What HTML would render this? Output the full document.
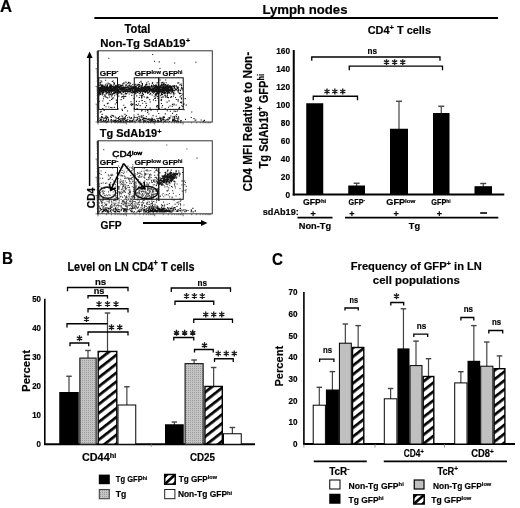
<!DOCTYPE html>
<html><head><meta charset="utf-8"><title>Figure</title>
<style>html,body{margin:0;padding:0;background:#fff;} svg{display:block;filter:blur(0.3px);} text{stroke:#000;stroke-width:0.18px;}</style>
</head><body>
<svg width="520" height="508" viewBox="0 0 520 508">
<defs>
<pattern id="hatch" patternUnits="userSpaceOnUse" width="7" height="7" patternTransform="rotate(-38)">
<rect width="7" height="7" fill="#fff"/><rect width="7" height="2.7" fill="#000"/></pattern>
<pattern id="dotg" patternUnits="userSpaceOnUse" width="2" height="2">
<rect width="2" height="2" fill="#c4c4c4"/><rect width="1" height="1" fill="#9a9a9a"/></pattern>
</defs>
<rect width="520" height="508" fill="#fff"/>
<g font-family="'Liberation Sans', Arial, sans-serif">
<text x="0" y="12.4" font-size="17.2" font-weight="bold" textLength="12.1" lengthAdjust="spacingAndGlyphs" >A</text>
<line x1="94.4" y1="18" x2="498" y2="18" stroke="#000" stroke-width="1.8"/>
<text x="262.5" y="13.8" font-size="12.9" font-weight="bold" textLength="85" lengthAdjust="spacingAndGlyphs" >Lymph nodes</text>
<text x="124.6" y="33.2" font-size="12.3" font-weight="bold" textLength="25.8" lengthAdjust="spacingAndGlyphs" >Total</text>
<text x="100.2" y="47.3" font-size="11.3" font-weight="bold" textLength="90" lengthAdjust="spacingAndGlyphs" >Non-Tg SdAb19<tspan font-size="7.68" dy="-3.84">+</tspan></text>
<path d="M110.5 89.4h1.1v1.1h-1.1zM115.9 91.2h1.1v1.1h-1.1zM113.5 90.5h1.1v1.1h-1.1zM102.5 89.6h1.1v1.1h-1.1zM104.0 89.4h1.1v1.1h-1.1zM115.5 92.2h1.1v1.1h-1.1zM114.4 88.5h1.1v1.1h-1.1zM113.9 87.0h1.1v1.1h-1.1zM107.4 88.5h1.1v1.1h-1.1zM104.1 86.6h1.1v1.1h-1.1zM103.6 88.9h1.1v1.1h-1.1zM103.1 89.2h1.1v1.1h-1.1zM106.9 84.6h1.1v1.1h-1.1zM108.1 88.7h1.1v1.1h-1.1zM109.1 90.0h1.1v1.1h-1.1zM117.9 89.0h1.1v1.1h-1.1zM113.9 86.8h1.1v1.1h-1.1zM110.4 94.1h1.1v1.1h-1.1zM117.8 87.3h1.1v1.1h-1.1zM102.3 86.2h1.1v1.1h-1.1zM101.2 86.5h1.1v1.1h-1.1zM110.3 88.7h1.1v1.1h-1.1zM98.9 90.7h1.1v1.1h-1.1zM98.7 87.3h1.1v1.1h-1.1zM108.3 89.1h1.1v1.1h-1.1zM107.3 86.3h1.1v1.1h-1.1zM116.3 87.4h1.1v1.1h-1.1zM110.6 86.9h1.1v1.1h-1.1zM108.3 93.3h1.1v1.1h-1.1zM107.9 90.9h1.1v1.1h-1.1zM103.0 88.9h1.1v1.1h-1.1zM101.8 88.4h1.1v1.1h-1.1zM111.8 89.6h1.1v1.1h-1.1zM102.0 86.8h1.1v1.1h-1.1zM105.4 87.8h1.1v1.1h-1.1zM114.6 91.0h1.1v1.1h-1.1zM101.1 90.8h1.1v1.1h-1.1zM103.4 87.8h1.1v1.1h-1.1zM115.6 91.1h1.1v1.1h-1.1zM108.2 88.1h1.1v1.1h-1.1zM114.9 91.7h1.1v1.1h-1.1zM110.8 89.7h1.1v1.1h-1.1zM112.8 87.6h1.1v1.1h-1.1zM99.8 90.3h1.1v1.1h-1.1zM108.8 87.2h1.1v1.1h-1.1zM108.2 86.8h1.1v1.1h-1.1zM115.4 77.0h1.1v1.1h-1.1zM105.2 89.2h1.1v1.1h-1.1zM110.0 88.6h1.1v1.1h-1.1zM99.2 88.5h1.1v1.1h-1.1zM105.8 87.9h1.1v1.1h-1.1zM104.5 91.6h1.1v1.1h-1.1zM101.0 91.0h1.1v1.1h-1.1zM114.3 87.3h1.1v1.1h-1.1zM105.6 91.2h1.1v1.1h-1.1zM117.6 91.5h1.1v1.1h-1.1zM109.8 86.4h1.1v1.1h-1.1zM110.1 85.2h1.1v1.1h-1.1zM110.8 87.5h1.1v1.1h-1.1zM111.5 90.0h1.1v1.1h-1.1zM101.0 88.7h1.1v1.1h-1.1zM106.8 91.8h1.1v1.1h-1.1zM102.8 86.0h1.1v1.1h-1.1zM106.0 90.1h1.1v1.1h-1.1zM99.9 87.4h1.1v1.1h-1.1zM117.4 90.5h1.1v1.1h-1.1zM102.3 88.5h1.1v1.1h-1.1zM111.4 90.8h1.1v1.1h-1.1zM104.0 87.4h1.1v1.1h-1.1zM115.5 85.9h1.1v1.1h-1.1zM111.2 86.5h1.1v1.1h-1.1zM100.6 87.5h1.1v1.1h-1.1zM114.9 86.7h1.1v1.1h-1.1zM116.9 91.1h1.1v1.1h-1.1zM116.1 91.4h1.1v1.1h-1.1zM109.4 85.1h1.1v1.1h-1.1zM100.9 86.6h1.1v1.1h-1.1zM101.8 88.5h1.1v1.1h-1.1zM116.6 87.3h1.1v1.1h-1.1zM109.0 91.6h1.1v1.1h-1.1zM101.6 89.3h1.1v1.1h-1.1zM115.7 89.7h1.1v1.1h-1.1zM110.8 87.9h1.1v1.1h-1.1zM109.4 84.7h1.1v1.1h-1.1zM105.5 85.6h1.1v1.1h-1.1zM106.2 92.2h1.1v1.1h-1.1zM102.8 89.4h1.1v1.1h-1.1zM98.8 88.9h1.1v1.1h-1.1zM115.5 87.1h1.1v1.1h-1.1zM107.4 87.9h1.1v1.1h-1.1zM109.0 92.5h1.1v1.1h-1.1zM104.4 86.8h1.1v1.1h-1.1zM113.0 86.9h1.1v1.1h-1.1zM98.5 88.2h1.1v1.1h-1.1zM105.4 87.3h1.1v1.1h-1.1zM98.6 87.8h1.1v1.1h-1.1zM100.5 80.3h1.1v1.1h-1.1zM117.3 92.2h1.1v1.1h-1.1zM111.2 85.1h1.1v1.1h-1.1zM106.6 88.7h1.1v1.1h-1.1zM108.5 92.0h1.1v1.1h-1.1zM115.5 88.5h1.1v1.1h-1.1zM104.9 88.3h1.1v1.1h-1.1zM109.8 86.5h1.1v1.1h-1.1zM111.7 80.9h1.1v1.1h-1.1zM105.1 79.7h1.1v1.1h-1.1zM108.4 94.5h1.1v1.1h-1.1zM113.3 88.7h1.1v1.1h-1.1zM116.2 88.9h1.1v1.1h-1.1zM101.0 88.4h1.1v1.1h-1.1zM116.7 90.7h1.1v1.1h-1.1zM113.1 89.0h1.1v1.1h-1.1zM114.2 88.6h1.1v1.1h-1.1zM100.7 86.7h1.1v1.1h-1.1zM106.4 87.0h1.1v1.1h-1.1zM114.3 86.6h1.1v1.1h-1.1zM110.6 87.8h1.1v1.1h-1.1zM113.9 86.6h1.1v1.1h-1.1zM108.3 89.2h1.1v1.1h-1.1zM112.5 93.1h1.1v1.1h-1.1zM102.5 88.7h1.1v1.1h-1.1zM102.0 92.1h1.1v1.1h-1.1zM105.3 90.6h1.1v1.1h-1.1zM101.6 86.4h1.1v1.1h-1.1zM104.9 90.8h1.1v1.1h-1.1zM117.0 88.8h1.1v1.1h-1.1zM109.5 88.9h1.1v1.1h-1.1zM104.8 91.0h1.1v1.1h-1.1zM103.4 86.6h1.1v1.1h-1.1zM117.0 88.5h1.1v1.1h-1.1zM106.9 92.1h1.1v1.1h-1.1zM117.6 86.6h1.1v1.1h-1.1zM108.3 88.5h1.1v1.1h-1.1zM108.4 89.5h1.1v1.1h-1.1zM115.9 93.5h1.1v1.1h-1.1zM112.9 90.3h1.1v1.1h-1.1zM109.6 88.6h1.1v1.1h-1.1zM106.5 90.0h1.1v1.1h-1.1zM115.6 88.9h1.1v1.1h-1.1zM106.2 86.3h1.1v1.1h-1.1zM116.5 86.0h1.1v1.1h-1.1zM99.4 88.9h1.1v1.1h-1.1zM106.6 89.6h1.1v1.1h-1.1zM108.4 90.1h1.1v1.1h-1.1zM117.0 90.7h1.1v1.1h-1.1zM103.0 89.5h1.1v1.1h-1.1zM114.1 92.7h1.1v1.1h-1.1zM111.5 86.5h1.1v1.1h-1.1zM112.3 92.9h1.1v1.1h-1.1zM110.6 91.1h1.1v1.1h-1.1zM117.4 87.9h1.1v1.1h-1.1zM104.7 88.9h1.1v1.1h-1.1zM106.0 87.0h1.1v1.1h-1.1zM102.1 91.8h1.1v1.1h-1.1zM99.0 93.0h1.1v1.1h-1.1zM102.3 87.9h1.1v1.1h-1.1zM116.3 89.5h1.1v1.1h-1.1zM114.8 88.2h1.1v1.1h-1.1zM100.2 91.2h1.1v1.1h-1.1zM110.1 90.2h1.1v1.1h-1.1zM107.6 82.6h1.1v1.1h-1.1zM109.9 88.3h1.1v1.1h-1.1zM111.2 89.0h1.1v1.1h-1.1zM104.1 86.7h1.1v1.1h-1.1zM117.2 90.1h1.1v1.1h-1.1zM107.3 87.3h1.1v1.1h-1.1zM110.6 85.4h1.1v1.1h-1.1zM110.7 89.0h1.1v1.1h-1.1zM101.7 90.9h1.1v1.1h-1.1zM99.2 82.5h1.1v1.1h-1.1zM106.2 90.7h1.1v1.1h-1.1zM113.3 84.5h1.1v1.1h-1.1zM114.3 89.9h1.1v1.1h-1.1zM112.6 88.3h1.1v1.1h-1.1zM100.3 87.3h1.1v1.1h-1.1zM116.3 89.1h1.1v1.1h-1.1zM114.0 88.0h1.1v1.1h-1.1zM115.6 84.7h1.1v1.1h-1.1zM108.5 94.6h1.1v1.1h-1.1zM116.3 85.7h1.1v1.1h-1.1zM98.9 91.1h1.1v1.1h-1.1zM98.6 84.8h1.1v1.1h-1.1zM103.1 85.4h1.1v1.1h-1.1zM103.0 92.0h1.1v1.1h-1.1zM101.8 92.4h1.1v1.1h-1.1zM109.3 88.9h1.1v1.1h-1.1zM98.8 91.9h1.1v1.1h-1.1zM109.8 85.1h1.1v1.1h-1.1zM101.3 88.0h1.1v1.1h-1.1zM111.6 97.4h1.1v1.1h-1.1zM104.2 90.6h1.1v1.1h-1.1zM116.8 88.0h1.1v1.1h-1.1zM108.8 88.7h1.1v1.1h-1.1zM114.2 93.1h1.1v1.1h-1.1zM111.2 89.4h1.1v1.1h-1.1zM110.2 93.4h1.1v1.1h-1.1zM101.8 94.4h1.1v1.1h-1.1zM109.5 89.1h1.1v1.1h-1.1zM98.8 86.9h1.1v1.1h-1.1zM114.0 87.2h1.1v1.1h-1.1zM117.2 91.6h1.1v1.1h-1.1zM115.1 86.5h1.1v1.1h-1.1zM99.0 86.9h1.1v1.1h-1.1zM104.8 88.5h1.1v1.1h-1.1zM104.4 87.8h1.1v1.1h-1.1zM100.3 92.6h1.1v1.1h-1.1zM110.5 84.0h1.1v1.1h-1.1zM113.9 88.4h1.1v1.1h-1.1zM104.3 89.9h1.1v1.1h-1.1zM115.3 86.5h1.1v1.1h-1.1zM113.9 91.7h1.1v1.1h-1.1zM100.6 89.6h1.1v1.1h-1.1zM113.3 92.0h1.1v1.1h-1.1zM115.7 85.1h1.1v1.1h-1.1zM101.9 85.5h1.1v1.1h-1.1zM109.5 90.6h1.1v1.1h-1.1zM110.8 89.7h1.1v1.1h-1.1zM110.2 88.0h1.1v1.1h-1.1zM99.9 84.3h1.1v1.1h-1.1zM111.2 95.6h1.1v1.1h-1.1zM110.6 88.3h1.1v1.1h-1.1zM114.5 86.0h1.1v1.1h-1.1zM114.1 88.6h1.1v1.1h-1.1zM104.5 95.3h1.1v1.1h-1.1zM112.4 87.6h1.1v1.1h-1.1zM115.3 91.6h1.1v1.1h-1.1zM115.9 91.6h1.1v1.1h-1.1zM101.2 84.4h1.1v1.1h-1.1zM98.5 86.8h1.1v1.1h-1.1zM111.0 92.3h1.1v1.1h-1.1zM102.3 88.0h1.1v1.1h-1.1zM109.3 86.0h1.1v1.1h-1.1zM116.9 87.3h1.1v1.1h-1.1zM105.6 88.5h1.1v1.1h-1.1zM103.1 88.5h1.1v1.1h-1.1zM107.1 87.7h1.1v1.1h-1.1zM111.1 88.1h1.1v1.1h-1.1zM100.0 83.6h1.1v1.1h-1.1zM105.6 89.4h1.1v1.1h-1.1zM100.7 87.1h1.1v1.1h-1.1zM111.2 88.1h1.1v1.1h-1.1zM114.6 88.4h1.1v1.1h-1.1zM105.5 83.5h1.1v1.1h-1.1zM105.4 89.4h1.1v1.1h-1.1zM108.8 88.5h1.1v1.1h-1.1zM102.3 89.8h1.1v1.1h-1.1zM102.9 89.5h1.1v1.1h-1.1zM104.6 84.6h1.1v1.1h-1.1zM107.1 89.7h1.1v1.1h-1.1zM99.6 92.3h1.1v1.1h-1.1zM113.1 89.6h1.1v1.1h-1.1zM109.6 94.0h1.1v1.1h-1.1zM104.0 87.9h1.1v1.1h-1.1zM99.6 93.9h1.1v1.1h-1.1zM113.3 89.7h1.1v1.1h-1.1zM100.6 88.5h1.1v1.1h-1.1zM100.7 85.7h1.1v1.1h-1.1zM100.6 90.6h1.1v1.1h-1.1zM99.6 89.4h1.1v1.1h-1.1zM116.1 90.2h1.1v1.1h-1.1zM103.4 90.3h1.1v1.1h-1.1zM104.1 86.1h1.1v1.1h-1.1zM114.7 90.8h1.1v1.1h-1.1zM110.4 89.0h1.1v1.1h-1.1zM101.7 89.9h1.1v1.1h-1.1zM106.7 89.5h1.1v1.1h-1.1zM115.7 89.1h1.1v1.1h-1.1zM105.5 87.5h1.1v1.1h-1.1zM112.2 93.9h1.1v1.1h-1.1zM99.9 86.9h1.1v1.1h-1.1zM112.5 80.5h1.1v1.1h-1.1zM113.5 89.6h1.1v1.1h-1.1zM114.5 88.8h1.1v1.1h-1.1zM111.5 90.8h1.1v1.1h-1.1zM105.4 89.4h1.1v1.1h-1.1zM99.3 87.4h1.1v1.1h-1.1zM108.4 89.4h1.1v1.1h-1.1zM113.1 97.2h1.1v1.1h-1.1zM101.8 89.9h1.1v1.1h-1.1zM103.3 96.2h1.1v1.1h-1.1zM108.7 86.7h1.1v1.1h-1.1zM113.0 88.7h1.1v1.1h-1.1zM115.9 88.8h1.1v1.1h-1.1zM100.5 88.1h1.1v1.1h-1.1zM101.7 91.3h1.1v1.1h-1.1zM114.0 82.7h1.1v1.1h-1.1zM110.9 88.0h1.1v1.1h-1.1zM112.4 88.0h1.1v1.1h-1.1zM117.9 84.2h1.1v1.1h-1.1zM116.8 88.4h1.1v1.1h-1.1zM114.9 85.1h1.1v1.1h-1.1zM113.5 83.3h1.1v1.1h-1.1zM105.9 89.3h1.1v1.1h-1.1zM110.8 90.8h1.1v1.1h-1.1zM101.7 87.2h1.1v1.1h-1.1zM113.2 88.0h1.1v1.1h-1.1zM113.2 88.8h1.1v1.1h-1.1zM112.4 90.2h1.1v1.1h-1.1zM106.9 85.7h1.1v1.1h-1.1zM105.6 88.1h1.1v1.1h-1.1zM106.4 92.6h1.1v1.1h-1.1zM98.7 91.3h1.1v1.1h-1.1zM114.9 89.6h1.1v1.1h-1.1zM108.8 88.4h1.1v1.1h-1.1zM105.8 86.4h1.1v1.1h-1.1zM109.0 87.2h1.1v1.1h-1.1zM112.4 88.3h1.1v1.1h-1.1zM105.6 93.3h1.1v1.1h-1.1zM114.6 89.4h1.1v1.1h-1.1zM116.4 91.2h1.1v1.1h-1.1zM105.7 90.8h1.1v1.1h-1.1zM100.8 85.5h1.1v1.1h-1.1zM113.2 86.7h1.1v1.1h-1.1zM117.9 85.5h1.1v1.1h-1.1zM101.0 90.8h1.1v1.1h-1.1zM112.3 89.9h1.1v1.1h-1.1zM114.5 90.1h1.1v1.1h-1.1zM116.4 86.9h1.1v1.1h-1.1zM100.5 86.4h1.1v1.1h-1.1zM99.8 88.9h1.1v1.1h-1.1zM117.8 92.5h1.1v1.1h-1.1zM100.3 93.6h1.1v1.1h-1.1zM101.5 89.0h1.1v1.1h-1.1zM109.5 92.2h1.1v1.1h-1.1zM106.9 89.2h1.1v1.1h-1.1zM113.0 90.4h1.1v1.1h-1.1zM101.8 84.5h1.1v1.1h-1.1zM116.3 88.2h1.1v1.1h-1.1zM102.3 84.4h1.1v1.1h-1.1zM113.4 88.2h1.1v1.1h-1.1zM99.4 87.8h1.1v1.1h-1.1zM107.5 83.5h1.1v1.1h-1.1zM98.7 90.1h1.1v1.1h-1.1zM104.3 94.3h1.1v1.1h-1.1zM104.2 88.9h1.1v1.1h-1.1zM112.4 86.8h1.1v1.1h-1.1zM107.1 87.5h1.1v1.1h-1.1zM99.1 89.0h1.1v1.1h-1.1zM117.9 87.3h1.1v1.1h-1.1zM115.8 86.2h1.1v1.1h-1.1zM116.3 88.0h1.1v1.1h-1.1zM102.9 91.1h1.1v1.1h-1.1zM105.9 89.1h1.1v1.1h-1.1zM102.5 93.1h1.1v1.1h-1.1zM100.5 88.4h1.1v1.1h-1.1zM98.7 88.1h1.1v1.1h-1.1zM108.1 90.6h1.1v1.1h-1.1zM100.5 87.5h1.1v1.1h-1.1zM101.5 91.6h1.1v1.1h-1.1zM115.2 89.4h1.1v1.1h-1.1zM107.7 90.2h1.1v1.1h-1.1zM101.7 88.4h1.1v1.1h-1.1zM111.4 88.7h1.1v1.1h-1.1zM103.3 88.3h1.1v1.1h-1.1zM108.5 88.9h1.1v1.1h-1.1zM103.7 90.0h1.1v1.1h-1.1zM108.3 89.6h1.1v1.1h-1.1zM110.6 89.7h1.1v1.1h-1.1zM108.7 89.0h1.1v1.1h-1.1zM105.9 87.2h1.1v1.1h-1.1zM113.8 88.5h1.1v1.1h-1.1zM115.5 86.8h1.1v1.1h-1.1zM101.6 92.1h1.1v1.1h-1.1zM100.7 84.5h1.1v1.1h-1.1zM100.3 88.5h1.1v1.1h-1.1zM117.6 93.5h1.1v1.1h-1.1zM116.8 95.1h1.1v1.1h-1.1zM102.6 86.4h1.1v1.1h-1.1zM117.4 88.7h1.1v1.1h-1.1zM102.2 93.4h1.1v1.1h-1.1zM108.1 88.4h1.1v1.1h-1.1zM107.9 89.9h1.1v1.1h-1.1zM116.3 88.9h1.1v1.1h-1.1zM98.8 88.0h1.1v1.1h-1.1zM104.3 95.0h1.1v1.1h-1.1zM110.0 88.8h1.1v1.1h-1.1zM99.3 87.6h1.1v1.1h-1.1zM102.7 87.7h1.1v1.1h-1.1zM107.3 89.5h1.1v1.1h-1.1zM115.6 91.8h1.1v1.1h-1.1zM113.2 90.2h1.1v1.1h-1.1zM114.6 89.0h1.1v1.1h-1.1zM113.2 81.9h1.1v1.1h-1.1zM112.2 89.8h1.1v1.1h-1.1zM115.0 88.1h1.1v1.1h-1.1zM111.6 88.1h1.1v1.1h-1.1zM112.7 85.7h1.1v1.1h-1.1zM104.0 87.6h1.1v1.1h-1.1zM101.4 89.4h1.1v1.1h-1.1zM113.1 88.6h1.1v1.1h-1.1zM101.3 81.5h1.1v1.1h-1.1zM116.4 91.2h1.1v1.1h-1.1zM109.9 88.9h1.1v1.1h-1.1zM104.6 86.5h1.1v1.1h-1.1zM116.7 87.5h1.1v1.1h-1.1zM101.1 87.0h1.1v1.1h-1.1zM108.3 90.5h1.1v1.1h-1.1zM99.8 81.9h1.1v1.1h-1.1zM117.3 88.0h1.1v1.1h-1.1zM109.5 87.3h1.1v1.1h-1.1zM114.1 87.8h1.1v1.1h-1.1zM103.6 90.4h1.1v1.1h-1.1zM114.0 87.4h1.1v1.1h-1.1zM112.1 89.0h1.1v1.1h-1.1zM110.9 87.0h1.1v1.1h-1.1zM117.0 92.6h1.1v1.1h-1.1zM106.7 85.6h1.1v1.1h-1.1zM106.3 91.0h1.1v1.1h-1.1zM111.8 86.0h1.1v1.1h-1.1zM114.7 86.5h1.1v1.1h-1.1zM104.7 90.9h1.1v1.1h-1.1zM111.4 88.3h1.1v1.1h-1.1zM102.2 88.2h1.1v1.1h-1.1zM109.0 96.4h1.1v1.1h-1.1zM113.4 86.2h1.1v1.1h-1.1zM99.3 90.2h1.1v1.1h-1.1zM112.6 88.7h1.1v1.1h-1.1zM117.2 87.4h1.1v1.1h-1.1zM107.4 89.7h1.1v1.1h-1.1zM106.2 87.3h1.1v1.1h-1.1zM112.4 90.6h1.1v1.1h-1.1zM108.5 91.0h1.1v1.1h-1.1zM112.6 90.5h1.1v1.1h-1.1zM99.7 89.7h1.1v1.1h-1.1zM109.3 90.0h1.1v1.1h-1.1zM109.2 83.3h1.1v1.1h-1.1zM116.6 90.4h1.1v1.1h-1.1zM98.8 88.2h1.1v1.1h-1.1zM107.1 88.9h1.1v1.1h-1.1zM110.6 88.1h1.1v1.1h-1.1zM109.0 85.9h1.1v1.1h-1.1zM99.5 89.4h1.1v1.1h-1.1zM109.9 90.0h1.1v1.1h-1.1zM102.4 93.6h1.1v1.1h-1.1zM101.9 87.9h1.1v1.1h-1.1zM115.6 86.9h1.1v1.1h-1.1zM102.0 91.6h1.1v1.1h-1.1zM107.1 87.2h1.1v1.1h-1.1zM113.0 92.8h1.1v1.1h-1.1zM112.1 88.8h1.1v1.1h-1.1zM109.1 86.9h1.1v1.1h-1.1zM114.1 95.2h1.1v1.1h-1.1zM107.3 92.1h1.1v1.1h-1.1zM110.4 85.8h1.1v1.1h-1.1zM114.4 91.8h1.1v1.1h-1.1zM111.6 94.5h1.1v1.1h-1.1zM110.8 86.0h1.1v1.1h-1.1zM106.1 87.9h1.1v1.1h-1.1zM109.2 85.5h1.1v1.1h-1.1zM105.9 89.7h1.1v1.1h-1.1zM112.9 90.6h1.1v1.1h-1.1zM105.6 92.9h1.1v1.1h-1.1zM107.3 92.1h1.1v1.1h-1.1zM113.1 90.1h1.1v1.1h-1.1zM108.1 88.2h1.1v1.1h-1.1zM104.8 86.9h1.1v1.1h-1.1zM114.5 88.1h1.1v1.1h-1.1zM105.6 87.0h1.1v1.1h-1.1zM114.9 88.2h1.1v1.1h-1.1zM113.7 83.6h1.1v1.1h-1.1zM106.9 87.5h1.1v1.1h-1.1zM112.3 88.6h1.1v1.1h-1.1zM118.6 84.5h1.1v1.1h-1.1zM124.2 90.2h1.1v1.1h-1.1zM131.8 87.7h1.1v1.1h-1.1zM127.3 89.8h1.1v1.1h-1.1zM126.9 86.2h1.1v1.1h-1.1zM128.6 87.5h1.1v1.1h-1.1zM128.8 85.0h1.1v1.1h-1.1zM127.3 91.6h1.1v1.1h-1.1zM124.7 89.9h1.1v1.1h-1.1zM120.9 86.3h1.1v1.1h-1.1zM122.7 88.6h1.1v1.1h-1.1zM122.7 90.6h1.1v1.1h-1.1zM124.9 89.7h1.1v1.1h-1.1zM134.0 84.2h1.1v1.1h-1.1zM123.6 87.0h1.1v1.1h-1.1zM125.2 87.4h1.1v1.1h-1.1zM123.9 88.9h1.1v1.1h-1.1zM127.3 90.5h1.1v1.1h-1.1zM133.2 87.0h1.1v1.1h-1.1zM132.2 84.0h1.1v1.1h-1.1zM124.0 91.0h1.1v1.1h-1.1zM122.3 86.8h1.1v1.1h-1.1zM132.2 90.9h1.1v1.1h-1.1zM125.9 89.2h1.1v1.1h-1.1zM129.0 90.5h1.1v1.1h-1.1zM119.2 92.2h1.1v1.1h-1.1zM131.9 90.1h1.1v1.1h-1.1zM123.0 90.3h1.1v1.1h-1.1zM125.9 86.9h1.1v1.1h-1.1zM121.2 87.3h1.1v1.1h-1.1zM124.7 90.0h1.1v1.1h-1.1zM131.2 91.8h1.1v1.1h-1.1zM131.2 87.3h1.1v1.1h-1.1zM125.6 93.3h1.1v1.1h-1.1zM130.3 89.3h1.1v1.1h-1.1zM125.3 87.6h1.1v1.1h-1.1zM124.0 90.7h1.1v1.1h-1.1zM126.7 88.7h1.1v1.1h-1.1zM121.2 88.6h1.1v1.1h-1.1zM123.1 92.0h1.1v1.1h-1.1zM129.3 90.7h1.1v1.1h-1.1zM130.3 90.8h1.1v1.1h-1.1zM118.9 86.5h1.1v1.1h-1.1zM129.7 85.9h1.1v1.1h-1.1zM131.1 85.5h1.1v1.1h-1.1zM125.1 86.6h1.1v1.1h-1.1zM119.0 90.4h1.1v1.1h-1.1zM128.9 85.5h1.1v1.1h-1.1zM121.9 84.4h1.1v1.1h-1.1zM128.3 88.8h1.1v1.1h-1.1zM124.0 87.1h1.1v1.1h-1.1zM128.2 88.8h1.1v1.1h-1.1zM122.1 87.7h1.1v1.1h-1.1zM125.6 81.7h1.1v1.1h-1.1zM126.4 89.3h1.1v1.1h-1.1zM128.1 88.7h1.1v1.1h-1.1zM121.3 86.5h1.1v1.1h-1.1zM133.4 91.6h1.1v1.1h-1.1zM122.6 96.6h1.1v1.1h-1.1zM122.9 86.7h1.1v1.1h-1.1zM122.1 88.7h1.1v1.1h-1.1zM119.1 87.3h1.1v1.1h-1.1zM124.8 93.3h1.1v1.1h-1.1zM130.3 85.6h1.1v1.1h-1.1zM129.4 87.7h1.1v1.1h-1.1zM121.1 93.2h1.1v1.1h-1.1zM120.2 84.7h1.1v1.1h-1.1zM123.1 94.5h1.1v1.1h-1.1zM130.3 89.8h1.1v1.1h-1.1zM125.8 84.7h1.1v1.1h-1.1zM132.8 86.3h1.1v1.1h-1.1zM128.5 91.0h1.1v1.1h-1.1zM127.9 82.1h1.1v1.1h-1.1zM130.3 86.6h1.1v1.1h-1.1zM130.0 83.2h1.1v1.1h-1.1zM123.5 96.1h1.1v1.1h-1.1zM122.1 86.8h1.1v1.1h-1.1zM125.0 89.3h1.1v1.1h-1.1zM125.8 89.2h1.1v1.1h-1.1zM120.3 92.5h1.1v1.1h-1.1zM125.1 90.2h1.1v1.1h-1.1zM128.2 90.9h1.1v1.1h-1.1zM120.2 91.3h1.1v1.1h-1.1zM120.2 86.3h1.1v1.1h-1.1zM120.8 87.9h1.1v1.1h-1.1zM122.5 87.6h1.1v1.1h-1.1zM133.4 87.9h1.1v1.1h-1.1zM118.4 86.5h1.1v1.1h-1.1zM120.9 89.6h1.1v1.1h-1.1zM120.6 89.2h1.1v1.1h-1.1zM125.6 89.4h1.1v1.1h-1.1zM118.2 95.6h1.1v1.1h-1.1zM125.3 91.3h1.1v1.1h-1.1zM120.6 89.1h1.1v1.1h-1.1zM122.3 83.2h1.1v1.1h-1.1zM130.7 87.4h1.1v1.1h-1.1zM120.9 88.6h1.1v1.1h-1.1zM127.9 81.8h1.1v1.1h-1.1zM124.5 95.7h1.1v1.1h-1.1zM124.7 92.7h1.1v1.1h-1.1zM131.1 87.4h1.1v1.1h-1.1zM120.6 89.5h1.1v1.1h-1.1zM132.8 87.8h1.1v1.1h-1.1zM132.3 87.5h1.1v1.1h-1.1zM128.7 87.2h1.1v1.1h-1.1zM118.8 86.0h1.1v1.1h-1.1zM128.6 93.4h1.1v1.1h-1.1zM127.6 85.3h1.1v1.1h-1.1zM130.4 89.9h1.1v1.1h-1.1zM121.4 93.6h1.1v1.1h-1.1zM133.3 88.2h1.1v1.1h-1.1zM132.2 89.4h1.1v1.1h-1.1zM119.8 91.1h1.1v1.1h-1.1zM123.0 90.8h1.1v1.1h-1.1zM118.5 87.5h1.1v1.1h-1.1zM131.3 88.4h1.1v1.1h-1.1zM132.6 86.1h1.1v1.1h-1.1zM133.8 92.1h1.1v1.1h-1.1zM127.8 89.6h1.1v1.1h-1.1zM128.7 91.5h1.1v1.1h-1.1zM128.9 88.1h1.1v1.1h-1.1zM127.1 89.1h1.1v1.1h-1.1zM133.2 91.8h1.1v1.1h-1.1zM127.7 88.9h1.1v1.1h-1.1zM123.4 83.1h1.1v1.1h-1.1zM126.2 88.8h1.1v1.1h-1.1zM118.3 90.0h1.1v1.1h-1.1zM129.6 89.8h1.1v1.1h-1.1zM129.1 85.5h1.1v1.1h-1.1zM124.7 90.9h1.1v1.1h-1.1zM131.6 87.6h1.1v1.1h-1.1zM130.1 87.8h1.1v1.1h-1.1zM123.4 82.2h1.1v1.1h-1.1zM119.2 84.3h1.1v1.1h-1.1zM120.1 88.0h1.1v1.1h-1.1zM120.9 85.0h1.1v1.1h-1.1zM122.9 89.0h1.1v1.1h-1.1zM125.2 81.4h1.1v1.1h-1.1zM132.8 88.5h1.1v1.1h-1.1zM122.5 91.5h1.1v1.1h-1.1zM132.4 87.1h1.1v1.1h-1.1zM128.9 83.4h1.1v1.1h-1.1zM131.7 89.1h1.1v1.1h-1.1zM124.5 90.3h1.1v1.1h-1.1zM118.1 90.8h1.1v1.1h-1.1zM130.6 87.2h1.1v1.1h-1.1zM121.9 91.5h1.1v1.1h-1.1zM120.3 89.8h1.1v1.1h-1.1zM130.8 87.7h1.1v1.1h-1.1zM129.0 88.4h1.1v1.1h-1.1zM121.4 84.8h1.1v1.1h-1.1zM122.3 89.1h1.1v1.1h-1.1zM133.0 90.5h1.1v1.1h-1.1zM122.3 91.5h1.1v1.1h-1.1zM129.2 88.8h1.1v1.1h-1.1zM120.1 85.3h1.1v1.1h-1.1zM131.0 85.2h1.1v1.1h-1.1zM119.9 91.1h1.1v1.1h-1.1zM126.3 92.9h1.1v1.1h-1.1zM118.6 91.1h1.1v1.1h-1.1zM126.8 90.1h1.1v1.1h-1.1zM131.5 88.8h1.1v1.1h-1.1zM119.4 87.5h1.1v1.1h-1.1zM122.4 88.4h1.1v1.1h-1.1zM130.2 92.2h1.1v1.1h-1.1zM127.7 87.1h1.1v1.1h-1.1zM123.0 90.6h1.1v1.1h-1.1zM128.1 86.7h1.1v1.1h-1.1zM125.3 85.1h1.1v1.1h-1.1zM131.8 86.7h1.1v1.1h-1.1zM122.7 85.4h1.1v1.1h-1.1zM130.1 86.0h1.1v1.1h-1.1zM128.2 89.6h1.1v1.1h-1.1zM129.8 88.3h1.1v1.1h-1.1zM124.1 89.1h1.1v1.1h-1.1zM129.6 91.0h1.1v1.1h-1.1zM129.2 81.9h1.1v1.1h-1.1zM124.2 87.7h1.1v1.1h-1.1zM118.4 91.4h1.1v1.1h-1.1zM133.4 90.9h1.1v1.1h-1.1zM129.4 88.7h1.1v1.1h-1.1zM121.3 89.6h1.1v1.1h-1.1zM129.7 88.9h1.1v1.1h-1.1zM122.5 87.1h1.1v1.1h-1.1zM125.5 83.7h1.1v1.1h-1.1zM131.8 89.9h1.1v1.1h-1.1zM125.2 95.9h1.1v1.1h-1.1zM122.6 88.4h1.1v1.1h-1.1zM122.9 90.6h1.1v1.1h-1.1zM119.2 91.5h1.1v1.1h-1.1zM121.5 90.2h1.1v1.1h-1.1zM122.3 91.2h1.1v1.1h-1.1zM120.8 87.9h1.1v1.1h-1.1zM119.0 88.1h1.1v1.1h-1.1zM125.5 89.3h1.1v1.1h-1.1zM121.4 88.1h1.1v1.1h-1.1zM129.8 87.7h1.1v1.1h-1.1zM132.8 92.0h1.1v1.1h-1.1zM122.4 88.3h1.1v1.1h-1.1zM127.2 86.8h1.1v1.1h-1.1zM126.1 88.4h1.1v1.1h-1.1zM119.2 92.4h1.1v1.1h-1.1zM120.0 88.9h1.1v1.1h-1.1zM132.2 91.2h1.1v1.1h-1.1zM125.6 88.2h1.1v1.1h-1.1zM130.9 87.7h1.1v1.1h-1.1zM119.1 87.3h1.1v1.1h-1.1zM127.5 88.4h1.1v1.1h-1.1zM131.8 92.4h1.1v1.1h-1.1zM131.9 86.4h1.1v1.1h-1.1zM118.1 89.9h1.1v1.1h-1.1zM126.3 86.7h1.1v1.1h-1.1zM123.9 88.2h1.1v1.1h-1.1zM130.2 90.4h1.1v1.1h-1.1zM119.2 92.1h1.1v1.1h-1.1zM122.2 89.3h1.1v1.1h-1.1zM131.0 85.4h1.1v1.1h-1.1zM125.5 90.8h1.1v1.1h-1.1zM125.3 89.6h1.1v1.1h-1.1zM133.5 90.7h1.1v1.1h-1.1zM123.1 88.6h1.1v1.1h-1.1zM118.7 89.1h1.1v1.1h-1.1zM124.3 86.4h1.1v1.1h-1.1zM120.5 87.7h1.1v1.1h-1.1zM119.3 86.1h1.1v1.1h-1.1zM127.1 90.7h1.1v1.1h-1.1zM133.3 88.2h1.1v1.1h-1.1zM127.3 89.8h1.1v1.1h-1.1zM128.4 87.3h1.1v1.1h-1.1zM123.2 87.7h1.1v1.1h-1.1zM127.1 91.3h1.1v1.1h-1.1zM130.0 89.7h1.1v1.1h-1.1zM127.4 88.3h1.1v1.1h-1.1zM130.8 89.5h1.1v1.1h-1.1zM126.8 90.1h1.1v1.1h-1.1zM121.2 87.8h1.1v1.1h-1.1zM127.3 83.1h1.1v1.1h-1.1zM125.9 90.8h1.1v1.1h-1.1zM120.7 90.5h1.1v1.1h-1.1zM127.9 87.3h1.1v1.1h-1.1zM153.6 91.7h1.1v1.1h-1.1zM137.2 91.4h1.1v1.1h-1.1zM147.1 87.8h1.1v1.1h-1.1zM151.6 94.4h1.1v1.1h-1.1zM143.7 87.0h1.1v1.1h-1.1zM140.5 89.1h1.1v1.1h-1.1zM142.9 93.8h1.1v1.1h-1.1zM147.0 85.8h1.1v1.1h-1.1zM150.5 90.5h1.1v1.1h-1.1zM147.4 97.1h1.1v1.1h-1.1zM136.6 84.9h1.1v1.1h-1.1zM153.6 85.1h1.1v1.1h-1.1zM156.2 92.9h1.1v1.1h-1.1zM136.4 88.8h1.1v1.1h-1.1zM140.0 92.5h1.1v1.1h-1.1zM138.2 88.5h1.1v1.1h-1.1zM154.4 90.8h1.1v1.1h-1.1zM155.8 84.5h1.1v1.1h-1.1zM135.1 88.8h1.1v1.1h-1.1zM142.0 93.1h1.1v1.1h-1.1zM138.6 87.9h1.1v1.1h-1.1zM145.3 88.7h1.1v1.1h-1.1zM156.1 90.0h1.1v1.1h-1.1zM135.7 87.1h1.1v1.1h-1.1zM138.1 83.7h1.1v1.1h-1.1zM145.7 85.8h1.1v1.1h-1.1zM146.6 89.1h1.1v1.1h-1.1zM151.9 89.4h1.1v1.1h-1.1zM144.5 88.0h1.1v1.1h-1.1zM137.4 89.3h1.1v1.1h-1.1zM142.5 87.5h1.1v1.1h-1.1zM157.6 87.2h1.1v1.1h-1.1zM152.0 90.1h1.1v1.1h-1.1zM136.8 91.8h1.1v1.1h-1.1zM153.4 91.4h1.1v1.1h-1.1zM141.5 86.7h1.1v1.1h-1.1zM152.8 90.2h1.1v1.1h-1.1zM134.3 86.9h1.1v1.1h-1.1zM154.9 84.7h1.1v1.1h-1.1zM137.9 86.4h1.1v1.1h-1.1zM144.9 90.6h1.1v1.1h-1.1zM149.9 86.6h1.1v1.1h-1.1zM146.2 87.8h1.1v1.1h-1.1zM138.0 87.4h1.1v1.1h-1.1zM137.3 91.1h1.1v1.1h-1.1zM140.8 86.3h1.1v1.1h-1.1zM135.3 88.5h1.1v1.1h-1.1zM139.2 87.6h1.1v1.1h-1.1zM137.1 92.0h1.1v1.1h-1.1zM145.2 86.8h1.1v1.1h-1.1zM142.6 88.5h1.1v1.1h-1.1zM148.1 85.9h1.1v1.1h-1.1zM140.7 87.1h1.1v1.1h-1.1zM134.8 88.2h1.1v1.1h-1.1zM141.9 84.0h1.1v1.1h-1.1zM152.1 82.1h1.1v1.1h-1.1zM140.1 89.4h1.1v1.1h-1.1zM143.7 89.3h1.1v1.1h-1.1zM152.1 90.6h1.1v1.1h-1.1zM143.8 87.1h1.1v1.1h-1.1zM155.3 91.1h1.1v1.1h-1.1zM156.0 88.0h1.1v1.1h-1.1zM141.5 93.4h1.1v1.1h-1.1zM151.7 86.3h1.1v1.1h-1.1zM140.1 87.5h1.1v1.1h-1.1zM137.3 91.2h1.1v1.1h-1.1zM144.5 88.4h1.1v1.1h-1.1zM148.5 87.2h1.1v1.1h-1.1zM156.5 86.1h1.1v1.1h-1.1zM137.5 89.8h1.1v1.1h-1.1zM151.1 90.7h1.1v1.1h-1.1zM145.4 91.5h1.1v1.1h-1.1zM137.2 88.8h1.1v1.1h-1.1zM157.3 90.8h1.1v1.1h-1.1zM150.7 86.6h1.1v1.1h-1.1zM137.1 89.0h1.1v1.1h-1.1zM155.7 87.3h1.1v1.1h-1.1zM136.5 89.2h1.1v1.1h-1.1zM136.2 90.2h1.1v1.1h-1.1zM142.0 90.8h1.1v1.1h-1.1zM156.5 86.7h1.1v1.1h-1.1zM134.8 91.2h1.1v1.1h-1.1zM156.0 87.8h1.1v1.1h-1.1zM148.7 86.6h1.1v1.1h-1.1zM135.6 88.4h1.1v1.1h-1.1zM147.6 81.2h1.1v1.1h-1.1zM145.0 89.8h1.1v1.1h-1.1zM147.5 89.3h1.1v1.1h-1.1zM151.7 89.7h1.1v1.1h-1.1zM150.3 89.8h1.1v1.1h-1.1zM157.9 88.1h1.1v1.1h-1.1zM137.8 88.7h1.1v1.1h-1.1zM153.5 85.8h1.1v1.1h-1.1zM143.9 88.8h1.1v1.1h-1.1zM152.8 84.2h1.1v1.1h-1.1zM155.4 85.7h1.1v1.1h-1.1zM157.8 88.5h1.1v1.1h-1.1zM140.4 80.8h1.1v1.1h-1.1zM144.9 85.4h1.1v1.1h-1.1zM156.6 85.6h1.1v1.1h-1.1zM156.7 91.1h1.1v1.1h-1.1zM142.9 89.6h1.1v1.1h-1.1zM156.6 89.1h1.1v1.1h-1.1zM143.7 85.9h1.1v1.1h-1.1zM143.0 86.9h1.1v1.1h-1.1zM152.2 89.7h1.1v1.1h-1.1zM145.3 88.7h1.1v1.1h-1.1zM144.8 86.6h1.1v1.1h-1.1zM143.3 89.3h1.1v1.1h-1.1zM144.4 90.1h1.1v1.1h-1.1zM137.4 89.2h1.1v1.1h-1.1zM135.5 89.1h1.1v1.1h-1.1zM152.1 88.7h1.1v1.1h-1.1zM147.5 88.4h1.1v1.1h-1.1zM150.1 89.1h1.1v1.1h-1.1zM153.3 89.1h1.1v1.1h-1.1zM139.5 89.3h1.1v1.1h-1.1zM139.6 89.3h1.1v1.1h-1.1zM140.7 89.4h1.1v1.1h-1.1zM141.3 86.6h1.1v1.1h-1.1zM152.3 89.7h1.1v1.1h-1.1zM143.0 89.5h1.1v1.1h-1.1zM141.8 88.3h1.1v1.1h-1.1zM149.3 87.9h1.1v1.1h-1.1zM138.5 88.9h1.1v1.1h-1.1zM136.6 87.2h1.1v1.1h-1.1zM150.7 88.3h1.1v1.1h-1.1zM152.2 89.2h1.1v1.1h-1.1zM141.1 86.4h1.1v1.1h-1.1zM149.3 88.8h1.1v1.1h-1.1zM134.8 93.2h1.1v1.1h-1.1zM143.7 90.6h1.1v1.1h-1.1zM147.9 89.2h1.1v1.1h-1.1zM140.1 89.9h1.1v1.1h-1.1zM142.4 88.9h1.1v1.1h-1.1zM148.6 90.6h1.1v1.1h-1.1zM148.2 88.4h1.1v1.1h-1.1zM137.7 87.9h1.1v1.1h-1.1zM151.0 88.9h1.1v1.1h-1.1zM135.9 90.5h1.1v1.1h-1.1zM157.3 89.4h1.1v1.1h-1.1zM138.9 90.0h1.1v1.1h-1.1zM140.1 84.7h1.1v1.1h-1.1zM138.8 91.1h1.1v1.1h-1.1zM157.8 93.4h1.1v1.1h-1.1zM140.9 95.1h1.1v1.1h-1.1zM148.5 88.1h1.1v1.1h-1.1zM157.8 87.0h1.1v1.1h-1.1zM156.8 89.3h1.1v1.1h-1.1zM135.0 86.7h1.1v1.1h-1.1zM146.5 90.2h1.1v1.1h-1.1zM148.4 89.6h1.1v1.1h-1.1zM150.9 84.8h1.1v1.1h-1.1zM142.1 91.4h1.1v1.1h-1.1zM141.9 84.6h1.1v1.1h-1.1zM134.1 84.9h1.1v1.1h-1.1zM134.8 85.8h1.1v1.1h-1.1zM147.2 85.9h1.1v1.1h-1.1zM135.8 87.3h1.1v1.1h-1.1zM138.9 88.3h1.1v1.1h-1.1zM142.0 91.2h1.1v1.1h-1.1zM135.7 85.7h1.1v1.1h-1.1zM134.7 90.8h1.1v1.1h-1.1zM156.2 92.7h1.1v1.1h-1.1zM144.4 89.9h1.1v1.1h-1.1zM138.9 89.8h1.1v1.1h-1.1zM151.0 88.7h1.1v1.1h-1.1zM134.2 86.3h1.1v1.1h-1.1zM139.9 91.7h1.1v1.1h-1.1zM157.1 89.5h1.1v1.1h-1.1zM155.5 87.6h1.1v1.1h-1.1zM149.3 93.8h1.1v1.1h-1.1zM136.2 95.3h1.1v1.1h-1.1zM141.6 89.6h1.1v1.1h-1.1zM134.7 91.8h1.1v1.1h-1.1zM139.3 86.0h1.1v1.1h-1.1zM134.6 85.4h1.1v1.1h-1.1zM137.0 87.9h1.1v1.1h-1.1zM149.2 89.9h1.1v1.1h-1.1zM136.4 90.1h1.1v1.1h-1.1zM137.7 89.3h1.1v1.1h-1.1zM155.7 93.9h1.1v1.1h-1.1zM142.1 91.7h1.1v1.1h-1.1zM142.0 90.2h1.1v1.1h-1.1zM136.1 87.9h1.1v1.1h-1.1zM153.1 89.9h1.1v1.1h-1.1zM150.2 90.3h1.1v1.1h-1.1zM147.1 86.6h1.1v1.1h-1.1zM148.8 89.4h1.1v1.1h-1.1zM136.4 90.1h1.1v1.1h-1.1zM140.2 89.1h1.1v1.1h-1.1zM148.0 91.8h1.1v1.1h-1.1zM156.9 95.9h1.1v1.1h-1.1zM153.6 87.0h1.1v1.1h-1.1zM149.4 88.9h1.1v1.1h-1.1zM146.5 87.0h1.1v1.1h-1.1zM134.4 89.9h1.1v1.1h-1.1zM155.4 87.0h1.1v1.1h-1.1zM135.6 91.3h1.1v1.1h-1.1zM137.1 89.9h1.1v1.1h-1.1zM150.6 88.2h1.1v1.1h-1.1zM153.5 87.0h1.1v1.1h-1.1zM152.9 85.8h1.1v1.1h-1.1zM144.9 92.2h1.1v1.1h-1.1zM138.2 84.0h1.1v1.1h-1.1zM134.8 91.5h1.1v1.1h-1.1zM154.4 89.6h1.1v1.1h-1.1zM157.5 90.0h1.1v1.1h-1.1zM139.9 90.0h1.1v1.1h-1.1zM154.8 89.4h1.1v1.1h-1.1zM143.7 91.5h1.1v1.1h-1.1zM141.5 85.7h1.1v1.1h-1.1zM146.1 82.6h1.1v1.1h-1.1zM134.2 88.2h1.1v1.1h-1.1zM144.6 88.4h1.1v1.1h-1.1zM138.8 88.7h1.1v1.1h-1.1zM151.1 89.4h1.1v1.1h-1.1zM146.1 90.5h1.1v1.1h-1.1zM154.9 94.3h1.1v1.1h-1.1zM155.5 88.8h1.1v1.1h-1.1zM141.6 94.9h1.1v1.1h-1.1zM140.7 91.0h1.1v1.1h-1.1zM156.5 87.9h1.1v1.1h-1.1zM146.1 89.6h1.1v1.1h-1.1zM136.3 87.9h1.1v1.1h-1.1zM135.1 90.0h1.1v1.1h-1.1zM157.8 90.7h1.1v1.1h-1.1zM147.9 87.9h1.1v1.1h-1.1zM135.3 83.8h1.1v1.1h-1.1zM146.3 83.9h1.1v1.1h-1.1zM146.1 89.3h1.1v1.1h-1.1zM144.4 86.7h1.1v1.1h-1.1zM156.8 88.6h1.1v1.1h-1.1zM156.8 86.2h1.1v1.1h-1.1zM137.0 84.6h1.1v1.1h-1.1zM137.6 87.8h1.1v1.1h-1.1zM143.8 85.9h1.1v1.1h-1.1zM154.0 87.7h1.1v1.1h-1.1zM149.0 88.7h1.1v1.1h-1.1zM151.5 88.5h1.1v1.1h-1.1zM147.8 88.6h1.1v1.1h-1.1zM139.0 90.1h1.1v1.1h-1.1zM153.6 87.8h1.1v1.1h-1.1zM134.3 86.2h1.1v1.1h-1.1zM150.8 86.2h1.1v1.1h-1.1zM138.7 92.9h1.1v1.1h-1.1zM145.3 84.0h1.1v1.1h-1.1zM157.4 88.3h1.1v1.1h-1.1zM146.9 91.6h1.1v1.1h-1.1zM135.4 87.6h1.1v1.1h-1.1zM144.3 87.0h1.1v1.1h-1.1zM149.8 90.0h1.1v1.1h-1.1zM135.4 93.1h1.1v1.1h-1.1zM140.1 87.3h1.1v1.1h-1.1zM134.4 86.9h1.1v1.1h-1.1zM147.0 90.2h1.1v1.1h-1.1zM143.2 87.3h1.1v1.1h-1.1zM146.1 90.9h1.1v1.1h-1.1zM141.1 96.3h1.1v1.1h-1.1zM149.8 88.0h1.1v1.1h-1.1zM138.2 85.8h1.1v1.1h-1.1zM155.8 88.2h1.1v1.1h-1.1zM157.0 92.3h1.1v1.1h-1.1zM145.8 90.1h1.1v1.1h-1.1zM145.2 89.1h1.1v1.1h-1.1zM154.6 93.5h1.1v1.1h-1.1zM141.0 90.3h1.1v1.1h-1.1zM153.3 90.5h1.1v1.1h-1.1zM140.9 87.6h1.1v1.1h-1.1zM151.3 88.8h1.1v1.1h-1.1zM142.0 88.9h1.1v1.1h-1.1zM148.5 91.7h1.1v1.1h-1.1zM156.2 87.8h1.1v1.1h-1.1zM135.3 87.6h1.1v1.1h-1.1zM153.4 85.5h1.1v1.1h-1.1zM147.0 89.7h1.1v1.1h-1.1zM143.1 87.8h1.1v1.1h-1.1zM142.4 95.4h1.1v1.1h-1.1zM135.7 86.6h1.1v1.1h-1.1zM140.2 88.0h1.1v1.1h-1.1zM149.0 90.8h1.1v1.1h-1.1zM136.3 88.4h1.1v1.1h-1.1zM150.1 90.0h1.1v1.1h-1.1zM157.1 88.9h1.1v1.1h-1.1zM157.5 88.0h1.1v1.1h-1.1zM155.3 90.7h1.1v1.1h-1.1zM153.4 90.7h1.1v1.1h-1.1zM138.3 89.0h1.1v1.1h-1.1zM157.3 90.7h1.1v1.1h-1.1zM138.9 84.7h1.1v1.1h-1.1zM154.9 85.4h1.1v1.1h-1.1zM155.1 84.4h1.1v1.1h-1.1zM148.9 86.9h1.1v1.1h-1.1zM146.5 90.8h1.1v1.1h-1.1zM138.8 89.8h1.1v1.1h-1.1zM146.5 88.6h1.1v1.1h-1.1zM141.0 89.0h1.1v1.1h-1.1zM137.0 88.0h1.1v1.1h-1.1zM137.1 88.1h1.1v1.1h-1.1zM153.2 89.5h1.1v1.1h-1.1zM156.1 89.0h1.1v1.1h-1.1zM137.4 84.3h1.1v1.1h-1.1zM134.3 87.9h1.1v1.1h-1.1zM140.3 91.4h1.1v1.1h-1.1zM137.2 87.9h1.1v1.1h-1.1zM138.5 89.0h1.1v1.1h-1.1zM148.0 87.5h1.1v1.1h-1.1zM144.1 87.7h1.1v1.1h-1.1zM144.3 90.9h1.1v1.1h-1.1zM138.9 84.2h1.1v1.1h-1.1zM150.0 86.7h1.1v1.1h-1.1zM140.9 82.5h1.1v1.1h-1.1zM143.6 87.6h1.1v1.1h-1.1zM145.1 86.5h1.1v1.1h-1.1zM155.7 85.1h1.1v1.1h-1.1zM139.9 90.3h1.1v1.1h-1.1zM151.2 90.1h1.1v1.1h-1.1zM141.4 84.9h1.1v1.1h-1.1zM155.5 90.4h1.1v1.1h-1.1zM143.5 88.0h1.1v1.1h-1.1zM146.1 87.1h1.1v1.1h-1.1zM155.1 90.2h1.1v1.1h-1.1zM150.1 93.1h1.1v1.1h-1.1zM136.3 77.0h1.1v1.1h-1.1zM137.3 90.1h1.1v1.1h-1.1zM157.8 86.5h1.1v1.1h-1.1zM134.7 90.5h1.1v1.1h-1.1zM141.2 86.0h1.1v1.1h-1.1zM157.0 86.4h1.1v1.1h-1.1zM134.4 91.1h1.1v1.1h-1.1zM137.9 86.6h1.1v1.1h-1.1zM139.1 82.0h1.1v1.1h-1.1zM136.1 90.4h1.1v1.1h-1.1zM145.3 87.3h1.1v1.1h-1.1zM148.2 86.1h1.1v1.1h-1.1zM141.6 87.7h1.1v1.1h-1.1zM136.6 88.8h1.1v1.1h-1.1zM153.5 86.8h1.1v1.1h-1.1zM153.3 89.2h1.1v1.1h-1.1zM147.5 92.3h1.1v1.1h-1.1zM137.3 87.5h1.1v1.1h-1.1zM147.0 88.8h1.1v1.1h-1.1zM149.1 91.4h1.1v1.1h-1.1zM144.3 87.4h1.1v1.1h-1.1zM154.7 87.0h1.1v1.1h-1.1zM143.4 86.5h1.1v1.1h-1.1zM146.3 89.5h1.1v1.1h-1.1zM136.7 89.7h1.1v1.1h-1.1zM147.5 88.4h1.1v1.1h-1.1zM152.4 88.8h1.1v1.1h-1.1zM151.6 91.2h1.1v1.1h-1.1zM140.2 90.4h1.1v1.1h-1.1zM157.8 85.9h1.1v1.1h-1.1zM151.3 88.6h1.1v1.1h-1.1zM144.2 88.9h1.1v1.1h-1.1zM144.0 90.1h1.1v1.1h-1.1zM152.7 88.2h1.1v1.1h-1.1zM138.2 87.4h1.1v1.1h-1.1zM149.4 86.6h1.1v1.1h-1.1zM151.3 85.1h1.1v1.1h-1.1zM146.4 88.6h1.1v1.1h-1.1zM155.0 87.5h1.1v1.1h-1.1zM145.2 91.7h1.1v1.1h-1.1zM145.2 86.6h1.1v1.1h-1.1zM140.8 87.8h1.1v1.1h-1.1zM156.1 91.4h1.1v1.1h-1.1zM141.6 86.5h1.1v1.1h-1.1zM150.7 88.8h1.1v1.1h-1.1zM143.8 87.7h1.1v1.1h-1.1zM156.5 82.3h1.1v1.1h-1.1zM156.8 86.4h1.1v1.1h-1.1zM134.7 88.8h1.1v1.1h-1.1zM157.9 92.1h1.1v1.1h-1.1zM148.5 87.7h1.1v1.1h-1.1zM135.8 87.6h1.1v1.1h-1.1zM145.9 89.8h1.1v1.1h-1.1zM135.2 89.0h1.1v1.1h-1.1zM147.2 93.0h1.1v1.1h-1.1zM138.5 90.3h1.1v1.1h-1.1zM142.8 89.3h1.1v1.1h-1.1zM141.3 89.7h1.1v1.1h-1.1zM148.5 90.1h1.1v1.1h-1.1zM153.7 92.0h1.1v1.1h-1.1zM156.5 88.0h1.1v1.1h-1.1zM141.9 83.0h1.1v1.1h-1.1zM147.7 87.8h1.1v1.1h-1.1zM134.1 89.4h1.1v1.1h-1.1zM142.9 90.8h1.1v1.1h-1.1zM157.1 90.3h1.1v1.1h-1.1zM136.9 87.8h1.1v1.1h-1.1zM154.9 86.0h1.1v1.1h-1.1zM149.7 88.5h1.1v1.1h-1.1zM141.1 88.8h1.1v1.1h-1.1zM152.7 90.8h1.1v1.1h-1.1zM140.9 87.8h1.1v1.1h-1.1zM155.5 88.2h1.1v1.1h-1.1zM136.0 90.5h1.1v1.1h-1.1zM136.9 87.7h1.1v1.1h-1.1zM152.0 88.3h1.1v1.1h-1.1zM144.8 92.0h1.1v1.1h-1.1zM137.5 91.6h1.1v1.1h-1.1zM146.3 89.9h1.1v1.1h-1.1zM141.1 89.1h1.1v1.1h-1.1zM147.2 86.7h1.1v1.1h-1.1zM151.8 82.8h1.1v1.1h-1.1zM154.6 88.7h1.1v1.1h-1.1zM135.4 89.0h1.1v1.1h-1.1zM148.2 87.6h1.1v1.1h-1.1zM157.6 88.6h1.1v1.1h-1.1zM145.0 88.2h1.1v1.1h-1.1zM152.5 89.2h1.1v1.1h-1.1zM136.3 91.5h1.1v1.1h-1.1zM155.0 89.3h1.1v1.1h-1.1zM148.0 87.2h1.1v1.1h-1.1zM155.3 86.7h1.1v1.1h-1.1zM152.9 92.6h1.1v1.1h-1.1zM154.9 87.0h1.1v1.1h-1.1zM135.4 89.7h1.1v1.1h-1.1zM151.2 89.4h1.1v1.1h-1.1zM138.7 87.4h1.1v1.1h-1.1zM140.4 89.1h1.1v1.1h-1.1zM141.8 87.1h1.1v1.1h-1.1zM148.2 85.8h1.1v1.1h-1.1zM149.1 85.8h1.1v1.1h-1.1zM156.4 90.1h1.1v1.1h-1.1zM134.3 91.4h1.1v1.1h-1.1zM138.6 89.5h1.1v1.1h-1.1zM142.7 87.6h1.1v1.1h-1.1zM153.6 91.3h1.1v1.1h-1.1zM147.2 88.2h1.1v1.1h-1.1zM146.3 87.2h1.1v1.1h-1.1zM152.2 87.4h1.1v1.1h-1.1zM149.7 88.6h1.1v1.1h-1.1zM141.0 88.5h1.1v1.1h-1.1zM136.1 88.6h1.1v1.1h-1.1zM145.1 90.6h1.1v1.1h-1.1zM155.1 91.0h1.1v1.1h-1.1zM148.4 89.3h1.1v1.1h-1.1zM135.3 89.3h1.1v1.1h-1.1zM144.6 85.4h1.1v1.1h-1.1zM143.2 89.3h1.1v1.1h-1.1zM148.0 86.4h1.1v1.1h-1.1zM148.1 89.4h1.1v1.1h-1.1zM156.8 89.0h1.1v1.1h-1.1zM142.1 86.9h1.1v1.1h-1.1zM143.8 96.5h1.1v1.1h-1.1zM148.7 83.3h1.1v1.1h-1.1zM155.3 91.1h1.1v1.1h-1.1zM150.9 89.0h1.1v1.1h-1.1zM145.3 84.7h1.1v1.1h-1.1zM153.5 87.0h1.1v1.1h-1.1zM145.6 85.6h1.1v1.1h-1.1zM157.1 92.9h1.1v1.1h-1.1zM140.8 88.3h1.1v1.1h-1.1zM137.1 89.2h1.1v1.1h-1.1zM153.9 90.8h1.1v1.1h-1.1zM141.1 90.2h1.1v1.1h-1.1zM154.3 91.0h1.1v1.1h-1.1zM148.6 89.8h1.1v1.1h-1.1zM146.2 87.7h1.1v1.1h-1.1zM136.1 90.8h1.1v1.1h-1.1zM152.9 87.6h1.1v1.1h-1.1zM135.6 87.4h1.1v1.1h-1.1zM157.2 91.6h1.1v1.1h-1.1zM155.0 90.2h1.1v1.1h-1.1zM141.3 97.1h1.1v1.1h-1.1zM137.1 90.1h1.1v1.1h-1.1zM155.3 93.5h1.1v1.1h-1.1zM145.5 85.9h1.1v1.1h-1.1zM137.0 88.4h1.1v1.1h-1.1zM156.6 86.8h1.1v1.1h-1.1zM159.7 88.8h1.1v1.1h-1.1zM163.4 87.2h1.1v1.1h-1.1zM163.2 91.3h1.1v1.1h-1.1zM166.2 89.6h1.1v1.1h-1.1zM169.2 87.0h1.1v1.1h-1.1zM161.5 88.6h1.1v1.1h-1.1zM159.9 86.2h1.1v1.1h-1.1zM155.8 88.7h1.1v1.1h-1.1zM159.4 89.3h1.1v1.1h-1.1zM166.7 90.6h1.1v1.1h-1.1zM164.2 84.7h1.1v1.1h-1.1zM158.9 87.9h1.1v1.1h-1.1zM162.1 89.6h1.1v1.1h-1.1zM164.2 89.2h1.1v1.1h-1.1zM166.5 90.9h1.1v1.1h-1.1zM161.0 93.8h1.1v1.1h-1.1zM162.7 89.6h1.1v1.1h-1.1zM154.9 87.3h1.1v1.1h-1.1zM158.2 89.0h1.1v1.1h-1.1zM172.1 89.4h1.1v1.1h-1.1zM153.1 90.0h1.1v1.1h-1.1zM162.3 87.5h1.1v1.1h-1.1zM165.1 92.1h1.1v1.1h-1.1zM162.1 93.9h1.1v1.1h-1.1zM160.0 89.3h1.1v1.1h-1.1zM163.7 89.7h1.1v1.1h-1.1zM164.0 88.5h1.1v1.1h-1.1zM163.6 82.4h1.1v1.1h-1.1zM154.6 86.9h1.1v1.1h-1.1zM163.3 88.6h1.1v1.1h-1.1zM159.7 91.7h1.1v1.1h-1.1zM161.3 90.7h1.1v1.1h-1.1zM165.1 90.2h1.1v1.1h-1.1zM167.2 85.0h1.1v1.1h-1.1zM168.5 88.4h1.1v1.1h-1.1zM161.5 89.5h1.1v1.1h-1.1zM168.6 92.7h1.1v1.1h-1.1zM169.9 89.4h1.1v1.1h-1.1zM169.7 88.1h1.1v1.1h-1.1zM170.9 89.9h1.1v1.1h-1.1zM163.3 91.5h1.1v1.1h-1.1zM163.1 88.4h1.1v1.1h-1.1zM168.1 86.6h1.1v1.1h-1.1zM157.2 92.7h1.1v1.1h-1.1zM165.0 87.5h1.1v1.1h-1.1zM161.3 91.0h1.1v1.1h-1.1zM162.2 92.4h1.1v1.1h-1.1zM155.3 86.7h1.1v1.1h-1.1zM159.5 89.2h1.1v1.1h-1.1zM163.9 87.9h1.1v1.1h-1.1zM168.4 89.6h1.1v1.1h-1.1zM169.0 89.2h1.1v1.1h-1.1zM163.6 92.5h1.1v1.1h-1.1zM163.1 89.8h1.1v1.1h-1.1zM159.8 91.5h1.1v1.1h-1.1zM166.0 90.8h1.1v1.1h-1.1zM162.8 88.0h1.1v1.1h-1.1zM167.0 87.9h1.1v1.1h-1.1zM172.8 93.1h1.1v1.1h-1.1zM163.8 87.1h1.1v1.1h-1.1zM156.5 87.6h1.1v1.1h-1.1zM159.7 90.5h1.1v1.1h-1.1zM156.7 86.5h1.1v1.1h-1.1zM158.0 84.4h1.1v1.1h-1.1zM170.5 92.5h1.1v1.1h-1.1zM165.1 87.0h1.1v1.1h-1.1zM156.4 90.2h1.1v1.1h-1.1zM167.3 87.8h1.1v1.1h-1.1zM170.3 86.6h1.1v1.1h-1.1zM162.2 86.4h1.1v1.1h-1.1zM160.6 93.5h1.1v1.1h-1.1zM162.3 81.8h1.1v1.1h-1.1zM165.4 90.1h1.1v1.1h-1.1zM167.2 90.1h1.1v1.1h-1.1zM169.9 85.6h1.1v1.1h-1.1zM170.1 88.5h1.1v1.1h-1.1zM169.9 88.4h1.1v1.1h-1.1zM170.8 90.1h1.1v1.1h-1.1zM167.3 88.1h1.1v1.1h-1.1zM156.3 88.7h1.1v1.1h-1.1zM163.3 87.8h1.1v1.1h-1.1zM165.6 87.4h1.1v1.1h-1.1zM162.1 86.0h1.1v1.1h-1.1zM168.6 89.7h1.1v1.1h-1.1zM162.2 85.8h1.1v1.1h-1.1zM159.4 86.2h1.1v1.1h-1.1zM171.2 88.0h1.1v1.1h-1.1zM167.3 87.2h1.1v1.1h-1.1zM165.1 89.1h1.1v1.1h-1.1zM168.6 90.6h1.1v1.1h-1.1zM169.3 89.1h1.1v1.1h-1.1zM165.7 89.0h1.1v1.1h-1.1zM151.7 92.0h1.1v1.1h-1.1zM160.6 90.3h1.1v1.1h-1.1zM161.7 84.9h1.1v1.1h-1.1zM159.1 87.5h1.1v1.1h-1.1zM165.0 96.3h1.1v1.1h-1.1zM170.0 88.6h1.1v1.1h-1.1zM161.6 88.6h1.1v1.1h-1.1zM158.3 87.8h1.1v1.1h-1.1zM174.1 89.7h1.1v1.1h-1.1zM161.7 90.8h1.1v1.1h-1.1zM157.8 83.9h1.1v1.1h-1.1zM165.2 88.4h1.1v1.1h-1.1zM166.1 92.5h1.1v1.1h-1.1zM160.5 90.3h1.1v1.1h-1.1zM168.0 91.5h1.1v1.1h-1.1zM161.6 88.5h1.1v1.1h-1.1zM159.4 85.7h1.1v1.1h-1.1zM164.9 86.3h1.1v1.1h-1.1zM167.9 91.9h1.1v1.1h-1.1zM160.8 90.5h1.1v1.1h-1.1zM165.7 82.2h1.1v1.1h-1.1zM163.5 88.0h1.1v1.1h-1.1zM178.1 89.1h1.1v1.1h-1.1zM160.5 85.1h1.1v1.1h-1.1zM170.9 87.1h1.1v1.1h-1.1zM163.7 91.8h1.1v1.1h-1.1zM163.4 93.0h1.1v1.1h-1.1zM167.6 88.4h1.1v1.1h-1.1zM168.5 92.2h1.1v1.1h-1.1zM170.3 87.5h1.1v1.1h-1.1zM165.6 87.0h1.1v1.1h-1.1zM161.0 84.1h1.1v1.1h-1.1zM161.3 93.9h1.1v1.1h-1.1zM166.5 87.8h1.1v1.1h-1.1zM166.9 93.3h1.1v1.1h-1.1zM171.0 89.2h1.1v1.1h-1.1zM166.1 89.0h1.1v1.1h-1.1zM169.3 85.0h1.1v1.1h-1.1zM171.6 91.6h1.1v1.1h-1.1zM164.8 83.9h1.1v1.1h-1.1zM156.6 88.3h1.1v1.1h-1.1zM158.1 93.0h1.1v1.1h-1.1zM156.8 90.4h1.1v1.1h-1.1zM172.0 90.6h1.1v1.1h-1.1zM159.8 87.4h1.1v1.1h-1.1zM170.2 88.8h1.1v1.1h-1.1zM166.9 92.6h1.1v1.1h-1.1zM172.6 90.5h1.1v1.1h-1.1zM169.0 88.8h1.1v1.1h-1.1zM163.5 92.0h1.1v1.1h-1.1zM163.0 88.1h1.1v1.1h-1.1zM164.4 88.7h1.1v1.1h-1.1zM164.9 87.7h1.1v1.1h-1.1zM161.3 86.7h1.1v1.1h-1.1zM163.8 90.6h1.1v1.1h-1.1zM172.0 90.6h1.1v1.1h-1.1zM155.5 89.1h1.1v1.1h-1.1zM165.3 87.0h1.1v1.1h-1.1zM159.5 89.3h1.1v1.1h-1.1zM164.9 84.6h1.1v1.1h-1.1zM168.2 89.6h1.1v1.1h-1.1zM163.7 89.6h1.1v1.1h-1.1zM167.9 90.0h1.1v1.1h-1.1zM156.1 87.0h1.1v1.1h-1.1zM169.5 90.4h1.1v1.1h-1.1zM161.0 92.3h1.1v1.1h-1.1zM167.1 88.6h1.1v1.1h-1.1zM164.9 90.1h1.1v1.1h-1.1zM151.1 85.5h1.1v1.1h-1.1zM160.2 84.7h1.1v1.1h-1.1zM165.1 89.8h1.1v1.1h-1.1zM171.8 88.7h1.1v1.1h-1.1zM165.4 89.0h1.1v1.1h-1.1zM165.3 87.4h1.1v1.1h-1.1zM156.9 88.0h1.1v1.1h-1.1zM171.2 90.2h1.1v1.1h-1.1zM173.0 92.0h1.1v1.1h-1.1zM164.1 88.2h1.1v1.1h-1.1zM162.9 85.3h1.1v1.1h-1.1zM155.9 91.1h1.1v1.1h-1.1zM168.4 89.8h1.1v1.1h-1.1zM177.5 90.0h1.1v1.1h-1.1zM167.6 88.3h1.1v1.1h-1.1zM170.3 93.2h1.1v1.1h-1.1zM166.7 87.5h1.1v1.1h-1.1zM159.1 89.6h1.1v1.1h-1.1zM170.7 96.4h1.1v1.1h-1.1zM157.8 81.7h1.1v1.1h-1.1zM162.9 87.2h1.1v1.1h-1.1zM165.4 90.4h1.1v1.1h-1.1zM168.4 89.3h1.1v1.1h-1.1zM166.1 87.1h1.1v1.1h-1.1zM165.9 88.0h1.1v1.1h-1.1zM160.2 86.5h1.1v1.1h-1.1zM157.6 87.7h1.1v1.1h-1.1zM164.3 89.1h1.1v1.1h-1.1zM160.4 86.1h1.1v1.1h-1.1zM157.5 89.7h1.1v1.1h-1.1zM157.7 89.9h1.1v1.1h-1.1zM161.5 88.0h1.1v1.1h-1.1zM154.7 90.4h1.1v1.1h-1.1zM157.3 88.8h1.1v1.1h-1.1zM155.8 89.2h1.1v1.1h-1.1zM164.9 86.7h1.1v1.1h-1.1zM166.0 85.2h1.1v1.1h-1.1zM174.0 85.0h1.1v1.1h-1.1zM156.5 88.0h1.1v1.1h-1.1zM160.6 85.4h1.1v1.1h-1.1zM168.6 90.1h1.1v1.1h-1.1zM162.9 83.8h1.1v1.1h-1.1zM162.4 86.3h1.1v1.1h-1.1zM172.5 84.9h1.1v1.1h-1.1zM162.3 91.3h1.1v1.1h-1.1zM158.2 87.5h1.1v1.1h-1.1zM157.4 87.6h1.1v1.1h-1.1zM165.7 86.4h1.1v1.1h-1.1zM165.5 90.4h1.1v1.1h-1.1zM157.1 87.8h1.1v1.1h-1.1zM159.1 89.0h1.1v1.1h-1.1zM166.7 84.5h1.1v1.1h-1.1zM166.9 90.9h1.1v1.1h-1.1zM160.8 82.3h1.1v1.1h-1.1zM167.1 89.7h1.1v1.1h-1.1zM166.9 91.1h1.1v1.1h-1.1zM155.1 87.4h1.1v1.1h-1.1zM162.4 88.3h1.1v1.1h-1.1zM166.1 85.8h1.1v1.1h-1.1zM161.1 89.5h1.1v1.1h-1.1zM153.3 88.1h1.1v1.1h-1.1zM162.6 88.7h1.1v1.1h-1.1zM167.8 88.1h1.1v1.1h-1.1zM171.9 90.0h1.1v1.1h-1.1zM153.0 90.5h1.1v1.1h-1.1zM177.1 82.5h1.1v1.1h-1.1zM158.4 92.4h1.1v1.1h-1.1zM168.8 85.5h1.1v1.1h-1.1zM170.2 90.7h1.1v1.1h-1.1zM168.9 92.0h1.1v1.1h-1.1zM164.7 87.8h1.1v1.1h-1.1zM158.2 85.4h1.1v1.1h-1.1zM167.1 91.4h1.1v1.1h-1.1zM160.4 89.3h1.1v1.1h-1.1zM151.4 86.2h1.1v1.1h-1.1zM178.1 90.2h1.1v1.1h-1.1zM167.5 87.5h1.1v1.1h-1.1zM173.1 85.9h1.1v1.1h-1.1zM159.4 88.3h1.1v1.1h-1.1zM171.3 87.6h1.1v1.1h-1.1zM171.9 86.4h1.1v1.1h-1.1zM171.8 87.9h1.1v1.1h-1.1zM163.9 86.6h1.1v1.1h-1.1zM158.0 88.7h1.1v1.1h-1.1zM163.1 96.4h1.1v1.1h-1.1zM153.0 90.1h1.1v1.1h-1.1zM155.5 92.7h1.1v1.1h-1.1zM164.5 87.7h1.1v1.1h-1.1zM159.0 86.0h1.1v1.1h-1.1zM163.2 88.1h1.1v1.1h-1.1zM163.5 91.7h1.1v1.1h-1.1zM173.7 90.3h1.1v1.1h-1.1zM170.5 87.3h1.1v1.1h-1.1zM163.8 92.6h1.1v1.1h-1.1zM170.0 86.3h1.1v1.1h-1.1zM160.1 90.6h1.1v1.1h-1.1zM162.3 87.8h1.1v1.1h-1.1zM168.6 86.0h1.1v1.1h-1.1zM157.8 89.9h1.1v1.1h-1.1zM162.6 88.0h1.1v1.1h-1.1zM157.4 86.8h1.1v1.1h-1.1zM164.6 86.5h1.1v1.1h-1.1zM172.2 88.5h1.1v1.1h-1.1zM160.2 90.8h1.1v1.1h-1.1zM165.1 79.4h1.1v1.1h-1.1zM159.5 90.7h1.1v1.1h-1.1zM158.3 90.4h1.1v1.1h-1.1zM157.8 86.6h1.1v1.1h-1.1zM171.3 90.7h1.1v1.1h-1.1zM175.8 85.3h1.1v1.1h-1.1zM166.4 84.5h1.1v1.1h-1.1zM160.4 89.3h1.1v1.1h-1.1zM167.5 86.2h1.1v1.1h-1.1zM162.3 91.7h1.1v1.1h-1.1zM168.0 90.3h1.1v1.1h-1.1zM165.5 87.5h1.1v1.1h-1.1zM165.4 87.5h1.1v1.1h-1.1zM167.0 86.0h1.1v1.1h-1.1zM161.1 89.7h1.1v1.1h-1.1zM162.0 89.5h1.1v1.1h-1.1zM155.4 89.9h1.1v1.1h-1.1zM161.8 89.3h1.1v1.1h-1.1zM156.9 89.1h1.1v1.1h-1.1zM163.3 87.5h1.1v1.1h-1.1zM159.2 89.3h1.1v1.1h-1.1zM164.5 85.7h1.1v1.1h-1.1zM166.3 88.6h1.1v1.1h-1.1zM156.9 91.6h1.1v1.1h-1.1zM159.9 91.3h1.1v1.1h-1.1zM159.3 87.7h1.1v1.1h-1.1zM167.7 87.9h1.1v1.1h-1.1zM172.5 89.8h1.1v1.1h-1.1zM168.3 92.2h1.1v1.1h-1.1zM162.3 85.6h1.1v1.1h-1.1zM171.3 87.8h1.1v1.1h-1.1zM156.4 89.1h1.1v1.1h-1.1zM171.5 91.1h1.1v1.1h-1.1zM160.7 86.9h1.1v1.1h-1.1zM150.1 89.9h1.1v1.1h-1.1zM177.3 88.0h1.1v1.1h-1.1zM171.9 91.3h1.1v1.1h-1.1zM158.8 91.5h1.1v1.1h-1.1zM164.8 88.3h1.1v1.1h-1.1zM162.9 83.4h1.1v1.1h-1.1zM164.5 90.7h1.1v1.1h-1.1zM156.6 90.0h1.1v1.1h-1.1zM160.6 89.1h1.1v1.1h-1.1zM166.3 89.0h1.1v1.1h-1.1zM165.1 85.9h1.1v1.1h-1.1zM170.0 87.1h1.1v1.1h-1.1zM164.4 86.0h1.1v1.1h-1.1zM175.7 85.9h1.1v1.1h-1.1zM160.4 87.2h1.1v1.1h-1.1zM165.3 86.6h1.1v1.1h-1.1zM154.4 89.7h1.1v1.1h-1.1zM157.7 90.2h1.1v1.1h-1.1zM170.6 88.1h1.1v1.1h-1.1zM159.3 86.4h1.1v1.1h-1.1zM166.7 90.2h1.1v1.1h-1.1zM163.7 84.5h1.1v1.1h-1.1zM158.8 88.4h1.1v1.1h-1.1zM162.3 90.1h1.1v1.1h-1.1zM161.4 88.0h1.1v1.1h-1.1zM161.6 90.6h1.1v1.1h-1.1zM167.8 88.2h1.1v1.1h-1.1zM167.3 86.1h1.1v1.1h-1.1zM161.1 87.6h1.1v1.1h-1.1zM159.5 89.7h1.1v1.1h-1.1zM165.4 87.1h1.1v1.1h-1.1zM163.5 82.9h1.1v1.1h-1.1zM169.1 85.8h1.1v1.1h-1.1zM177.3 86.3h1.1v1.1h-1.1zM168.2 90.3h1.1v1.1h-1.1zM163.8 89.5h1.1v1.1h-1.1zM163.1 86.3h1.1v1.1h-1.1zM159.7 91.4h1.1v1.1h-1.1zM159.5 87.5h1.1v1.1h-1.1zM159.0 89.7h1.1v1.1h-1.1zM162.0 94.2h1.1v1.1h-1.1zM161.9 88.3h1.1v1.1h-1.1zM167.7 84.3h1.1v1.1h-1.1zM162.0 82.2h1.1v1.1h-1.1zM163.0 89.5h1.1v1.1h-1.1zM157.9 88.3h1.1v1.1h-1.1zM172.2 86.2h1.1v1.1h-1.1zM166.5 90.0h1.1v1.1h-1.1zM172.9 90.2h1.1v1.1h-1.1zM168.0 87.8h1.1v1.1h-1.1zM171.4 91.5h1.1v1.1h-1.1zM162.8 86.0h1.1v1.1h-1.1zM167.6 89.0h1.1v1.1h-1.1zM177.5 90.8h1.1v1.1h-1.1zM157.9 90.2h1.1v1.1h-1.1zM169.9 87.5h1.1v1.1h-1.1zM172.5 88.4h1.1v1.1h-1.1zM166.1 88.5h1.1v1.1h-1.1zM167.8 85.9h1.1v1.1h-1.1zM170.4 86.7h1.1v1.1h-1.1zM160.6 90.6h1.1v1.1h-1.1zM166.1 85.4h1.1v1.1h-1.1zM159.6 90.6h1.1v1.1h-1.1zM160.5 89.2h1.1v1.1h-1.1zM160.8 100.0h1.1v1.1h-1.1zM163.3 89.7h1.1v1.1h-1.1zM164.7 89.6h1.1v1.1h-1.1zM166.3 91.0h1.1v1.1h-1.1zM156.7 90.3h1.1v1.1h-1.1zM174.1 85.9h1.1v1.1h-1.1zM169.9 88.1h1.1v1.1h-1.1zM167.7 92.4h1.1v1.1h-1.1zM162.2 90.5h1.1v1.1h-1.1zM163.5 86.8h1.1v1.1h-1.1zM166.8 94.7h1.1v1.1h-1.1zM166.1 87.9h1.1v1.1h-1.1zM155.4 88.6h1.1v1.1h-1.1zM167.8 90.2h1.1v1.1h-1.1zM178.9 93.2h1.1v1.1h-1.1zM154.5 85.0h1.1v1.1h-1.1zM169.1 90.7h1.1v1.1h-1.1zM165.9 89.5h1.1v1.1h-1.1zM163.4 87.2h1.1v1.1h-1.1zM171.0 85.8h1.1v1.1h-1.1zM157.9 83.4h1.1v1.1h-1.1zM164.8 90.4h1.1v1.1h-1.1zM171.5 89.9h1.1v1.1h-1.1zM163.0 92.1h1.1v1.1h-1.1zM161.9 91.3h1.1v1.1h-1.1zM164.6 86.1h1.1v1.1h-1.1zM161.7 91.6h1.1v1.1h-1.1zM171.9 89.4h1.1v1.1h-1.1zM159.3 91.1h1.1v1.1h-1.1zM168.5 86.4h1.1v1.1h-1.1zM157.6 86.7h1.1v1.1h-1.1zM167.4 88.7h1.1v1.1h-1.1zM163.5 83.9h1.1v1.1h-1.1zM150.7 88.3h1.1v1.1h-1.1zM164.0 90.1h1.1v1.1h-1.1zM158.5 92.8h1.1v1.1h-1.1zM161.7 84.6h1.1v1.1h-1.1zM171.9 88.2h1.1v1.1h-1.1zM158.3 91.6h1.1v1.1h-1.1zM158.6 86.1h1.1v1.1h-1.1zM171.4 88.2h1.1v1.1h-1.1zM164.6 92.9h1.1v1.1h-1.1zM171.9 91.5h1.1v1.1h-1.1zM165.7 86.9h1.1v1.1h-1.1zM159.5 91.5h1.1v1.1h-1.1zM163.7 91.0h1.1v1.1h-1.1zM170.3 90.2h1.1v1.1h-1.1zM168.8 89.4h1.1v1.1h-1.1zM164.0 89.1h1.1v1.1h-1.1zM164.3 88.8h1.1v1.1h-1.1zM163.4 87.6h1.1v1.1h-1.1zM161.0 90.1h1.1v1.1h-1.1zM173.9 85.9h1.1v1.1h-1.1zM164.0 92.3h1.1v1.1h-1.1zM158.2 88.0h1.1v1.1h-1.1zM161.5 83.8h1.1v1.1h-1.1zM167.7 87.4h1.1v1.1h-1.1zM175.4 89.2h1.1v1.1h-1.1zM176.6 89.4h1.1v1.1h-1.1zM176.0 88.8h1.1v1.1h-1.1zM176.5 87.0h1.1v1.1h-1.1zM179.4 84.3h1.1v1.1h-1.1zM178.0 87.3h1.1v1.1h-1.1zM174.4 89.5h1.1v1.1h-1.1zM181.5 88.1h1.1v1.1h-1.1zM178.2 82.3h1.1v1.1h-1.1zM177.5 91.5h1.1v1.1h-1.1zM180.6 83.6h1.1v1.1h-1.1zM181.0 86.9h1.1v1.1h-1.1zM182.2 89.5h1.1v1.1h-1.1zM181.7 87.9h1.1v1.1h-1.1zM180.0 90.2h1.1v1.1h-1.1zM180.7 88.4h1.1v1.1h-1.1zM173.9 87.7h1.1v1.1h-1.1zM180.4 93.0h1.1v1.1h-1.1zM175.1 88.2h1.1v1.1h-1.1zM175.1 89.5h1.1v1.1h-1.1zM173.4 86.5h1.1v1.1h-1.1zM176.8 87.7h1.1v1.1h-1.1zM172.2 89.3h1.1v1.1h-1.1zM179.9 89.8h1.1v1.1h-1.1zM181.0 85.1h1.1v1.1h-1.1zM181.3 87.3h1.1v1.1h-1.1zM173.5 90.0h1.1v1.1h-1.1zM179.7 92.8h1.1v1.1h-1.1zM182.1 93.7h1.1v1.1h-1.1zM172.4 88.2h1.1v1.1h-1.1zM174.3 92.7h1.1v1.1h-1.1zM175.2 89.0h1.1v1.1h-1.1zM177.5 87.3h1.1v1.1h-1.1zM174.1 87.1h1.1v1.1h-1.1zM178.5 92.3h1.1v1.1h-1.1zM181.2 105.2h1.1v1.1h-1.1zM180.7 97.3h1.1v1.1h-1.1zM146.8 96.7h1.1v1.1h-1.1zM178.4 107.8h1.1v1.1h-1.1zM133.4 97.8h1.1v1.1h-1.1zM180.8 101.4h1.1v1.1h-1.1zM157.7 109.0h1.1v1.1h-1.1zM105.1 96.5h1.1v1.1h-1.1zM169.5 105.5h1.1v1.1h-1.1zM112.1 98.2h1.1v1.1h-1.1zM185.7 104.6h1.1v1.1h-1.1zM102.3 107.9h1.1v1.1h-1.1zM164.6 107.9h1.1v1.1h-1.1zM111.4 107.2h1.1v1.1h-1.1zM145.5 102.8h1.1v1.1h-1.1zM130.8 103.2h1.1v1.1h-1.1zM175.0 96.9h1.1v1.1h-1.1zM122.1 96.0h1.1v1.1h-1.1zM161.4 106.7h1.1v1.1h-1.1zM180.7 94.9h1.1v1.1h-1.1zM103.6 109.9h1.1v1.1h-1.1zM160.8 97.2h1.1v1.1h-1.1zM105.4 106.2h1.1v1.1h-1.1zM166.5 101.6h1.1v1.1h-1.1zM173.4 104.4h1.1v1.1h-1.1zM110.3 106.9h1.1v1.1h-1.1zM175.8 99.0h1.1v1.1h-1.1zM136.6 108.0h1.1v1.1h-1.1zM125.1 106.8h1.1v1.1h-1.1zM183.0 103.9h1.1v1.1h-1.1zM131.8 103.8h1.1v1.1h-1.1zM116.5 100.5h1.1v1.1h-1.1zM127.0 110.5h1.1v1.1h-1.1zM177.6 100.6h1.1v1.1h-1.1zM184.6 98.1h1.1v1.1h-1.1zM138.0 103.5h1.1v1.1h-1.1zM141.5 109.7h1.1v1.1h-1.1zM150.6 109.7h1.1v1.1h-1.1zM171.9 103.8h1.1v1.1h-1.1zM98.8 100.7h1.1v1.1h-1.1zM168.0 106.7h1.1v1.1h-1.1zM183.6 103.5h1.1v1.1h-1.1zM133.7 108.0h1.1v1.1h-1.1zM136.5 108.2h1.1v1.1h-1.1zM182.3 105.9h1.1v1.1h-1.1zM133.8 110.5h1.1v1.1h-1.1zM131.2 105.0h1.1v1.1h-1.1zM173.6 110.6h1.1v1.1h-1.1zM139.6 105.1h1.1v1.1h-1.1zM154.9 97.7h1.1v1.1h-1.1zM123.2 104.7h1.1v1.1h-1.1zM157.8 107.1h1.1v1.1h-1.1zM130.4 101.2h1.1v1.1h-1.1zM167.0 96.9h1.1v1.1h-1.1zM141.3 100.0h1.1v1.1h-1.1zM178.9 107.3h1.1v1.1h-1.1zM146.2 97.5h1.1v1.1h-1.1zM173.5 94.2h1.1v1.1h-1.1zM136.8 108.9h1.1v1.1h-1.1zM156.9 110.5h1.1v1.1h-1.1zM121.5 108.8h1.1v1.1h-1.1zM149.6 107.6h1.1v1.1h-1.1zM156.3 106.4h1.1v1.1h-1.1zM114.8 103.4h1.1v1.1h-1.1zM145.9 105.1h1.1v1.1h-1.1zM179.1 106.7h1.1v1.1h-1.1zM115.8 99.6h1.1v1.1h-1.1zM141.0 97.5h1.1v1.1h-1.1zM171.7 105.8h1.1v1.1h-1.1zM135.5 104.3h1.1v1.1h-1.1zM100.6 110.8h1.1v1.1h-1.1zM144.2 101.0h1.1v1.1h-1.1zM138.7 101.0h1.1v1.1h-1.1zM179.6 96.1h1.1v1.1h-1.1zM156.4 94.3h1.1v1.1h-1.1zM166.3 96.4h1.1v1.1h-1.1zM130.4 104.1h1.1v1.1h-1.1zM176.9 110.4h1.1v1.1h-1.1zM170.9 95.9h1.1v1.1h-1.1zM106.0 96.7h1.1v1.1h-1.1zM156.1 105.6h1.1v1.1h-1.1zM177.6 99.1h1.1v1.1h-1.1zM155.2 94.8h1.1v1.1h-1.1zM183.5 109.1h1.1v1.1h-1.1zM121.0 96.5h1.1v1.1h-1.1zM149.7 101.4h1.1v1.1h-1.1zM144.9 106.8h1.1v1.1h-1.1zM124.0 107.3h1.1v1.1h-1.1zM166.8 110.2h1.1v1.1h-1.1zM135.9 104.1h1.1v1.1h-1.1zM155.2 96.5h1.1v1.1h-1.1zM166.8 95.4h1.1v1.1h-1.1zM162.0 104.9h1.1v1.1h-1.1zM106.8 103.1h1.1v1.1h-1.1zM102.9 98.2h1.1v1.1h-1.1zM170.2 96.8h1.1v1.1h-1.1zM155.2 100.0h1.1v1.1h-1.1zM111.0 98.9h1.1v1.1h-1.1zM109.4 100.0h1.1v1.1h-1.1zM141.8 100.0h1.1v1.1h-1.1zM113.7 106.8h1.1v1.1h-1.1zM179.9 101.8h1.1v1.1h-1.1zM117.7 108.4h1.1v1.1h-1.1zM181.0 102.5h1.1v1.1h-1.1zM161.0 98.9h1.1v1.1h-1.1zM146.9 109.7h1.1v1.1h-1.1zM157.1 105.1h1.1v1.1h-1.1zM158.9 108.3h1.1v1.1h-1.1zM123.1 98.0h1.1v1.1h-1.1zM141.0 110.5h1.1v1.1h-1.1zM103.8 104.8h1.1v1.1h-1.1zM102.2 100.4h1.1v1.1h-1.1zM181.0 98.3h1.1v1.1h-1.1zM172.8 95.7h1.1v1.1h-1.1zM164.3 94.6h1.1v1.1h-1.1zM107.2 97.3h1.1v1.1h-1.1zM152.9 99.3h1.1v1.1h-1.1zM160.9 103.0h1.1v1.1h-1.1zM135.9 100.8h1.1v1.1h-1.1zM131.3 94.8h1.1v1.1h-1.1zM161.9 96.5h1.1v1.1h-1.1zM98.9 94.3h1.1v1.1h-1.1zM139.4 94.7h1.1v1.1h-1.1zM120.6 99.1h1.1v1.1h-1.1zM137.1 104.9h1.1v1.1h-1.1zM146.6 96.6h1.1v1.1h-1.1zM135.0 109.0h1.1v1.1h-1.1zM175.2 110.8h1.1v1.1h-1.1zM175.6 104.5h1.1v1.1h-1.1zM164.8 94.8h1.1v1.1h-1.1zM167.9 97.1h1.1v1.1h-1.1zM142.1 102.7h1.1v1.1h-1.1zM121.9 109.9h1.1v1.1h-1.1zM169.8 110.7h1.1v1.1h-1.1zM108.3 106.5h1.1v1.1h-1.1zM150.3 109.1h1.1v1.1h-1.1zM153.7 95.7h1.1v1.1h-1.1zM107.6 102.6h1.1v1.1h-1.1zM116.0 102.1h1.1v1.1h-1.1zM157.2 97.7h1.1v1.1h-1.1zM173.5 103.6h1.1v1.1h-1.1zM132.4 103.6h1.1v1.1h-1.1zM144.8 110.5h1.1v1.1h-1.1zM160.3 95.1h1.1v1.1h-1.1zM149.2 99.1h1.1v1.1h-1.1zM138.7 96.9h1.1v1.1h-1.1zM154.2 97.8h1.1v1.1h-1.1zM160.5 99.4h1.1v1.1h-1.1zM168.5 100.3h1.1v1.1h-1.1zM147.4 110.3h1.1v1.1h-1.1zM124.3 118.5h1.1v1.1h-1.1zM136.7 116.7h1.1v1.1h-1.1zM111.3 114.7h1.1v1.1h-1.1zM115.6 121.3h1.1v1.1h-1.1zM115.3 119.2h1.1v1.1h-1.1zM143.5 117.4h1.1v1.1h-1.1zM122.1 115.7h1.1v1.1h-1.1zM120.2 118.2h1.1v1.1h-1.1zM139.9 120.2h1.1v1.1h-1.1zM99.3 117.7h1.1v1.1h-1.1zM167.1 118.8h1.1v1.1h-1.1zM102.1 116.8h1.1v1.1h-1.1zM130.9 117.5h1.1v1.1h-1.1zM177.1 118.4h1.1v1.1h-1.1zM111.4 120.0h1.1v1.1h-1.1zM101.6 113.8h1.1v1.1h-1.1zM136.9 119.1h1.1v1.1h-1.1zM148.4 119.0h1.1v1.1h-1.1zM128.6 116.5h1.1v1.1h-1.1zM115.6 120.6h1.1v1.1h-1.1zM153.3 121.1h1.1v1.1h-1.1zM145.2 118.5h1.1v1.1h-1.1zM125.8 120.7h1.1v1.1h-1.1zM147.3 120.7h1.1v1.1h-1.1zM165.2 119.9h1.1v1.1h-1.1zM129.0 121.0h1.1v1.1h-1.1zM147.3 119.1h1.1v1.1h-1.1zM138.4 120.9h1.1v1.1h-1.1zM105.9 118.0h1.1v1.1h-1.1zM170.3 115.4h1.1v1.1h-1.1zM107.9 117.4h1.1v1.1h-1.1zM157.4 120.9h1.1v1.1h-1.1zM132.7 117.7h1.1v1.1h-1.1zM160.7 121.4h1.1v1.1h-1.1zM139.8 118.7h1.1v1.1h-1.1zM163.7 116.4h1.1v1.1h-1.1zM135.6 119.5h1.1v1.1h-1.1zM117.8 121.4h1.1v1.1h-1.1zM159.6 120.9h1.1v1.1h-1.1zM164.2 121.0h1.1v1.1h-1.1zM138.2 115.7h1.1v1.1h-1.1zM172.3 120.9h1.1v1.1h-1.1zM154.6 120.6h1.1v1.1h-1.1zM172.6 118.7h1.1v1.1h-1.1zM113.6 120.8h1.1v1.1h-1.1zM173.5 116.0h1.1v1.1h-1.1zM159.4 116.7h1.1v1.1h-1.1zM173.4 120.1h1.1v1.1h-1.1zM126.0 115.0h1.1v1.1h-1.1zM142.5 118.4h1.1v1.1h-1.1zM169.5 117.3h1.1v1.1h-1.1zM151.8 120.7h1.1v1.1h-1.1zM121.1 115.5h1.1v1.1h-1.1zM121.1 120.9h1.1v1.1h-1.1zM173.7 119.0h1.1v1.1h-1.1zM151.7 120.3h1.1v1.1h-1.1zM102.2 120.8h1.1v1.1h-1.1zM142.6 115.1h1.1v1.1h-1.1zM113.2 119.5h1.1v1.1h-1.1zM135.3 116.9h1.1v1.1h-1.1zM151.4 118.2h1.1v1.1h-1.1zM104.7 116.7h1.1v1.1h-1.1zM118.3 121.4h1.1v1.1h-1.1zM168.5 117.0h1.1v1.1h-1.1zM101.3 118.5h1.1v1.1h-1.1zM106.9 117.1h1.1v1.1h-1.1zM163.6 119.5h1.1v1.1h-1.1zM152.1 119.2h1.1v1.1h-1.1zM135.7 119.5h1.1v1.1h-1.1zM166.7 120.4h1.1v1.1h-1.1zM114.7 116.6h1.1v1.1h-1.1zM163.0 117.1h1.1v1.1h-1.1zM149.0 119.7h1.1v1.1h-1.1zM124.9 115.8h1.1v1.1h-1.1zM144.3 120.2h1.1v1.1h-1.1zM104.5 117.7h1.1v1.1h-1.1zM123.0 121.5h1.1v1.1h-1.1zM143.5 119.8h1.1v1.1h-1.1zM165.6 118.9h1.1v1.1h-1.1zM123.3 118.2h1.1v1.1h-1.1zM102.9 119.4h1.1v1.1h-1.1zM105.1 121.3h1.1v1.1h-1.1zM122.5 117.3h1.1v1.1h-1.1zM148.1 118.3h1.1v1.1h-1.1zM154.4 119.4h1.1v1.1h-1.1zM153.6 118.8h1.1v1.1h-1.1zM168.0 119.3h1.1v1.1h-1.1zM152.5 115.0h1.1v1.1h-1.1zM151.7 119.9h1.1v1.1h-1.1zM145.5 120.3h1.1v1.1h-1.1zM151.3 117.5h1.1v1.1h-1.1zM156.4 117.9h1.1v1.1h-1.1zM176.1 120.5h1.1v1.1h-1.1zM112.4 115.5h1.1v1.1h-1.1zM149.4 118.2h1.1v1.1h-1.1zM107.9 119.1h1.1v1.1h-1.1zM114.5 121.5h1.1v1.1h-1.1zM172.1 116.5h1.1v1.1h-1.1zM130.4 117.9h1.1v1.1h-1.1zM143.4 120.3h1.1v1.1h-1.1zM114.9 120.5h1.1v1.1h-1.1zM138.8 120.1h1.1v1.1h-1.1zM100.0 119.0h1.1v1.1h-1.1zM144.5 117.9h1.1v1.1h-1.1zM174.3 117.7h1.1v1.1h-1.1zM153.0 121.1h1.1v1.1h-1.1zM151.2 121.0h1.1v1.1h-1.1zM142.4 118.3h1.1v1.1h-1.1zM123.6 118.9h1.1v1.1h-1.1zM159.9 119.6h1.1v1.1h-1.1zM129.1 121.5h1.1v1.1h-1.1zM124.9 118.2h1.1v1.1h-1.1zM141.8 119.1h1.1v1.1h-1.1zM176.0 116.1h1.1v1.1h-1.1zM156.7 119.5h1.1v1.1h-1.1zM152.0 118.2h1.1v1.1h-1.1zM108.2 120.4h1.1v1.1h-1.1zM162.7 116.9h1.1v1.1h-1.1zM131.8 119.8h1.1v1.1h-1.1zM148.3 119.2h1.1v1.1h-1.1zM142.9 121.2h1.1v1.1h-1.1zM160.8 120.0h1.1v1.1h-1.1zM100.6 117.2h1.1v1.1h-1.1zM105.8 117.4h1.1v1.1h-1.1zM120.5 121.5h1.1v1.1h-1.1zM114.2 120.0h1.1v1.1h-1.1zM152.5 115.1h1.1v1.1h-1.1zM107.3 121.1h1.1v1.1h-1.1zM105.4 120.1h1.1v1.1h-1.1zM140.4 121.5h1.1v1.1h-1.1zM103.3 117.8h1.1v1.1h-1.1zM161.5 118.2h1.1v1.1h-1.1zM124.4 117.0h1.1v1.1h-1.1zM122.2 119.6h1.1v1.1h-1.1zM145.8 116.2h1.1v1.1h-1.1zM176.1 114.1h1.1v1.1h-1.1zM120.6 121.0h1.1v1.1h-1.1zM116.1 120.8h1.1v1.1h-1.1zM127.5 121.1h1.1v1.1h-1.1zM160.3 118.6h1.1v1.1h-1.1zM172.7 120.2h1.1v1.1h-1.1zM110.3 116.3h1.1v1.1h-1.1zM100.4 121.4h1.1v1.1h-1.1zM122.5 120.0h1.1v1.1h-1.1zM123.7 118.9h1.1v1.1h-1.1zM157.8 118.0h1.1v1.1h-1.1zM152.4 119.6h1.1v1.1h-1.1zM157.8 121.2h1.1v1.1h-1.1zM129.4 121.5h1.1v1.1h-1.1zM132.3 120.9h1.1v1.1h-1.1zM101.9 116.6h1.1v1.1h-1.1zM99.7 111.6h1.1v1.1h-1.1zM99.3 119.8h1.1v1.1h-1.1zM163.4 116.9h1.1v1.1h-1.1zM139.4 116.3h1.1v1.1h-1.1zM153.6 118.9h1.1v1.1h-1.1zM150.3 120.9h1.1v1.1h-1.1zM163.0 118.6h1.1v1.1h-1.1zM140.4 119.7h1.1v1.1h-1.1zM124.3 117.4h1.1v1.1h-1.1zM107.0 121.1h1.1v1.1h-1.1zM130.9 120.5h1.1v1.1h-1.1zM113.6 120.5h1.1v1.1h-1.1zM172.1 119.7h1.1v1.1h-1.1zM159.1 117.7h1.1v1.1h-1.1zM120.8 119.7h1.1v1.1h-1.1zM138.9 118.5h1.1v1.1h-1.1zM135.6 119.9h1.1v1.1h-1.1zM146.4 118.3h1.1v1.1h-1.1zM173.8 117.5h1.1v1.1h-1.1zM120.1 120.6h1.1v1.1h-1.1zM147.1 112.0h1.1v1.1h-1.1zM138.4 117.7h1.1v1.1h-1.1zM174.4 119.4h1.1v1.1h-1.1zM115.4 119.7h1.1v1.1h-1.1zM149.8 121.3h1.1v1.1h-1.1zM105.3 115.5h1.1v1.1h-1.1zM141.5 116.5h1.1v1.1h-1.1zM174.8 119.9h1.1v1.1h-1.1zM155.6 121.2h1.1v1.1h-1.1zM100.5 120.5h1.1v1.1h-1.1zM176.7 120.8h1.1v1.1h-1.1zM141.2 117.0h1.1v1.1h-1.1zM144.4 121.2h1.1v1.1h-1.1zM173.6 116.1h1.1v1.1h-1.1zM144.8 120.3h1.1v1.1h-1.1zM115.7 117.4h1.1v1.1h-1.1zM132.3 120.0h1.1v1.1h-1.1zM157.9 119.8h1.1v1.1h-1.1zM129.7 119.8h1.1v1.1h-1.1zM129.1 119.8h1.1v1.1h-1.1zM106.2 115.7h1.1v1.1h-1.1zM106.0 118.1h1.1v1.1h-1.1zM107.7 119.6h1.1v1.1h-1.1zM138.8 120.5h1.1v1.1h-1.1zM123.7 120.7h1.1v1.1h-1.1zM112.4 115.1h1.1v1.1h-1.1zM157.1 120.1h1.1v1.1h-1.1zM146.9 121.1h1.1v1.1h-1.1zM163.6 119.3h1.1v1.1h-1.1zM110.9 119.0h1.1v1.1h-1.1zM147.6 121.0h1.1v1.1h-1.1zM119.1 116.1h1.1v1.1h-1.1zM137.6 113.8h1.1v1.1h-1.1zM133.7 117.2h1.1v1.1h-1.1zM144.7 120.9h1.1v1.1h-1.1zM143.6 118.0h1.1v1.1h-1.1zM148.0 121.4h1.1v1.1h-1.1zM126.1 119.6h1.1v1.1h-1.1zM161.6 119.4h1.1v1.1h-1.1zM110.9 117.0h1.1v1.1h-1.1zM160.0 117.7h1.1v1.1h-1.1zM144.2 117.8h1.1v1.1h-1.1zM118.8 121.2h1.1v1.1h-1.1zM158.2 113.0h1.1v1.1h-1.1zM100.9 116.1h1.1v1.1h-1.1zM119.7 120.0h1.1v1.1h-1.1zM138.4 119.8h1.1v1.1h-1.1zM148.5 121.4h1.1v1.1h-1.1zM123.1 120.5h1.1v1.1h-1.1zM144.3 118.2h1.1v1.1h-1.1zM176.4 118.0h1.1v1.1h-1.1zM177.9 120.8h1.1v1.1h-1.1zM155.7 115.7h1.1v1.1h-1.1zM122.2 118.3h1.1v1.1h-1.1zM136.1 119.7h1.1v1.1h-1.1zM162.6 119.1h1.1v1.1h-1.1zM169.0 118.1h1.1v1.1h-1.1zM174.1 117.3h1.1v1.1h-1.1zM129.0 121.4h1.1v1.1h-1.1zM125.0 120.0h1.1v1.1h-1.1zM124.9 121.4h1.1v1.1h-1.1zM160.8 120.6h1.1v1.1h-1.1zM174.6 115.4h1.1v1.1h-1.1zM143.1 119.7h1.1v1.1h-1.1zM133.5 114.4h1.1v1.1h-1.1zM131.7 121.3h1.1v1.1h-1.1zM143.6 121.4h1.1v1.1h-1.1zM113.0 115.6h1.1v1.1h-1.1zM105.9 118.0h1.1v1.1h-1.1zM130.4 121.1h1.1v1.1h-1.1zM119.5 121.1h1.1v1.1h-1.1zM110.2 115.7h1.1v1.1h-1.1zM175.2 120.3h1.1v1.1h-1.1zM153.7 121.0h1.1v1.1h-1.1zM129.1 117.2h1.1v1.1h-1.1zM177.3 119.8h1.1v1.1h-1.1zM106.6 116.9h1.1v1.1h-1.1zM168.7 118.0h1.1v1.1h-1.1zM175.4 120.5h1.1v1.1h-1.1zM161.4 117.4h1.1v1.1h-1.1zM112.9 120.8h1.1v1.1h-1.1zM143.3 120.5h1.1v1.1h-1.1zM103.7 121.1h1.1v1.1h-1.1zM103.1 119.4h1.1v1.1h-1.1zM167.1 118.4h1.1v1.1h-1.1zM105.8 119.2h1.1v1.1h-1.1zM106.5 121.4h1.1v1.1h-1.1zM154.9 120.3h1.1v1.1h-1.1zM148.3 113.4h1.1v1.1h-1.1zM115.3 121.0h1.1v1.1h-1.1zM130.8 117.1h1.1v1.1h-1.1zM174.1 120.9h1.1v1.1h-1.1zM114.8 119.9h1.1v1.1h-1.1zM103.4 120.4h1.1v1.1h-1.1zM149.7 119.6h1.1v1.1h-1.1zM106.6 116.6h1.1v1.1h-1.1zM142.5 119.1h1.1v1.1h-1.1zM118.4 118.3h1.1v1.1h-1.1zM100.6 120.0h1.1v1.1h-1.1zM150.7 120.5h1.1v1.1h-1.1zM158.1 120.6h1.1v1.1h-1.1zM123.1 121.2h1.1v1.1h-1.1zM110.7 121.0h1.1v1.1h-1.1zM176.1 121.3h1.1v1.1h-1.1zM117.6 120.8h1.1v1.1h-1.1zM117.7 118.0h1.1v1.1h-1.1zM127.3 119.1h1.1v1.1h-1.1zM117.2 120.0h1.1v1.1h-1.1zM117.7 120.1h1.1v1.1h-1.1zM172.0 112.8h1.1v1.1h-1.1zM164.8 113.3h1.1v1.1h-1.1zM140.8 115.3h1.1v1.1h-1.1zM100.8 119.4h1.1v1.1h-1.1zM110.1 119.6h1.1v1.1h-1.1zM150.5 118.9h1.1v1.1h-1.1zM142.8 117.3h1.1v1.1h-1.1zM117.4 120.5h1.1v1.1h-1.1zM121.3 121.3h1.1v1.1h-1.1zM172.2 118.6h1.1v1.1h-1.1zM157.0 121.4h1.1v1.1h-1.1zM151.0 119.6h1.1v1.1h-1.1zM171.9 119.9h1.1v1.1h-1.1zM116.5 117.7h1.1v1.1h-1.1zM124.4 113.8h1.1v1.1h-1.1zM165.1 121.3h1.1v1.1h-1.1zM133.2 119.0h1.1v1.1h-1.1zM133.7 120.4h1.1v1.1h-1.1zM162.7 116.3h1.1v1.1h-1.1zM178.0 116.3h1.1v1.1h-1.1zM169.0 120.9h1.1v1.1h-1.1zM159.7 118.1h1.1v1.1h-1.1zM133.7 116.2h1.1v1.1h-1.1zM154.5 121.4h1.1v1.1h-1.1zM116.0 121.0h1.1v1.1h-1.1zM118.3 119.0h1.1v1.1h-1.1zM114.3 121.2h1.1v1.1h-1.1zM152.5 119.6h1.1v1.1h-1.1zM173.8 118.7h1.1v1.1h-1.1zM158.4 121.3h1.1v1.1h-1.1zM119.3 119.1h1.1v1.1h-1.1zM150.8 119.2h1.1v1.1h-1.1zM126.0 120.1h1.1v1.1h-1.1zM163.9 116.9h1.1v1.1h-1.1zM136.8 117.7h1.1v1.1h-1.1zM118.0 117.0h1.1v1.1h-1.1zM121.3 118.2h1.1v1.1h-1.1zM104.8 119.9h1.1v1.1h-1.1zM126.9 117.2h1.1v1.1h-1.1zM125.1 120.1h1.1v1.1h-1.1zM134.6 121.2h1.1v1.1h-1.1zM150.6 119.6h1.1v1.1h-1.1zM172.3 119.4h1.1v1.1h-1.1zM163.4 120.8h1.1v1.1h-1.1zM143.9 120.6h1.1v1.1h-1.1zM126.9 120.8h1.1v1.1h-1.1zM111.6 120.5h1.1v1.1h-1.1zM145.3 117.9h1.1v1.1h-1.1zM103.1 120.0h1.1v1.1h-1.1zM177.6 117.2h1.1v1.1h-1.1zM194.6 119.7h1.1v1.1h-1.1zM180.8 120.2h1.1v1.1h-1.1zM200.6 119.4h1.1v1.1h-1.1zM195.4 119.4h1.1v1.1h-1.1zM191.2 111.4h1.1v1.1h-1.1zM203.2 120.6h1.1v1.1h-1.1zM179.8 121.3h1.1v1.1h-1.1zM185.0 118.8h1.1v1.1h-1.1zM190.7 116.9h1.1v1.1h-1.1zM204.0 119.8h1.1v1.1h-1.1zM178.3 118.4h1.1v1.1h-1.1zM193.5 118.1h1.1v1.1h-1.1zM202.7 120.8h1.1v1.1h-1.1zM180.2 120.1h1.1v1.1h-1.1zM195.3 61.7h1.1v1.1h-1.1zM154.0 60.7h1.1v1.1h-1.1zM174.1 62.5h1.1v1.1h-1.1zM152.1 53.9h1.1v1.1h-1.1zM108.3 57.7h1.1v1.1h-1.1zM158.7 61.3h1.1v1.1h-1.1zM159.4 67.9h1.1v1.1h-1.1zM159.6 79.4h1.1v1.1h-1.1z" fill="#000" fill-opacity="0.92"/>
<rect x="98.00" y="50.80" width="114.30" height="71.20" fill="none" stroke="#333" stroke-width="1.0"/>
<line x1="97.9" y1="50.8" x2="97.9" y2="122.5" stroke="#111" stroke-width="1.4"/>
<path d="M95.5 122.00h2.5M96.6 116.64h1.4M96.6 113.51h1.4M96.6 111.28h1.4M96.6 109.56h1.4M96.6 108.15h1.4M96.6 106.96h1.4M96.6 105.92h1.4M96.6 105.01h1.4M95.5 104.20h2.5M96.6 98.84h1.4M96.6 95.71h1.4M96.6 93.48h1.4M96.6 91.76h1.4M96.6 90.35h1.4M96.6 89.16h1.4M96.6 88.12h1.4M96.6 87.21h1.4M95.5 86.40h2.5M96.6 81.04h1.4M96.6 77.91h1.4M96.6 75.68h1.4M96.6 73.96h1.4M96.6 72.55h1.4M96.6 71.36h1.4M96.6 70.32h1.4M96.6 69.41h1.4M95.5 68.60h2.5M96.6 63.24h1.4M96.6 60.11h1.4M96.6 57.88h1.4M96.6 56.16h1.4M96.6 54.75h1.4M96.6 53.56h1.4M96.6 52.52h1.4M96.6 51.61h1.4M98.00 122v2.5M106.54 122v1.4M111.54 122v1.4M115.08 122v1.4M117.83 122v1.4M120.08 122v1.4M121.98 122v1.4M123.63 122v1.4M125.08 122v1.4M126.38 122v2.5M134.92 122v1.4M139.91 122v1.4M143.46 122v1.4M146.21 122v1.4M148.46 122v1.4M150.35 122v1.4M152.00 122v1.4M153.45 122v1.4M154.75 122v2.5M163.29 122v1.4M168.29 122v1.4M171.83 122v1.4M174.58 122v1.4M176.83 122v1.4M178.73 122v1.4M180.38 122v1.4M181.83 122v1.4M183.12 122v2.5M191.67 122v1.4M196.66 122v1.4M200.21 122v1.4M202.96 122v1.4M205.21 122v1.4M207.10 122v1.4M208.75 122v1.4M210.20 122v1.4" stroke="#333" stroke-width="0.7" fill="none"/>
<rect x="98.75" y="77.80" width="18.75" height="31.60" fill="none" stroke="#111" stroke-width="1.0"/>
<rect x="134.25" y="77.80" width="24.50" height="31.60" fill="none" stroke="#111" stroke-width="1.0"/>
<rect x="158.75" y="77.80" width="24.50" height="31.60" fill="none" stroke="#111" stroke-width="1.0"/>
<text x="99.8" y="75.7" font-size="7.2" font-weight="bold" textLength="18.7" lengthAdjust="spacingAndGlyphs" >GFP<tspan font-size="4.90" dy="-2.45">-</tspan></text>
<text x="134.4" y="75.7" font-size="7.2" font-weight="bold" textLength="26.5" lengthAdjust="spacingAndGlyphs" >GFP<tspan font-size="4.90" dy="-2.16">low</tspan></text>
<text x="162.6" y="75.7" font-size="7.2" font-weight="bold" textLength="19.9" lengthAdjust="spacingAndGlyphs" >GFP<tspan font-size="4.90" dy="-2.16">hi</tspan></text>
<text x="99.8" y="137.3" font-size="10.9" font-weight="bold" textLength="61.8" lengthAdjust="spacingAndGlyphs" >Tg SdAb19<tspan font-size="7.41" dy="-3.71">+</tspan></text>
<path d="M167.1 176.3h1.1v1.1h-1.1zM175.0 174.3h1.1v1.1h-1.1zM173.2 172.6h1.1v1.1h-1.1zM165.1 179.5h1.1v1.1h-1.1zM164.1 174.9h1.1v1.1h-1.1zM166.3 181.9h1.1v1.1h-1.1zM169.9 174.8h1.1v1.1h-1.1zM165.3 174.2h1.1v1.1h-1.1zM171.2 174.9h1.1v1.1h-1.1zM157.3 181.9h1.1v1.1h-1.1zM176.0 173.4h1.1v1.1h-1.1zM165.6 175.2h1.1v1.1h-1.1zM171.6 176.5h1.1v1.1h-1.1zM171.0 185.9h1.1v1.1h-1.1zM164.0 175.7h1.1v1.1h-1.1zM170.3 176.9h1.1v1.1h-1.1zM171.5 174.5h1.1v1.1h-1.1zM166.7 178.5h1.1v1.1h-1.1zM164.6 173.9h1.1v1.1h-1.1zM169.8 173.0h1.1v1.1h-1.1zM163.4 181.0h1.1v1.1h-1.1zM159.4 181.7h1.1v1.1h-1.1zM171.5 180.0h1.1v1.1h-1.1zM163.1 177.8h1.1v1.1h-1.1zM157.5 183.3h1.1v1.1h-1.1zM166.6 186.2h1.1v1.1h-1.1zM164.1 177.1h1.1v1.1h-1.1zM160.1 178.9h1.1v1.1h-1.1zM159.6 181.6h1.1v1.1h-1.1zM167.6 177.3h1.1v1.1h-1.1zM173.2 176.8h1.1v1.1h-1.1zM166.4 178.4h1.1v1.1h-1.1zM162.7 177.9h1.1v1.1h-1.1zM169.8 176.9h1.1v1.1h-1.1zM174.4 181.3h1.1v1.1h-1.1zM167.4 181.2h1.1v1.1h-1.1zM167.1 169.8h1.1v1.1h-1.1zM172.9 174.2h1.1v1.1h-1.1zM165.4 176.2h1.1v1.1h-1.1zM163.9 181.2h1.1v1.1h-1.1zM169.1 176.1h1.1v1.1h-1.1zM171.1 181.1h1.1v1.1h-1.1zM174.4 176.5h1.1v1.1h-1.1zM161.7 183.1h1.1v1.1h-1.1zM164.2 179.8h1.1v1.1h-1.1zM163.0 179.8h1.1v1.1h-1.1zM158.7 183.1h1.1v1.1h-1.1zM169.7 180.0h1.1v1.1h-1.1zM170.9 177.2h1.1v1.1h-1.1zM163.2 178.8h1.1v1.1h-1.1zM176.3 176.4h1.1v1.1h-1.1zM172.1 175.6h1.1v1.1h-1.1zM170.7 175.6h1.1v1.1h-1.1zM168.7 174.6h1.1v1.1h-1.1zM171.9 173.6h1.1v1.1h-1.1zM159.7 179.8h1.1v1.1h-1.1zM167.5 169.6h1.1v1.1h-1.1zM171.9 178.0h1.1v1.1h-1.1zM158.8 183.7h1.1v1.1h-1.1zM169.1 176.0h1.1v1.1h-1.1zM167.4 180.5h1.1v1.1h-1.1zM172.2 176.3h1.1v1.1h-1.1zM165.6 179.6h1.1v1.1h-1.1zM164.5 172.1h1.1v1.1h-1.1zM169.0 176.0h1.1v1.1h-1.1zM163.5 181.1h1.1v1.1h-1.1zM172.6 179.4h1.1v1.1h-1.1zM169.1 181.9h1.1v1.1h-1.1zM171.8 179.3h1.1v1.1h-1.1zM163.4 176.4h1.1v1.1h-1.1zM170.7 169.6h1.1v1.1h-1.1zM171.4 177.1h1.1v1.1h-1.1zM166.6 178.1h1.1v1.1h-1.1zM172.0 177.8h1.1v1.1h-1.1zM174.0 173.7h1.1v1.1h-1.1zM177.2 172.9h1.1v1.1h-1.1zM157.4 178.6h1.1v1.1h-1.1zM172.7 176.0h1.1v1.1h-1.1zM169.4 175.2h1.1v1.1h-1.1zM167.4 178.5h1.1v1.1h-1.1zM162.7 181.3h1.1v1.1h-1.1zM174.0 173.7h1.1v1.1h-1.1zM161.2 181.8h1.1v1.1h-1.1zM170.5 175.9h1.1v1.1h-1.1zM175.3 175.5h1.1v1.1h-1.1zM159.6 183.1h1.1v1.1h-1.1zM165.3 177.1h1.1v1.1h-1.1zM159.9 179.9h1.1v1.1h-1.1zM170.8 180.7h1.1v1.1h-1.1zM175.4 173.0h1.1v1.1h-1.1zM179.4 174.0h1.1v1.1h-1.1zM158.5 183.4h1.1v1.1h-1.1zM163.8 177.9h1.1v1.1h-1.1zM170.3 173.9h1.1v1.1h-1.1zM176.0 173.3h1.1v1.1h-1.1zM170.0 176.9h1.1v1.1h-1.1zM164.3 181.0h1.1v1.1h-1.1zM167.6 173.9h1.1v1.1h-1.1zM166.7 176.2h1.1v1.1h-1.1zM166.3 177.9h1.1v1.1h-1.1zM165.5 183.1h1.1v1.1h-1.1zM166.8 171.2h1.1v1.1h-1.1zM169.6 177.6h1.1v1.1h-1.1zM166.4 176.6h1.1v1.1h-1.1zM166.8 179.1h1.1v1.1h-1.1zM160.1 180.0h1.1v1.1h-1.1zM165.4 179.7h1.1v1.1h-1.1zM175.7 177.6h1.1v1.1h-1.1zM166.9 178.8h1.1v1.1h-1.1zM160.4 182.5h1.1v1.1h-1.1zM175.0 174.6h1.1v1.1h-1.1zM169.4 174.4h1.1v1.1h-1.1zM179.3 172.8h1.1v1.1h-1.1zM167.6 176.9h1.1v1.1h-1.1zM164.1 177.0h1.1v1.1h-1.1zM159.8 181.5h1.1v1.1h-1.1zM174.2 173.3h1.1v1.1h-1.1zM182.0 171.9h1.1v1.1h-1.1zM163.1 179.7h1.1v1.1h-1.1zM163.5 178.2h1.1v1.1h-1.1zM172.4 179.0h1.1v1.1h-1.1zM164.3 182.0h1.1v1.1h-1.1zM167.6 181.1h1.1v1.1h-1.1zM166.4 179.8h1.1v1.1h-1.1zM168.4 176.7h1.1v1.1h-1.1zM172.8 173.5h1.1v1.1h-1.1zM167.3 176.8h1.1v1.1h-1.1zM173.5 177.0h1.1v1.1h-1.1zM165.4 178.9h1.1v1.1h-1.1zM167.5 173.3h1.1v1.1h-1.1zM156.1 183.4h1.1v1.1h-1.1zM158.2 178.5h1.1v1.1h-1.1zM171.9 175.6h1.1v1.1h-1.1zM163.0 176.5h1.1v1.1h-1.1zM169.1 173.1h1.1v1.1h-1.1zM170.5 176.2h1.1v1.1h-1.1zM174.4 173.6h1.1v1.1h-1.1zM169.9 171.5h1.1v1.1h-1.1zM173.8 176.3h1.1v1.1h-1.1zM169.4 182.6h1.1v1.1h-1.1zM162.1 176.2h1.1v1.1h-1.1zM165.8 183.6h1.1v1.1h-1.1zM164.1 177.4h1.1v1.1h-1.1zM160.9 179.6h1.1v1.1h-1.1zM164.4 178.6h1.1v1.1h-1.1zM165.3 174.6h1.1v1.1h-1.1zM170.4 179.7h1.1v1.1h-1.1zM166.3 179.5h1.1v1.1h-1.1zM156.4 181.3h1.1v1.1h-1.1zM166.8 177.1h1.1v1.1h-1.1zM166.9 173.5h1.1v1.1h-1.1zM172.8 173.7h1.1v1.1h-1.1zM171.7 177.9h1.1v1.1h-1.1zM162.1 175.5h1.1v1.1h-1.1zM163.2 178.6h1.1v1.1h-1.1zM178.3 172.2h1.1v1.1h-1.1zM172.7 177.7h1.1v1.1h-1.1zM178.8 175.3h1.1v1.1h-1.1zM178.2 170.5h1.1v1.1h-1.1zM162.3 178.2h1.1v1.1h-1.1zM170.1 177.4h1.1v1.1h-1.1zM169.5 175.4h1.1v1.1h-1.1zM170.1 175.2h1.1v1.1h-1.1zM171.6 178.4h1.1v1.1h-1.1zM170.6 180.7h1.1v1.1h-1.1zM168.7 177.6h1.1v1.1h-1.1zM159.3 181.3h1.1v1.1h-1.1zM167.3 179.2h1.1v1.1h-1.1zM161.3 175.4h1.1v1.1h-1.1zM168.1 177.1h1.1v1.1h-1.1zM163.8 176.5h1.1v1.1h-1.1zM173.6 181.0h1.1v1.1h-1.1zM172.7 176.8h1.1v1.1h-1.1zM169.3 176.9h1.1v1.1h-1.1zM168.9 176.2h1.1v1.1h-1.1zM165.0 171.7h1.1v1.1h-1.1zM166.0 180.3h1.1v1.1h-1.1zM168.5 181.6h1.1v1.1h-1.1zM164.0 177.3h1.1v1.1h-1.1zM170.4 177.9h1.1v1.1h-1.1zM168.4 179.1h1.1v1.1h-1.1zM168.8 172.4h1.1v1.1h-1.1zM161.6 183.3h1.1v1.1h-1.1zM173.8 178.0h1.1v1.1h-1.1zM163.7 180.2h1.1v1.1h-1.1zM163.5 179.4h1.1v1.1h-1.1zM167.4 179.8h1.1v1.1h-1.1zM162.7 175.7h1.1v1.1h-1.1zM169.2 176.9h1.1v1.1h-1.1zM165.7 181.4h1.1v1.1h-1.1zM160.4 177.8h1.1v1.1h-1.1zM164.2 182.1h1.1v1.1h-1.1zM174.0 172.9h1.1v1.1h-1.1zM165.3 172.8h1.1v1.1h-1.1zM161.2 180.6h1.1v1.1h-1.1zM166.4 175.3h1.1v1.1h-1.1zM159.6 182.6h1.1v1.1h-1.1zM175.6 169.9h1.1v1.1h-1.1zM160.7 184.1h1.1v1.1h-1.1zM169.2 174.5h1.1v1.1h-1.1zM170.8 176.8h1.1v1.1h-1.1zM159.1 180.3h1.1v1.1h-1.1zM168.7 175.9h1.1v1.1h-1.1zM174.2 177.3h1.1v1.1h-1.1zM170.2 176.7h1.1v1.1h-1.1zM168.4 175.9h1.1v1.1h-1.1zM171.1 172.1h1.1v1.1h-1.1zM169.7 179.6h1.1v1.1h-1.1zM170.1 178.2h1.1v1.1h-1.1zM166.4 177.1h1.1v1.1h-1.1zM171.1 176.3h1.1v1.1h-1.1zM161.3 177.9h1.1v1.1h-1.1zM170.5 173.0h1.1v1.1h-1.1zM163.9 177.1h1.1v1.1h-1.1zM162.1 181.4h1.1v1.1h-1.1zM169.8 177.1h1.1v1.1h-1.1zM175.6 171.1h1.1v1.1h-1.1zM173.5 176.4h1.1v1.1h-1.1zM165.7 180.7h1.1v1.1h-1.1zM171.4 175.9h1.1v1.1h-1.1zM166.3 181.1h1.1v1.1h-1.1zM166.5 177.2h1.1v1.1h-1.1zM167.8 177.0h1.1v1.1h-1.1zM155.8 185.1h1.1v1.1h-1.1zM168.5 176.9h1.1v1.1h-1.1zM163.0 182.2h1.1v1.1h-1.1zM162.3 176.7h1.1v1.1h-1.1zM161.4 184.8h1.1v1.1h-1.1zM158.5 180.0h1.1v1.1h-1.1zM162.3 179.8h1.1v1.1h-1.1zM170.3 172.1h1.1v1.1h-1.1zM177.0 174.1h1.1v1.1h-1.1zM168.9 180.4h1.1v1.1h-1.1zM174.5 176.8h1.1v1.1h-1.1zM167.1 180.1h1.1v1.1h-1.1zM155.5 179.4h1.1v1.1h-1.1zM167.4 175.4h1.1v1.1h-1.1zM169.3 175.2h1.1v1.1h-1.1zM164.1 176.6h1.1v1.1h-1.1zM170.4 179.1h1.1v1.1h-1.1zM170.7 176.3h1.1v1.1h-1.1zM162.9 179.9h1.1v1.1h-1.1zM160.2 182.7h1.1v1.1h-1.1zM165.2 176.0h1.1v1.1h-1.1zM165.3 176.1h1.1v1.1h-1.1zM164.6 176.5h1.1v1.1h-1.1zM173.3 175.8h1.1v1.1h-1.1zM177.0 173.4h1.1v1.1h-1.1zM166.0 179.9h1.1v1.1h-1.1zM172.5 177.9h1.1v1.1h-1.1zM170.9 171.9h1.1v1.1h-1.1zM170.6 174.3h1.1v1.1h-1.1zM173.2 174.9h1.1v1.1h-1.1zM163.9 175.6h1.1v1.1h-1.1zM170.8 174.2h1.1v1.1h-1.1zM179.4 174.0h1.1v1.1h-1.1zM173.1 177.7h1.1v1.1h-1.1zM165.5 181.6h1.1v1.1h-1.1zM170.8 175.9h1.1v1.1h-1.1zM173.9 173.5h1.1v1.1h-1.1zM170.7 178.8h1.1v1.1h-1.1zM164.1 178.3h1.1v1.1h-1.1zM176.1 173.9h1.1v1.1h-1.1zM162.4 183.9h1.1v1.1h-1.1zM169.7 175.3h1.1v1.1h-1.1zM166.7 176.2h1.1v1.1h-1.1zM161.2 180.8h1.1v1.1h-1.1zM174.7 175.4h1.1v1.1h-1.1zM169.9 177.6h1.1v1.1h-1.1zM161.5 181.1h1.1v1.1h-1.1zM171.3 177.0h1.1v1.1h-1.1zM163.3 175.2h1.1v1.1h-1.1zM156.4 181.0h1.1v1.1h-1.1zM164.0 179.8h1.1v1.1h-1.1zM167.8 174.7h1.1v1.1h-1.1zM169.3 172.7h1.1v1.1h-1.1zM167.0 174.4h1.1v1.1h-1.1zM166.7 175.3h1.1v1.1h-1.1zM169.8 175.8h1.1v1.1h-1.1zM165.2 175.8h1.1v1.1h-1.1zM174.0 174.7h1.1v1.1h-1.1zM170.3 180.8h1.1v1.1h-1.1zM168.9 176.3h1.1v1.1h-1.1zM171.9 178.8h1.1v1.1h-1.1zM162.2 181.1h1.1v1.1h-1.1zM162.4 177.0h1.1v1.1h-1.1zM175.3 172.6h1.1v1.1h-1.1zM168.1 174.4h1.1v1.1h-1.1zM166.9 180.0h1.1v1.1h-1.1zM168.0 174.0h1.1v1.1h-1.1zM105.9 209.4h1.1v1.1h-1.1zM118.8 209.2h1.1v1.1h-1.1zM126.5 208.9h1.1v1.1h-1.1zM142.5 209.5h1.1v1.1h-1.1zM103.4 209.1h1.1v1.1h-1.1zM101.7 211.3h1.1v1.1h-1.1zM107.0 211.0h1.1v1.1h-1.1zM108.4 207.8h1.1v1.1h-1.1zM105.7 209.2h1.1v1.1h-1.1zM101.6 211.2h1.1v1.1h-1.1zM107.8 210.3h1.1v1.1h-1.1zM108.5 207.8h1.1v1.1h-1.1zM120.5 209.5h1.1v1.1h-1.1zM128.4 209.2h1.1v1.1h-1.1zM115.1 208.3h1.1v1.1h-1.1zM105.9 209.6h1.1v1.1h-1.1zM102.4 208.2h1.1v1.1h-1.1zM110.4 210.5h1.1v1.1h-1.1zM106.0 208.9h1.1v1.1h-1.1zM120.6 209.5h1.1v1.1h-1.1zM138.9 211.4h1.1v1.1h-1.1zM131.7 210.4h1.1v1.1h-1.1zM107.6 207.7h1.1v1.1h-1.1zM99.7 208.1h1.1v1.1h-1.1zM101.2 209.1h1.1v1.1h-1.1zM118.5 211.1h1.1v1.1h-1.1zM115.1 209.1h1.1v1.1h-1.1zM130.1 210.1h1.1v1.1h-1.1zM101.9 211.1h1.1v1.1h-1.1zM110.0 207.9h1.1v1.1h-1.1zM130.2 210.2h1.1v1.1h-1.1zM124.7 209.6h1.1v1.1h-1.1zM122.3 208.2h1.1v1.1h-1.1zM140.4 210.9h1.1v1.1h-1.1zM103.3 209.9h1.1v1.1h-1.1zM107.2 207.6h1.1v1.1h-1.1zM124.6 211.5h1.1v1.1h-1.1zM124.6 209.1h1.1v1.1h-1.1zM144.1 209.0h1.1v1.1h-1.1zM143.9 206.6h1.1v1.1h-1.1zM125.6 205.9h1.1v1.1h-1.1zM133.7 211.1h1.1v1.1h-1.1zM130.8 210.9h1.1v1.1h-1.1zM104.2 208.6h1.1v1.1h-1.1zM126.3 211.2h1.1v1.1h-1.1zM112.4 210.1h1.1v1.1h-1.1zM114.9 208.0h1.1v1.1h-1.1zM105.3 211.0h1.1v1.1h-1.1zM138.1 210.2h1.1v1.1h-1.1zM131.7 211.0h1.1v1.1h-1.1zM133.4 207.9h1.1v1.1h-1.1zM111.5 206.7h1.1v1.1h-1.1zM117.6 208.9h1.1v1.1h-1.1zM106.3 209.6h1.1v1.1h-1.1zM126.3 210.4h1.1v1.1h-1.1zM137.4 210.4h1.1v1.1h-1.1zM134.6 206.3h1.1v1.1h-1.1zM141.9 204.5h1.1v1.1h-1.1zM110.2 209.9h1.1v1.1h-1.1zM131.0 210.7h1.1v1.1h-1.1zM104.0 209.9h1.1v1.1h-1.1zM123.2 210.6h1.1v1.1h-1.1zM103.2 211.1h1.1v1.1h-1.1zM123.4 208.4h1.1v1.1h-1.1zM123.5 209.2h1.1v1.1h-1.1zM114.3 211.1h1.1v1.1h-1.1zM114.4 211.3h1.1v1.1h-1.1zM131.4 211.3h1.1v1.1h-1.1zM120.6 205.6h1.1v1.1h-1.1zM117.2 210.8h1.1v1.1h-1.1zM103.3 211.2h1.1v1.1h-1.1zM111.3 208.9h1.1v1.1h-1.1zM137.8 210.6h1.1v1.1h-1.1zM143.7 210.1h1.1v1.1h-1.1zM115.5 210.0h1.1v1.1h-1.1zM138.9 211.1h1.1v1.1h-1.1zM139.1 210.5h1.1v1.1h-1.1zM108.3 211.4h1.1v1.1h-1.1zM110.9 206.6h1.1v1.1h-1.1zM130.7 203.0h1.1v1.1h-1.1zM112.4 205.5h1.1v1.1h-1.1zM142.9 209.3h1.1v1.1h-1.1zM115.2 211.4h1.1v1.1h-1.1zM132.3 207.0h1.1v1.1h-1.1zM131.2 208.2h1.1v1.1h-1.1zM108.0 208.0h1.1v1.1h-1.1zM138.7 204.3h1.1v1.1h-1.1zM113.4 210.7h1.1v1.1h-1.1zM103.2 209.2h1.1v1.1h-1.1zM150.4 211.1h1.1v1.1h-1.1zM166.5 209.5h1.1v1.1h-1.1zM160.8 211.2h1.1v1.1h-1.1zM156.5 205.3h1.1v1.1h-1.1zM152.8 208.8h1.1v1.1h-1.1zM161.9 208.0h1.1v1.1h-1.1zM144.9 210.8h1.1v1.1h-1.1zM157.8 207.8h1.1v1.1h-1.1zM156.8 211.4h1.1v1.1h-1.1zM165.4 208.8h1.1v1.1h-1.1zM150.0 210.1h1.1v1.1h-1.1zM173.7 208.4h1.1v1.1h-1.1zM157.5 207.9h1.1v1.1h-1.1zM150.9 207.4h1.1v1.1h-1.1zM171.1 207.5h1.1v1.1h-1.1zM173.3 210.4h1.1v1.1h-1.1zM158.5 208.5h1.1v1.1h-1.1zM152.9 208.5h1.1v1.1h-1.1zM160.1 210.9h1.1v1.1h-1.1zM154.5 210.0h1.1v1.1h-1.1zM157.5 210.2h1.1v1.1h-1.1zM172.5 207.8h1.1v1.1h-1.1zM163.1 211.0h1.1v1.1h-1.1zM161.2 211.5h1.1v1.1h-1.1zM162.8 211.3h1.1v1.1h-1.1zM159.5 211.4h1.1v1.1h-1.1zM166.7 211.0h1.1v1.1h-1.1zM167.0 210.0h1.1v1.1h-1.1zM157.0 211.2h1.1v1.1h-1.1zM160.8 210.9h1.1v1.1h-1.1zM179.3 209.7h1.1v1.1h-1.1zM163.4 210.5h1.1v1.1h-1.1zM158.5 211.2h1.1v1.1h-1.1zM176.4 206.0h1.1v1.1h-1.1zM160.1 210.2h1.1v1.1h-1.1zM151.2 210.8h1.1v1.1h-1.1zM165.4 209.1h1.1v1.1h-1.1zM152.8 211.1h1.1v1.1h-1.1zM156.0 211.3h1.1v1.1h-1.1zM162.6 210.9h1.1v1.1h-1.1zM159.0 211.5h1.1v1.1h-1.1zM153.9 210.3h1.1v1.1h-1.1zM155.6 206.8h1.1v1.1h-1.1zM155.3 206.7h1.1v1.1h-1.1zM169.3 207.4h1.1v1.1h-1.1zM154.2 210.6h1.1v1.1h-1.1zM155.4 209.8h1.1v1.1h-1.1zM176.3 210.5h1.1v1.1h-1.1zM155.6 210.0h1.1v1.1h-1.1zM171.9 209.5h1.1v1.1h-1.1zM170.5 208.2h1.1v1.1h-1.1zM158.8 210.7h1.1v1.1h-1.1zM148.6 203.9h1.1v1.1h-1.1zM163.6 208.9h1.1v1.1h-1.1zM165.4 210.9h1.1v1.1h-1.1zM167.7 210.6h1.1v1.1h-1.1zM160.6 210.1h1.1v1.1h-1.1zM169.6 210.8h1.1v1.1h-1.1zM171.1 207.7h1.1v1.1h-1.1zM151.6 209.7h1.1v1.1h-1.1zM171.4 209.7h1.1v1.1h-1.1zM161.4 209.6h1.1v1.1h-1.1zM155.5 210.1h1.1v1.1h-1.1zM157.5 206.4h1.1v1.1h-1.1zM175.0 208.8h1.1v1.1h-1.1zM167.9 210.9h1.1v1.1h-1.1zM145.7 210.6h1.1v1.1h-1.1zM160.7 210.9h1.1v1.1h-1.1zM158.9 211.0h1.1v1.1h-1.1zM158.6 208.0h1.1v1.1h-1.1zM155.9 211.5h1.1v1.1h-1.1zM148.3 211.0h1.1v1.1h-1.1zM166.9 210.9h1.1v1.1h-1.1zM152.5 210.4h1.1v1.1h-1.1zM157.0 207.1h1.1v1.1h-1.1zM155.2 209.7h1.1v1.1h-1.1zM154.2 209.1h1.1v1.1h-1.1zM165.9 209.9h1.1v1.1h-1.1zM163.1 208.8h1.1v1.1h-1.1zM154.6 210.8h1.1v1.1h-1.1zM152.4 210.9h1.1v1.1h-1.1zM156.2 210.6h1.1v1.1h-1.1zM167.7 211.0h1.1v1.1h-1.1zM161.0 209.0h1.1v1.1h-1.1zM161.9 210.7h1.1v1.1h-1.1zM157.4 208.9h1.1v1.1h-1.1zM157.9 210.4h1.1v1.1h-1.1zM161.7 209.8h1.1v1.1h-1.1zM145.3 211.0h1.1v1.1h-1.1zM172.9 208.5h1.1v1.1h-1.1zM153.7 211.0h1.1v1.1h-1.1zM155.5 209.7h1.1v1.1h-1.1zM170.7 211.4h1.1v1.1h-1.1zM161.8 209.1h1.1v1.1h-1.1zM160.3 209.9h1.1v1.1h-1.1zM155.3 211.2h1.1v1.1h-1.1zM147.5 210.2h1.1v1.1h-1.1zM161.5 209.3h1.1v1.1h-1.1zM169.6 211.1h1.1v1.1h-1.1zM152.8 208.1h1.1v1.1h-1.1zM170.9 207.8h1.1v1.1h-1.1zM151.0 210.7h1.1v1.1h-1.1zM154.1 210.4h1.1v1.1h-1.1zM164.0 210.7h1.1v1.1h-1.1zM160.0 208.8h1.1v1.1h-1.1zM165.5 210.7h1.1v1.1h-1.1zM154.1 210.8h1.1v1.1h-1.1zM151.7 208.8h1.1v1.1h-1.1zM145.1 211.3h1.1v1.1h-1.1zM150.4 203.4h1.1v1.1h-1.1zM151.4 210.9h1.1v1.1h-1.1zM148.6 210.6h1.1v1.1h-1.1zM162.5 208.1h1.1v1.1h-1.1zM154.7 209.7h1.1v1.1h-1.1zM144.1 205.0h1.1v1.1h-1.1zM179.9 207.8h1.1v1.1h-1.1zM153.3 208.0h1.1v1.1h-1.1zM150.0 209.0h1.1v1.1h-1.1zM169.9 207.9h1.1v1.1h-1.1zM169.3 209.3h1.1v1.1h-1.1zM150.8 209.9h1.1v1.1h-1.1zM148.2 210.1h1.1v1.1h-1.1zM152.0 210.0h1.1v1.1h-1.1zM169.0 210.4h1.1v1.1h-1.1zM157.5 210.3h1.1v1.1h-1.1zM153.5 211.2h1.1v1.1h-1.1zM159.8 210.8h1.1v1.1h-1.1zM169.6 210.9h1.1v1.1h-1.1zM148.9 210.4h1.1v1.1h-1.1zM156.9 210.1h1.1v1.1h-1.1zM148.9 206.5h1.1v1.1h-1.1zM177.4 210.8h1.1v1.1h-1.1zM174.5 207.1h1.1v1.1h-1.1zM167.6 210.2h1.1v1.1h-1.1zM158.9 210.2h1.1v1.1h-1.1zM165.3 211.4h1.1v1.1h-1.1zM143.2 211.2h1.1v1.1h-1.1zM162.2 211.3h1.1v1.1h-1.1zM149.3 207.4h1.1v1.1h-1.1zM149.4 208.6h1.1v1.1h-1.1zM154.4 209.2h1.1v1.1h-1.1zM157.2 207.6h1.1v1.1h-1.1zM164.6 210.3h1.1v1.1h-1.1zM165.6 211.1h1.1v1.1h-1.1zM162.1 209.3h1.1v1.1h-1.1zM152.4 211.0h1.1v1.1h-1.1zM165.4 209.6h1.1v1.1h-1.1zM159.0 208.4h1.1v1.1h-1.1zM169.4 211.3h1.1v1.1h-1.1zM152.7 210.5h1.1v1.1h-1.1zM137.9 206.5h1.1v1.1h-1.1zM156.2 211.0h1.1v1.1h-1.1zM177.2 209.4h1.1v1.1h-1.1zM163.8 208.0h1.1v1.1h-1.1zM158.4 209.2h1.1v1.1h-1.1zM167.1 207.1h1.1v1.1h-1.1zM164.0 210.1h1.1v1.1h-1.1zM163.7 206.5h1.1v1.1h-1.1zM155.9 210.1h1.1v1.1h-1.1zM160.6 210.3h1.1v1.1h-1.1zM161.6 209.4h1.1v1.1h-1.1zM154.9 209.2h1.1v1.1h-1.1zM151.1 207.9h1.1v1.1h-1.1zM161.1 207.0h1.1v1.1h-1.1zM167.7 210.6h1.1v1.1h-1.1zM165.2 208.2h1.1v1.1h-1.1zM164.0 204.6h1.1v1.1h-1.1zM164.0 210.5h1.1v1.1h-1.1zM180.7 209.5h1.1v1.1h-1.1zM162.1 210.5h1.1v1.1h-1.1zM168.3 211.2h1.1v1.1h-1.1zM175.7 210.6h1.1v1.1h-1.1zM160.4 209.8h1.1v1.1h-1.1zM162.1 210.8h1.1v1.1h-1.1zM168.4 210.5h1.1v1.1h-1.1zM173.5 206.9h1.1v1.1h-1.1zM162.5 209.6h1.1v1.1h-1.1zM162.9 207.7h1.1v1.1h-1.1zM160.7 211.1h1.1v1.1h-1.1zM150.4 209.9h1.1v1.1h-1.1zM168.9 210.5h1.1v1.1h-1.1zM158.0 208.8h1.1v1.1h-1.1zM146.2 208.5h1.1v1.1h-1.1zM158.8 210.9h1.1v1.1h-1.1zM146.2 208.7h1.1v1.1h-1.1zM152.0 205.1h1.1v1.1h-1.1zM160.2 210.4h1.1v1.1h-1.1zM152.7 209.8h1.1v1.1h-1.1zM168.6 210.1h1.1v1.1h-1.1zM148.3 208.7h1.1v1.1h-1.1zM162.2 205.1h1.1v1.1h-1.1zM164.5 210.8h1.1v1.1h-1.1zM171.7 210.7h1.1v1.1h-1.1zM167.4 207.6h1.1v1.1h-1.1zM161.9 211.5h1.1v1.1h-1.1zM160.7 208.3h1.1v1.1h-1.1zM159.6 211.4h1.1v1.1h-1.1zM169.2 210.6h1.1v1.1h-1.1zM154.8 210.3h1.1v1.1h-1.1zM164.2 210.4h1.1v1.1h-1.1zM159.3 209.6h1.1v1.1h-1.1zM162.0 209.2h1.1v1.1h-1.1zM158.0 210.3h1.1v1.1h-1.1zM177.2 210.6h1.1v1.1h-1.1zM154.8 209.7h1.1v1.1h-1.1zM162.1 210.7h1.1v1.1h-1.1zM162.3 208.1h1.1v1.1h-1.1zM165.0 209.9h1.1v1.1h-1.1zM163.7 208.6h1.1v1.1h-1.1zM163.5 209.2h1.1v1.1h-1.1zM167.9 208.6h1.1v1.1h-1.1zM148.1 209.3h1.1v1.1h-1.1zM160.2 211.1h1.1v1.1h-1.1zM150.2 205.6h1.1v1.1h-1.1zM162.0 209.6h1.1v1.1h-1.1zM150.6 206.1h1.1v1.1h-1.1zM152.4 206.8h1.1v1.1h-1.1zM159.6 210.0h1.1v1.1h-1.1zM171.3 211.3h1.1v1.1h-1.1zM164.7 210.2h1.1v1.1h-1.1zM162.5 209.2h1.1v1.1h-1.1zM171.3 211.4h1.1v1.1h-1.1zM152.5 208.6h1.1v1.1h-1.1zM143.4 209.6h1.1v1.1h-1.1zM156.7 209.9h1.1v1.1h-1.1zM157.9 208.0h1.1v1.1h-1.1zM170.0 210.5h1.1v1.1h-1.1zM177.2 210.8h1.1v1.1h-1.1zM149.5 211.5h1.1v1.1h-1.1zM179.9 210.2h1.1v1.1h-1.1zM172.6 209.5h1.1v1.1h-1.1zM166.8 210.1h1.1v1.1h-1.1zM163.1 211.2h1.1v1.1h-1.1zM179.5 208.0h1.1v1.1h-1.1zM160.8 209.9h1.1v1.1h-1.1zM156.3 207.9h1.1v1.1h-1.1zM161.2 206.4h1.1v1.1h-1.1zM149.2 211.4h1.1v1.1h-1.1zM163.9 211.4h1.1v1.1h-1.1zM159.2 207.8h1.1v1.1h-1.1zM192.3 207.8h1.1v1.1h-1.1zM176.6 210.6h1.1v1.1h-1.1zM185.8 209.7h1.1v1.1h-1.1zM182.9 209.5h1.1v1.1h-1.1zM187.5 210.0h1.1v1.1h-1.1zM177.7 209.3h1.1v1.1h-1.1zM190.6 211.1h1.1v1.1h-1.1zM184.3 211.1h1.1v1.1h-1.1zM194.9 210.2h1.1v1.1h-1.1zM176.4 206.0h1.1v1.1h-1.1zM184.4 209.3h1.1v1.1h-1.1zM185.7 210.7h1.1v1.1h-1.1zM192.6 211.3h1.1v1.1h-1.1zM191.1 210.4h1.1v1.1h-1.1zM179.6 210.4h1.1v1.1h-1.1zM182.2 209.7h1.1v1.1h-1.1zM190.7 209.3h1.1v1.1h-1.1zM184.4 209.4h1.1v1.1h-1.1zM181.3 211.5h1.1v1.1h-1.1zM194.6 210.6h1.1v1.1h-1.1z" fill="#000" fill-opacity="0.92"/>
<path d="M123.4 209.9h1.1v1.1h-1.1zM156.0 199.8h1.1v1.1h-1.1zM98.7 211.3h1.1v1.1h-1.1zM102.7 210.3h1.1v1.1h-1.1zM135.2 204.7h1.1v1.1h-1.1zM113.4 202.8h1.1v1.1h-1.1zM122.2 186.3h1.1v1.1h-1.1zM152.5 197.6h1.1v1.1h-1.1zM118.6 205.1h1.1v1.1h-1.1zM101.1 202.4h1.1v1.1h-1.1zM106.6 211.1h1.1v1.1h-1.1zM144.5 188.3h1.1v1.1h-1.1zM143.5 210.4h1.1v1.1h-1.1zM126.3 196.8h1.1v1.1h-1.1zM112.4 183.4h1.1v1.1h-1.1zM105.7 204.8h1.1v1.1h-1.1zM111.4 173.8h1.1v1.1h-1.1zM110.0 210.6h1.1v1.1h-1.1zM152.4 211.6h1.1v1.1h-1.1zM122.5 165.8h1.1v1.1h-1.1zM105.0 171.9h1.1v1.1h-1.1zM136.3 178.6h1.1v1.1h-1.1zM125.4 209.0h1.1v1.1h-1.1zM99.7 192.1h1.1v1.1h-1.1zM156.8 206.0h1.1v1.1h-1.1zM154.8 208.6h1.1v1.1h-1.1zM113.8 187.6h1.1v1.1h-1.1zM148.0 210.6h1.1v1.1h-1.1zM125.3 189.2h1.1v1.1h-1.1zM138.4 210.8h1.1v1.1h-1.1zM137.2 203.6h1.1v1.1h-1.1zM141.9 207.8h1.1v1.1h-1.1zM124.4 201.6h1.1v1.1h-1.1zM106.8 210.0h1.1v1.1h-1.1zM146.3 182.3h1.1v1.1h-1.1zM124.4 187.0h1.1v1.1h-1.1zM124.5 176.2h1.1v1.1h-1.1zM143.6 212.3h1.1v1.1h-1.1zM139.1 175.2h1.1v1.1h-1.1zM157.3 189.2h1.1v1.1h-1.1zM121.3 183.1h1.1v1.1h-1.1zM136.1 184.7h1.1v1.1h-1.1zM103.0 196.8h1.1v1.1h-1.1zM104.8 209.5h1.1v1.1h-1.1zM114.8 199.5h1.1v1.1h-1.1zM124.8 198.7h1.1v1.1h-1.1zM111.7 178.7h1.1v1.1h-1.1zM154.2 167.6h1.1v1.1h-1.1zM123.7 184.4h1.1v1.1h-1.1zM120.9 207.2h1.1v1.1h-1.1zM152.1 186.3h1.1v1.1h-1.1zM144.2 180.4h1.1v1.1h-1.1zM152.8 179.8h1.1v1.1h-1.1zM116.3 208.5h1.1v1.1h-1.1zM155.7 188.4h1.1v1.1h-1.1zM99.6 177.7h1.1v1.1h-1.1zM151.8 201.8h1.1v1.1h-1.1zM123.2 203.5h1.1v1.1h-1.1zM118.3 210.8h1.1v1.1h-1.1zM126.5 209.5h1.1v1.1h-1.1zM122.0 200.1h1.1v1.1h-1.1zM149.6 188.1h1.1v1.1h-1.1zM146.4 209.8h1.1v1.1h-1.1zM142.8 194.8h1.1v1.1h-1.1zM112.0 167.4h1.1v1.1h-1.1zM124.4 191.3h1.1v1.1h-1.1zM102.5 190.7h1.1v1.1h-1.1zM142.6 200.0h1.1v1.1h-1.1zM100.5 170.4h1.1v1.1h-1.1zM121.8 207.4h1.1v1.1h-1.1zM107.1 187.0h1.1v1.1h-1.1zM149.1 207.2h1.1v1.1h-1.1zM153.1 190.8h1.1v1.1h-1.1zM115.4 200.3h1.1v1.1h-1.1zM150.3 196.1h1.1v1.1h-1.1zM108.7 202.2h1.1v1.1h-1.1zM140.7 202.2h1.1v1.1h-1.1zM113.0 180.5h1.1v1.1h-1.1zM124.7 187.2h1.1v1.1h-1.1zM134.7 201.1h1.1v1.1h-1.1zM119.1 191.2h1.1v1.1h-1.1zM109.9 177.0h1.1v1.1h-1.1zM133.3 188.8h1.1v1.1h-1.1zM157.7 198.8h1.1v1.1h-1.1zM117.3 199.2h1.1v1.1h-1.1zM113.5 208.9h1.1v1.1h-1.1zM102.6 191.9h1.1v1.1h-1.1zM110.3 204.9h1.1v1.1h-1.1zM99.6 195.4h1.1v1.1h-1.1zM113.0 208.9h1.1v1.1h-1.1zM141.6 205.6h1.1v1.1h-1.1zM104.9 207.2h1.1v1.1h-1.1zM136.8 211.2h1.1v1.1h-1.1zM115.7 176.9h1.1v1.1h-1.1zM111.7 164.2h1.1v1.1h-1.1zM127.0 206.7h1.1v1.1h-1.1zM124.2 177.9h1.1v1.1h-1.1zM124.8 186.1h1.1v1.1h-1.1zM105.1 210.4h1.1v1.1h-1.1zM131.9 205.3h1.1v1.1h-1.1zM152.1 194.2h1.1v1.1h-1.1zM98.6 195.6h1.1v1.1h-1.1zM133.2 211.9h1.1v1.1h-1.1zM117.1 204.4h1.1v1.1h-1.1zM113.1 187.7h1.1v1.1h-1.1zM157.3 198.6h1.1v1.1h-1.1zM116.5 209.4h1.1v1.1h-1.1zM153.3 201.0h1.1v1.1h-1.1zM135.0 208.3h1.1v1.1h-1.1zM99.8 209.8h1.1v1.1h-1.1zM114.0 204.1h1.1v1.1h-1.1zM102.5 193.3h1.1v1.1h-1.1zM130.3 174.9h1.1v1.1h-1.1zM152.5 195.0h1.1v1.1h-1.1zM101.2 209.0h1.1v1.1h-1.1zM99.7 208.0h1.1v1.1h-1.1zM99.8 199.7h1.1v1.1h-1.1zM114.4 198.0h1.1v1.1h-1.1zM108.0 187.5h1.1v1.1h-1.1zM156.1 177.8h1.1v1.1h-1.1zM144.5 197.0h1.1v1.1h-1.1zM154.4 205.3h1.1v1.1h-1.1zM132.8 190.8h1.1v1.1h-1.1zM147.3 183.4h1.1v1.1h-1.1zM140.5 208.8h1.1v1.1h-1.1zM115.5 198.4h1.1v1.1h-1.1zM137.2 197.5h1.1v1.1h-1.1zM115.4 189.8h1.1v1.1h-1.1zM125.9 182.1h1.1v1.1h-1.1zM147.4 173.4h1.1v1.1h-1.1zM111.2 203.7h1.1v1.1h-1.1zM108.5 178.7h1.1v1.1h-1.1zM149.1 187.7h1.1v1.1h-1.1zM125.8 209.8h1.1v1.1h-1.1zM108.4 184.2h1.1v1.1h-1.1zM117.1 210.3h1.1v1.1h-1.1zM114.8 183.8h1.1v1.1h-1.1zM151.8 205.3h1.1v1.1h-1.1zM126.4 199.9h1.1v1.1h-1.1zM153.2 188.7h1.1v1.1h-1.1zM126.2 206.4h1.1v1.1h-1.1zM154.4 203.9h1.1v1.1h-1.1zM153.0 206.0h1.1v1.1h-1.1zM132.1 200.5h1.1v1.1h-1.1zM145.2 196.1h1.1v1.1h-1.1zM115.2 196.4h1.1v1.1h-1.1zM104.9 208.8h1.1v1.1h-1.1zM134.3 197.0h1.1v1.1h-1.1zM101.3 212.4h1.1v1.1h-1.1zM126.0 202.7h1.1v1.1h-1.1zM135.2 186.6h1.1v1.1h-1.1zM144.1 209.0h1.1v1.1h-1.1zM151.8 209.1h1.1v1.1h-1.1zM110.2 174.6h1.1v1.1h-1.1zM127.8 189.5h1.1v1.1h-1.1zM125.7 211.3h1.1v1.1h-1.1zM148.9 201.6h1.1v1.1h-1.1zM116.0 197.1h1.1v1.1h-1.1zM147.8 194.5h1.1v1.1h-1.1zM137.7 172.8h1.1v1.1h-1.1zM141.0 204.7h1.1v1.1h-1.1zM105.5 207.8h1.1v1.1h-1.1zM110.4 188.8h1.1v1.1h-1.1zM135.5 202.3h1.1v1.1h-1.1zM142.8 202.6h1.1v1.1h-1.1zM137.7 203.5h1.1v1.1h-1.1zM133.8 207.1h1.1v1.1h-1.1zM137.3 206.9h1.1v1.1h-1.1zM106.9 195.2h1.1v1.1h-1.1zM125.0 184.2h1.1v1.1h-1.1zM117.8 191.2h1.1v1.1h-1.1zM142.2 188.6h1.1v1.1h-1.1zM129.0 205.1h1.1v1.1h-1.1zM141.2 209.1h1.1v1.1h-1.1zM139.7 210.4h1.1v1.1h-1.1zM152.3 204.0h1.1v1.1h-1.1zM149.4 211.0h1.1v1.1h-1.1zM101.1 200.6h1.1v1.1h-1.1zM138.1 176.7h1.1v1.1h-1.1zM120.4 195.8h1.1v1.1h-1.1zM104.1 190.7h1.1v1.1h-1.1zM126.7 207.9h1.1v1.1h-1.1zM148.6 196.0h1.1v1.1h-1.1zM145.8 211.5h1.1v1.1h-1.1zM110.1 182.1h1.1v1.1h-1.1zM139.7 196.5h1.1v1.1h-1.1zM156.1 210.2h1.1v1.1h-1.1zM102.6 182.3h1.1v1.1h-1.1zM103.3 207.4h1.1v1.1h-1.1zM139.7 181.4h1.1v1.1h-1.1zM135.0 187.0h1.1v1.1h-1.1zM146.7 192.6h1.1v1.1h-1.1zM109.9 208.5h1.1v1.1h-1.1zM127.7 192.8h1.1v1.1h-1.1zM146.1 198.1h1.1v1.1h-1.1zM120.9 202.8h1.1v1.1h-1.1zM122.0 201.5h1.1v1.1h-1.1zM100.0 208.3h1.1v1.1h-1.1zM145.9 206.0h1.1v1.1h-1.1zM124.8 191.9h1.1v1.1h-1.1zM120.7 210.1h1.1v1.1h-1.1zM137.3 188.7h1.1v1.1h-1.1zM149.2 178.4h1.1v1.1h-1.1zM150.0 173.7h1.1v1.1h-1.1zM118.5 202.3h1.1v1.1h-1.1zM134.5 192.2h1.1v1.1h-1.1zM121.2 191.3h1.1v1.1h-1.1zM148.3 212.0h1.1v1.1h-1.1zM145.6 208.1h1.1v1.1h-1.1zM137.7 181.4h1.1v1.1h-1.1zM147.4 200.4h1.1v1.1h-1.1zM128.6 196.7h1.1v1.1h-1.1zM132.3 208.1h1.1v1.1h-1.1zM107.8 179.2h1.1v1.1h-1.1zM140.5 190.6h1.1v1.1h-1.1zM115.3 195.7h1.1v1.1h-1.1zM131.7 203.8h1.1v1.1h-1.1zM121.8 200.7h1.1v1.1h-1.1zM134.9 185.5h1.1v1.1h-1.1zM135.8 206.5h1.1v1.1h-1.1zM131.8 206.5h1.1v1.1h-1.1zM113.1 209.3h1.1v1.1h-1.1zM137.3 188.0h1.1v1.1h-1.1zM137.7 178.9h1.1v1.1h-1.1zM133.4 168.9h1.1v1.1h-1.1zM120.6 207.5h1.1v1.1h-1.1zM107.1 210.7h1.1v1.1h-1.1zM131.4 177.0h1.1v1.1h-1.1zM101.1 205.1h1.1v1.1h-1.1zM153.0 201.0h1.1v1.1h-1.1zM119.2 211.3h1.1v1.1h-1.1zM115.0 194.4h1.1v1.1h-1.1zM125.0 202.5h1.1v1.1h-1.1zM104.2 187.9h1.1v1.1h-1.1zM151.1 207.5h1.1v1.1h-1.1zM156.8 174.5h1.1v1.1h-1.1zM147.4 193.5h1.1v1.1h-1.1zM132.4 195.5h1.1v1.1h-1.1zM154.4 181.8h1.1v1.1h-1.1zM117.8 198.1h1.1v1.1h-1.1zM125.9 201.1h1.1v1.1h-1.1zM108.3 201.1h1.1v1.1h-1.1zM123.5 201.0h1.1v1.1h-1.1zM153.7 179.2h1.1v1.1h-1.1zM137.8 187.2h1.1v1.1h-1.1zM130.7 208.5h1.1v1.1h-1.1zM130.2 207.5h1.1v1.1h-1.1zM136.1 206.6h1.1v1.1h-1.1zM134.6 204.7h1.1v1.1h-1.1zM125.2 202.8h1.1v1.1h-1.1zM128.7 192.4h1.1v1.1h-1.1zM104.1 202.4h1.1v1.1h-1.1zM124.6 205.0h1.1v1.1h-1.1zM138.5 208.7h1.1v1.1h-1.1zM111.4 201.6h1.1v1.1h-1.1zM114.6 207.8h1.1v1.1h-1.1zM146.3 164.9h1.1v1.1h-1.1zM106.2 203.8h1.1v1.1h-1.1zM109.7 206.3h1.1v1.1h-1.1zM147.1 207.7h1.1v1.1h-1.1zM105.3 203.8h1.1v1.1h-1.1zM116.0 172.4h1.1v1.1h-1.1zM122.8 208.1h1.1v1.1h-1.1zM147.0 207.4h1.1v1.1h-1.1zM143.9 174.6h1.1v1.1h-1.1zM99.2 197.3h1.1v1.1h-1.1zM111.2 201.7h1.1v1.1h-1.1zM152.7 206.5h1.1v1.1h-1.1zM117.3 204.9h1.1v1.1h-1.1zM122.2 181.9h1.1v1.1h-1.1zM154.1 207.7h1.1v1.1h-1.1zM104.6 195.3h1.1v1.1h-1.1zM156.3 180.4h1.1v1.1h-1.1zM136.8 203.7h1.1v1.1h-1.1zM135.7 211.7h1.1v1.1h-1.1zM135.8 205.8h1.1v1.1h-1.1zM147.3 211.9h1.1v1.1h-1.1zM121.6 203.4h1.1v1.1h-1.1zM102.4 206.9h1.1v1.1h-1.1zM105.9 204.6h1.1v1.1h-1.1zM102.7 206.0h1.1v1.1h-1.1zM122.9 201.3h1.1v1.1h-1.1zM147.0 209.9h1.1v1.1h-1.1zM101.5 202.6h1.1v1.1h-1.1zM122.3 201.0h1.1v1.1h-1.1zM122.0 196.6h1.1v1.1h-1.1zM121.9 192.2h1.1v1.1h-1.1zM129.6 204.0h1.1v1.1h-1.1zM130.1 198.2h1.1v1.1h-1.1zM110.2 207.0h1.1v1.1h-1.1zM145.7 209.7h1.1v1.1h-1.1zM129.0 186.8h1.1v1.1h-1.1zM119.1 171.8h1.1v1.1h-1.1zM155.8 201.6h1.1v1.1h-1.1zM107.8 174.3h1.1v1.1h-1.1zM156.1 177.0h1.1v1.1h-1.1zM132.7 176.2h1.1v1.1h-1.1zM118.4 202.3h1.1v1.1h-1.1zM112.2 174.6h1.1v1.1h-1.1zM102.1 177.8h1.1v1.1h-1.1zM112.6 194.4h1.1v1.1h-1.1zM115.3 185.7h1.1v1.1h-1.1zM118.6 182.5h1.1v1.1h-1.1zM157.3 195.2h1.1v1.1h-1.1zM133.5 205.4h1.1v1.1h-1.1zM109.5 211.0h1.1v1.1h-1.1zM120.2 205.5h1.1v1.1h-1.1zM123.9 202.2h1.1v1.1h-1.1zM103.0 199.5h1.1v1.1h-1.1zM126.1 208.6h1.1v1.1h-1.1zM128.5 178.3h1.1v1.1h-1.1zM152.6 179.4h1.1v1.1h-1.1zM139.3 184.3h1.1v1.1h-1.1zM138.8 200.3h1.1v1.1h-1.1zM108.5 209.1h1.1v1.1h-1.1zM132.0 202.0h1.1v1.1h-1.1zM124.9 205.3h1.1v1.1h-1.1zM107.8 212.1h1.1v1.1h-1.1zM99.4 207.3h1.1v1.1h-1.1zM157.8 189.2h1.1v1.1h-1.1zM103.4 192.9h1.1v1.1h-1.1zM151.2 200.6h1.1v1.1h-1.1zM120.0 182.1h1.1v1.1h-1.1zM102.9 210.0h1.1v1.1h-1.1zM155.9 197.8h1.1v1.1h-1.1zM137.6 202.1h1.1v1.1h-1.1zM122.3 192.1h1.1v1.1h-1.1zM148.3 193.0h1.1v1.1h-1.1zM140.5 207.1h1.1v1.1h-1.1zM122.9 180.3h1.1v1.1h-1.1zM141.1 191.4h1.1v1.1h-1.1zM142.3 194.6h1.1v1.1h-1.1zM108.3 208.0h1.1v1.1h-1.1zM141.0 186.6h1.1v1.1h-1.1zM139.3 176.6h1.1v1.1h-1.1zM146.0 203.5h1.1v1.1h-1.1zM157.4 197.3h1.1v1.1h-1.1zM145.8 198.7h1.1v1.1h-1.1zM126.2 203.1h1.1v1.1h-1.1zM131.7 186.2h1.1v1.1h-1.1zM144.0 196.8h1.1v1.1h-1.1zM135.9 186.3h1.1v1.1h-1.1zM102.3 198.0h1.1v1.1h-1.1zM101.6 190.9h1.1v1.1h-1.1zM114.4 205.3h1.1v1.1h-1.1zM147.1 207.5h1.1v1.1h-1.1zM111.3 203.6h1.1v1.1h-1.1zM117.1 180.7h1.1v1.1h-1.1zM147.4 179.4h1.1v1.1h-1.1zM105.7 194.5h1.1v1.1h-1.1zM114.8 211.1h1.1v1.1h-1.1zM113.4 202.5h1.1v1.1h-1.1zM100.8 201.5h1.1v1.1h-1.1zM142.6 202.1h1.1v1.1h-1.1zM117.2 211.2h1.1v1.1h-1.1zM122.5 180.5h1.1v1.1h-1.1zM118.0 205.4h1.1v1.1h-1.1zM101.9 204.6h1.1v1.1h-1.1zM106.1 207.2h1.1v1.1h-1.1zM115.1 207.0h1.1v1.1h-1.1zM141.2 194.2h1.1v1.1h-1.1zM118.9 194.5h1.1v1.1h-1.1zM128.4 198.5h1.1v1.1h-1.1zM117.8 188.6h1.1v1.1h-1.1zM131.6 169.9h1.1v1.1h-1.1zM117.0 186.5h1.1v1.1h-1.1zM125.4 197.8h1.1v1.1h-1.1zM98.5 206.0h1.1v1.1h-1.1zM98.9 183.4h1.1v1.1h-1.1zM128.4 195.5h1.1v1.1h-1.1zM147.0 203.7h1.1v1.1h-1.1zM157.9 200.0h1.1v1.1h-1.1zM146.2 211.1h1.1v1.1h-1.1zM129.5 207.9h1.1v1.1h-1.1zM136.7 199.4h1.1v1.1h-1.1zM138.3 182.5h1.1v1.1h-1.1zM157.5 193.5h1.1v1.1h-1.1zM118.6 188.3h1.1v1.1h-1.1zM124.8 208.1h1.1v1.1h-1.1zM144.7 205.7h1.1v1.1h-1.1zM111.0 163.3h1.1v1.1h-1.1zM103.8 205.4h1.1v1.1h-1.1zM151.9 202.8h1.1v1.1h-1.1zM99.0 210.8h1.1v1.1h-1.1zM151.6 198.6h1.1v1.1h-1.1zM152.9 212.4h1.1v1.1h-1.1zM107.9 198.5h1.1v1.1h-1.1zM143.3 185.6h1.1v1.1h-1.1zM115.3 211.2h1.1v1.1h-1.1zM114.3 181.4h1.1v1.1h-1.1zM157.0 190.7h1.1v1.1h-1.1zM151.2 198.8h1.1v1.1h-1.1zM143.9 181.4h1.1v1.1h-1.1zM124.2 202.7h1.1v1.1h-1.1zM157.2 188.1h1.1v1.1h-1.1zM132.2 164.2h1.1v1.1h-1.1zM156.8 208.4h1.1v1.1h-1.1zM141.3 185.4h1.1v1.1h-1.1zM100.8 182.8h1.1v1.1h-1.1zM145.9 202.5h1.1v1.1h-1.1zM148.3 185.5h1.1v1.1h-1.1zM150.9 180.5h1.1v1.1h-1.1zM135.3 189.0h1.1v1.1h-1.1zM100.3 200.5h1.1v1.1h-1.1zM150.0 210.6h1.1v1.1h-1.1zM123.3 184.1h1.1v1.1h-1.1zM110.5 198.7h1.1v1.1h-1.1zM110.1 205.4h1.1v1.1h-1.1zM146.9 201.9h1.1v1.1h-1.1zM99.0 202.5h1.1v1.1h-1.1zM141.4 204.1h1.1v1.1h-1.1zM111.8 184.0h1.1v1.1h-1.1zM128.9 187.1h1.1v1.1h-1.1zM108.6 200.3h1.1v1.1h-1.1zM152.0 182.0h1.1v1.1h-1.1zM107.4 197.9h1.1v1.1h-1.1zM126.0 203.6h1.1v1.1h-1.1zM134.5 183.4h1.1v1.1h-1.1zM125.2 196.3h1.1v1.1h-1.1zM111.0 196.7h1.1v1.1h-1.1zM115.4 194.9h1.1v1.1h-1.1zM154.1 184.2h1.1v1.1h-1.1zM105.5 199.1h1.1v1.1h-1.1zM99.1 172.8h1.1v1.1h-1.1zM152.5 208.1h1.1v1.1h-1.1zM151.2 200.6h1.1v1.1h-1.1zM139.1 208.7h1.1v1.1h-1.1zM126.3 202.3h1.1v1.1h-1.1zM155.1 209.4h1.1v1.1h-1.1zM122.8 172.9h1.1v1.1h-1.1zM98.8 205.5h1.1v1.1h-1.1zM124.1 208.1h1.1v1.1h-1.1zM129.8 193.5h1.1v1.1h-1.1zM130.9 182.9h1.1v1.1h-1.1zM151.3 189.0h1.1v1.1h-1.1zM102.1 201.8h1.1v1.1h-1.1zM149.2 174.9h1.1v1.1h-1.1zM129.3 182.8h1.1v1.1h-1.1zM141.9 201.3h1.1v1.1h-1.1zM122.8 204.1h1.1v1.1h-1.1zM115.8 209.1h1.1v1.1h-1.1zM118.1 188.2h1.1v1.1h-1.1zM114.5 187.9h1.1v1.1h-1.1zM125.2 187.7h1.1v1.1h-1.1zM133.9 196.6h1.1v1.1h-1.1zM147.9 176.8h1.1v1.1h-1.1zM108.5 175.3h1.1v1.1h-1.1zM125.0 208.0h1.1v1.1h-1.1zM129.9 191.4h1.1v1.1h-1.1zM147.1 202.2h1.1v1.1h-1.1zM140.6 208.8h1.1v1.1h-1.1zM135.4 181.2h1.1v1.1h-1.1zM138.5 189.5h1.1v1.1h-1.1zM124.9 187.3h1.1v1.1h-1.1zM146.4 192.8h1.1v1.1h-1.1zM148.2 207.9h1.1v1.1h-1.1zM132.0 197.4h1.1v1.1h-1.1zM105.0 182.8h1.1v1.1h-1.1zM123.6 190.9h1.1v1.1h-1.1zM113.9 200.0h1.1v1.1h-1.1zM109.5 178.1h1.1v1.1h-1.1zM115.8 192.7h1.1v1.1h-1.1zM147.2 207.4h1.1v1.1h-1.1zM123.8 190.1h1.1v1.1h-1.1zM121.0 209.0h1.1v1.1h-1.1zM109.1 199.3h1.1v1.1h-1.1zM132.3 168.4h1.1v1.1h-1.1zM123.0 210.6h1.1v1.1h-1.1zM154.2 206.3h1.1v1.1h-1.1zM135.1 188.0h1.1v1.1h-1.1zM156.7 189.2h1.1v1.1h-1.1zM149.5 197.6h1.1v1.1h-1.1zM127.4 198.5h1.1v1.1h-1.1zM99.0 207.2h1.1v1.1h-1.1zM110.8 204.3h1.1v1.1h-1.1zM105.2 207.3h1.1v1.1h-1.1zM142.3 190.3h1.1v1.1h-1.1zM106.3 182.4h1.1v1.1h-1.1zM136.7 207.9h1.1v1.1h-1.1zM117.4 207.3h1.1v1.1h-1.1zM126.8 177.3h1.1v1.1h-1.1zM143.4 207.6h1.1v1.1h-1.1zM115.9 205.3h1.1v1.1h-1.1zM108.3 194.3h1.1v1.1h-1.1zM115.3 203.2h1.1v1.1h-1.1zM154.6 203.7h1.1v1.1h-1.1zM131.2 198.5h1.1v1.1h-1.1zM115.2 202.7h1.1v1.1h-1.1zM106.7 211.7h1.1v1.1h-1.1zM102.1 199.7h1.1v1.1h-1.1zM118.0 186.9h1.1v1.1h-1.1zM134.8 192.9h1.1v1.1h-1.1zM125.4 205.0h1.1v1.1h-1.1zM146.7 170.4h1.1v1.1h-1.1zM157.7 180.1h1.1v1.1h-1.1zM132.2 203.4h1.1v1.1h-1.1zM118.7 198.5h1.1v1.1h-1.1zM103.3 198.6h1.1v1.1h-1.1zM143.6 199.9h1.1v1.1h-1.1zM150.9 203.0h1.1v1.1h-1.1zM144.6 209.5h1.1v1.1h-1.1zM103.9 194.7h1.1v1.1h-1.1zM132.9 198.9h1.1v1.1h-1.1zM146.1 194.0h1.1v1.1h-1.1zM122.7 184.9h1.1v1.1h-1.1zM148.6 205.7h1.1v1.1h-1.1zM108.0 191.3h1.1v1.1h-1.1zM129.7 190.4h1.1v1.1h-1.1zM131.5 208.5h1.1v1.1h-1.1zM145.3 195.1h1.1v1.1h-1.1zM122.7 200.1h1.1v1.1h-1.1zM113.5 204.5h1.1v1.1h-1.1zM140.7 176.4h1.1v1.1h-1.1zM104.9 204.3h1.1v1.1h-1.1zM120.1 178.7h1.1v1.1h-1.1zM126.1 208.9h1.1v1.1h-1.1zM123.5 211.0h1.1v1.1h-1.1zM131.7 196.5h1.1v1.1h-1.1zM138.7 201.8h1.1v1.1h-1.1zM138.5 186.0h1.1v1.1h-1.1zM155.8 188.6h1.1v1.1h-1.1zM125.8 177.7h1.1v1.1h-1.1zM132.3 176.9h1.1v1.1h-1.1zM99.2 185.8h1.1v1.1h-1.1zM109.5 194.8h1.1v1.1h-1.1zM112.9 199.8h1.1v1.1h-1.1zM110.7 211.9h1.1v1.1h-1.1zM129.1 208.4h1.1v1.1h-1.1zM132.2 199.4h1.1v1.1h-1.1zM147.6 206.8h1.1v1.1h-1.1zM102.4 189.8h1.1v1.1h-1.1zM112.6 191.5h1.1v1.1h-1.1zM127.8 204.8h1.1v1.1h-1.1zM100.8 187.3h1.1v1.1h-1.1zM106.6 200.7h1.1v1.1h-1.1zM132.5 205.3h1.1v1.1h-1.1zM122.0 186.6h1.1v1.1h-1.1zM152.2 194.7h1.1v1.1h-1.1zM132.2 201.2h1.1v1.1h-1.1zM143.4 176.6h1.1v1.1h-1.1zM118.8 200.3h1.1v1.1h-1.1zM120.6 198.9h1.1v1.1h-1.1zM149.2 207.1h1.1v1.1h-1.1zM134.9 173.5h1.1v1.1h-1.1zM152.9 206.8h1.1v1.1h-1.1zM113.1 208.3h1.1v1.1h-1.1zM104.9 203.7h1.1v1.1h-1.1zM138.6 192.8h1.1v1.1h-1.1zM105.5 209.7h1.1v1.1h-1.1zM102.6 197.7h1.1v1.1h-1.1zM139.2 172.9h1.1v1.1h-1.1zM119.6 196.3h1.1v1.1h-1.1zM143.2 202.5h1.1v1.1h-1.1zM125.3 209.7h1.1v1.1h-1.1zM115.1 179.6h1.1v1.1h-1.1zM130.1 199.3h1.1v1.1h-1.1zM134.3 195.2h1.1v1.1h-1.1zM107.0 210.5h1.1v1.1h-1.1zM133.5 200.9h1.1v1.1h-1.1zM108.1 178.7h1.1v1.1h-1.1zM156.1 211.0h1.1v1.1h-1.1zM129.9 204.6h1.1v1.1h-1.1zM110.3 187.2h1.1v1.1h-1.1zM100.6 173.9h1.1v1.1h-1.1zM110.9 200.4h1.1v1.1h-1.1zM117.1 187.7h1.1v1.1h-1.1zM132.4 194.9h1.1v1.1h-1.1zM137.8 197.2h1.1v1.1h-1.1zM140.7 209.8h1.1v1.1h-1.1zM124.5 210.2h1.1v1.1h-1.1zM135.8 205.9h1.1v1.1h-1.1zM131.2 208.0h1.1v1.1h-1.1zM115.8 181.5h1.1v1.1h-1.1zM111.1 175.1h1.1v1.1h-1.1zM130.9 178.1h1.1v1.1h-1.1zM122.7 190.3h1.1v1.1h-1.1zM118.0 178.2h1.1v1.1h-1.1zM130.4 200.8h1.1v1.1h-1.1zM129.4 167.2h1.1v1.1h-1.1zM119.3 170.2h1.1v1.1h-1.1zM130.1 178.4h1.1v1.1h-1.1zM128.2 179.1h1.1v1.1h-1.1zM123.6 199.1h1.1v1.1h-1.1zM127.4 165.6h1.1v1.1h-1.1zM126.0 198.9h1.1v1.1h-1.1zM131.3 204.9h1.1v1.1h-1.1zM134.1 167.0h1.1v1.1h-1.1zM123.1 204.0h1.1v1.1h-1.1zM118.6 192.1h1.1v1.1h-1.1zM123.6 170.4h1.1v1.1h-1.1zM127.8 199.1h1.1v1.1h-1.1zM121.6 169.9h1.1v1.1h-1.1zM119.8 180.7h1.1v1.1h-1.1zM120.8 174.8h1.1v1.1h-1.1zM132.3 180.8h1.1v1.1h-1.1zM129.9 171.0h1.1v1.1h-1.1zM119.3 180.5h1.1v1.1h-1.1zM122.4 188.3h1.1v1.1h-1.1zM121.9 184.0h1.1v1.1h-1.1zM119.0 186.4h1.1v1.1h-1.1zM132.1 201.6h1.1v1.1h-1.1zM122.2 199.9h1.1v1.1h-1.1zM127.2 169.6h1.1v1.1h-1.1zM123.9 195.1h1.1v1.1h-1.1zM118.3 197.6h1.1v1.1h-1.1zM117.7 202.3h1.1v1.1h-1.1zM129.5 181.1h1.1v1.1h-1.1zM128.3 202.8h1.1v1.1h-1.1zM125.9 187.8h1.1v1.1h-1.1zM120.2 184.2h1.1v1.1h-1.1zM123.1 185.8h1.1v1.1h-1.1zM126.1 181.9h1.1v1.1h-1.1zM120.9 193.3h1.1v1.1h-1.1zM127.4 186.8h1.1v1.1h-1.1zM132.1 201.0h1.1v1.1h-1.1zM120.2 184.2h1.1v1.1h-1.1zM133.8 167.1h1.1v1.1h-1.1zM126.1 171.4h1.1v1.1h-1.1zM134.6 181.9h1.1v1.1h-1.1zM134.4 184.3h1.1v1.1h-1.1zM118.1 198.4h1.1v1.1h-1.1zM129.3 189.2h1.1v1.1h-1.1zM121.4 171.9h1.1v1.1h-1.1zM128.2 177.4h1.1v1.1h-1.1zM133.0 187.0h1.1v1.1h-1.1zM125.2 197.5h1.1v1.1h-1.1zM128.8 194.1h1.1v1.1h-1.1zM129.0 191.3h1.1v1.1h-1.1zM120.4 175.5h1.1v1.1h-1.1zM124.7 188.4h1.1v1.1h-1.1zM122.2 175.1h1.1v1.1h-1.1zM125.7 167.7h1.1v1.1h-1.1zM130.7 196.1h1.1v1.1h-1.1zM119.6 191.7h1.1v1.1h-1.1zM127.0 205.5h1.1v1.1h-1.1zM126.1 195.6h1.1v1.1h-1.1zM123.9 175.4h1.1v1.1h-1.1zM132.2 166.1h1.1v1.1h-1.1zM123.3 182.6h1.1v1.1h-1.1zM131.4 178.9h1.1v1.1h-1.1zM118.3 186.1h1.1v1.1h-1.1zM124.9 180.4h1.1v1.1h-1.1zM119.0 167.0h1.1v1.1h-1.1zM132.2 167.8h1.1v1.1h-1.1zM129.0 179.7h1.1v1.1h-1.1zM120.8 189.2h1.1v1.1h-1.1zM123.7 172.2h1.1v1.1h-1.1zM119.3 172.4h1.1v1.1h-1.1zM132.9 174.5h1.1v1.1h-1.1zM133.1 195.4h1.1v1.1h-1.1zM133.1 196.3h1.1v1.1h-1.1zM127.9 185.0h1.1v1.1h-1.1zM121.8 167.2h1.1v1.1h-1.1zM125.2 203.6h1.1v1.1h-1.1zM129.0 200.6h1.1v1.1h-1.1zM124.7 177.4h1.1v1.1h-1.1zM118.0 165.4h1.1v1.1h-1.1zM126.5 185.2h1.1v1.1h-1.1zM118.6 171.9h1.1v1.1h-1.1zM121.2 180.6h1.1v1.1h-1.1zM131.7 181.4h1.1v1.1h-1.1zM128.0 177.8h1.1v1.1h-1.1zM131.3 202.4h1.1v1.1h-1.1zM129.2 181.0h1.1v1.1h-1.1zM128.8 169.6h1.1v1.1h-1.1zM121.5 188.6h1.1v1.1h-1.1zM129.7 201.4h1.1v1.1h-1.1zM119.3 174.5h1.1v1.1h-1.1zM117.3 185.8h1.1v1.1h-1.1zM123.1 180.5h1.1v1.1h-1.1zM119.8 192.7h1.1v1.1h-1.1zM129.5 177.8h1.1v1.1h-1.1zM122.1 175.5h1.1v1.1h-1.1zM117.6 204.4h1.1v1.1h-1.1zM131.0 198.8h1.1v1.1h-1.1zM133.8 193.8h1.1v1.1h-1.1zM129.8 191.9h1.1v1.1h-1.1zM134.2 203.3h1.1v1.1h-1.1zM131.1 167.3h1.1v1.1h-1.1zM133.7 183.1h1.1v1.1h-1.1zM129.1 190.5h1.1v1.1h-1.1zM131.1 170.3h1.1v1.1h-1.1zM131.3 205.8h1.1v1.1h-1.1zM119.1 193.1h1.1v1.1h-1.1zM146.9 189.1h1.1v1.1h-1.1zM151.7 191.8h1.1v1.1h-1.1zM141.3 190.9h1.1v1.1h-1.1zM154.9 189.6h1.1v1.1h-1.1zM138.9 196.6h1.1v1.1h-1.1zM152.0 190.8h1.1v1.1h-1.1zM137.6 192.2h1.1v1.1h-1.1zM147.8 187.9h1.1v1.1h-1.1zM145.1 198.0h1.1v1.1h-1.1zM145.2 192.5h1.1v1.1h-1.1zM138.4 190.8h1.1v1.1h-1.1zM136.3 191.9h1.1v1.1h-1.1zM156.1 189.7h1.1v1.1h-1.1zM139.7 193.4h1.1v1.1h-1.1zM151.9 189.5h1.1v1.1h-1.1zM154.2 195.9h1.1v1.1h-1.1zM149.1 198.0h1.1v1.1h-1.1zM148.9 195.0h1.1v1.1h-1.1zM150.7 197.6h1.1v1.1h-1.1zM143.2 191.3h1.1v1.1h-1.1zM148.5 193.2h1.1v1.1h-1.1zM145.6 191.4h1.1v1.1h-1.1zM148.6 191.2h1.1v1.1h-1.1zM149.5 191.5h1.1v1.1h-1.1zM151.5 193.4h1.1v1.1h-1.1zM146.6 195.6h1.1v1.1h-1.1zM136.4 194.5h1.1v1.1h-1.1zM156.3 192.9h1.1v1.1h-1.1zM144.9 190.7h1.1v1.1h-1.1zM141.9 193.1h1.1v1.1h-1.1zM138.3 194.6h1.1v1.1h-1.1zM151.3 196.3h1.1v1.1h-1.1zM153.2 194.1h1.1v1.1h-1.1zM151.9 189.8h1.1v1.1h-1.1zM138.8 189.4h1.1v1.1h-1.1zM142.1 195.9h1.1v1.1h-1.1zM153.3 188.9h1.1v1.1h-1.1zM147.4 192.8h1.1v1.1h-1.1zM143.7 193.5h1.1v1.1h-1.1zM150.7 193.5h1.1v1.1h-1.1zM148.8 188.0h1.1v1.1h-1.1zM152.7 189.3h1.1v1.1h-1.1zM144.3 197.9h1.1v1.1h-1.1zM150.8 187.3h1.1v1.1h-1.1zM155.9 190.8h1.1v1.1h-1.1zM147.3 195.8h1.1v1.1h-1.1zM149.1 192.1h1.1v1.1h-1.1zM141.2 197.2h1.1v1.1h-1.1zM143.7 186.8h1.1v1.1h-1.1zM144.8 192.2h1.1v1.1h-1.1zM146.1 192.7h1.1v1.1h-1.1zM142.8 190.9h1.1v1.1h-1.1zM153.1 192.4h1.1v1.1h-1.1zM137.3 192.3h1.1v1.1h-1.1zM139.1 192.4h1.1v1.1h-1.1zM140.5 188.8h1.1v1.1h-1.1zM147.5 187.0h1.1v1.1h-1.1zM149.9 190.7h1.1v1.1h-1.1zM148.5 189.2h1.1v1.1h-1.1zM154.0 188.1h1.1v1.1h-1.1zM140.8 195.5h1.1v1.1h-1.1zM152.6 195.0h1.1v1.1h-1.1zM141.7 188.8h1.1v1.1h-1.1zM154.3 193.6h1.1v1.1h-1.1zM155.5 191.0h1.1v1.1h-1.1zM136.3 193.0h1.1v1.1h-1.1zM146.1 197.1h1.1v1.1h-1.1zM155.1 193.3h1.1v1.1h-1.1zM151.1 188.6h1.1v1.1h-1.1zM149.2 189.9h1.1v1.1h-1.1zM152.9 196.3h1.1v1.1h-1.1zM147.2 189.8h1.1v1.1h-1.1zM151.3 194.0h1.1v1.1h-1.1zM144.4 189.1h1.1v1.1h-1.1zM138.7 191.5h1.1v1.1h-1.1zM140.2 188.2h1.1v1.1h-1.1zM150.8 195.1h1.1v1.1h-1.1zM148.8 187.9h1.1v1.1h-1.1zM148.2 188.5h1.1v1.1h-1.1zM150.5 189.0h1.1v1.1h-1.1zM137.6 195.8h1.1v1.1h-1.1zM146.0 197.2h1.1v1.1h-1.1zM145.1 192.2h1.1v1.1h-1.1zM143.2 187.1h1.1v1.1h-1.1zM147.0 188.2h1.1v1.1h-1.1zM136.3 194.3h1.1v1.1h-1.1zM143.5 191.1h1.1v1.1h-1.1zM140.0 187.7h1.1v1.1h-1.1zM139.0 189.8h1.1v1.1h-1.1zM144.8 187.8h1.1v1.1h-1.1zM171.9 186.7h1.1v1.1h-1.1zM185.1 191.5h1.1v1.1h-1.1zM181.4 184.3h1.1v1.1h-1.1zM172.7 199.4h1.1v1.1h-1.1zM168.5 182.5h1.1v1.1h-1.1zM168.9 192.9h1.1v1.1h-1.1zM171.4 197.4h1.1v1.1h-1.1zM163.0 201.6h1.1v1.1h-1.1zM164.5 194.4h1.1v1.1h-1.1zM176.5 183.4h1.1v1.1h-1.1zM179.6 201.0h1.1v1.1h-1.1zM183.4 204.4h1.1v1.1h-1.1zM162.4 180.8h1.1v1.1h-1.1zM166.7 203.8h1.1v1.1h-1.1zM163.2 196.2h1.1v1.1h-1.1zM175.5 195.5h1.1v1.1h-1.1zM166.5 190.1h1.1v1.1h-1.1zM167.0 184.2h1.1v1.1h-1.1zM159.9 195.6h1.1v1.1h-1.1zM179.7 203.0h1.1v1.1h-1.1zM184.1 180.6h1.1v1.1h-1.1zM161.8 194.4h1.1v1.1h-1.1zM171.7 196.6h1.1v1.1h-1.1zM180.0 203.9h1.1v1.1h-1.1zM182.3 180.4h1.1v1.1h-1.1zM167.8 189.6h1.1v1.1h-1.1zM159.7 183.3h1.1v1.1h-1.1zM179.5 188.1h1.1v1.1h-1.1zM177.9 203.6h1.1v1.1h-1.1zM169.1 184.7h1.1v1.1h-1.1zM185.5 189.3h1.1v1.1h-1.1zM178.1 201.4h1.1v1.1h-1.1zM174.0 199.5h1.1v1.1h-1.1zM174.5 203.8h1.1v1.1h-1.1zM160.2 183.2h1.1v1.1h-1.1zM184.9 181.9h1.1v1.1h-1.1zM185.7 185.8h1.1v1.1h-1.1zM162.6 192.9h1.1v1.1h-1.1zM179.5 197.7h1.1v1.1h-1.1zM174.2 183.1h1.1v1.1h-1.1zM169.0 196.3h1.1v1.1h-1.1zM174.5 185.8h1.1v1.1h-1.1zM161.4 205.0h1.1v1.1h-1.1zM167.8 194.5h1.1v1.1h-1.1zM167.3 183.6h1.1v1.1h-1.1zM177.1 201.7h1.1v1.1h-1.1zM172.8 192.8h1.1v1.1h-1.1zM158.7 200.0h1.1v1.1h-1.1zM166.1 194.1h1.1v1.1h-1.1zM168.7 203.0h1.1v1.1h-1.1zM168.2 187.3h1.1v1.1h-1.1zM180.0 205.2h1.1v1.1h-1.1zM181.2 180.5h1.1v1.1h-1.1zM184.6 189.8h1.1v1.1h-1.1zM184.3 184.1h1.1v1.1h-1.1zM171.7 205.7h1.1v1.1h-1.1zM173.6 180.5h1.1v1.1h-1.1zM174.9 187.5h1.1v1.1h-1.1zM172.2 190.1h1.1v1.1h-1.1zM159.1 182.0h1.1v1.1h-1.1zM161.1 203.9h1.1v1.1h-1.1zM180.3 200.0h1.1v1.1h-1.1zM179.1 194.0h1.1v1.1h-1.1zM166.7 190.6h1.1v1.1h-1.1zM163.5 185.0h1.1v1.1h-1.1zM173.9 184.3h1.1v1.1h-1.1zM181.7 190.6h1.1v1.1h-1.1zM159.5 195.9h1.1v1.1h-1.1zM176.3 202.2h1.1v1.1h-1.1zM164.3 186.3h1.1v1.1h-1.1zM186.3 148.4h1.1v1.1h-1.1zM166.2 144.5h1.1v1.1h-1.1zM115.9 157.5h1.1v1.1h-1.1zM103.2 149.1h1.1v1.1h-1.1zM102.5 163.8h1.1v1.1h-1.1zM196.4 157.6h1.1v1.1h-1.1zM157.1 182.7h1.1v1.1h-1.1zM150.9 179.7h1.1v1.1h-1.1zM153.0 180.9h1.1v1.1h-1.1zM146.0 178.9h1.1v1.1h-1.1zM145.0 174.4h1.1v1.1h-1.1zM154.3 180.8h1.1v1.1h-1.1zM138.7 176.7h1.1v1.1h-1.1zM135.7 182.7h1.1v1.1h-1.1zM157.7 167.7h1.1v1.1h-1.1zM144.0 172.6h1.1v1.1h-1.1zM148.5 170.3h1.1v1.1h-1.1zM144.3 177.7h1.1v1.1h-1.1zM153.4 180.0h1.1v1.1h-1.1zM154.2 171.6h1.1v1.1h-1.1zM138.8 186.9h1.1v1.1h-1.1zM154.1 174.8h1.1v1.1h-1.1zM142.3 167.3h1.1v1.1h-1.1zM148.8 182.3h1.1v1.1h-1.1zM146.6 169.3h1.1v1.1h-1.1zM156.0 167.3h1.1v1.1h-1.1zM144.9 173.1h1.1v1.1h-1.1zM155.5 176.8h1.1v1.1h-1.1zM158.5 172.1h1.1v1.1h-1.1zM149.0 173.9h1.1v1.1h-1.1zM155.2 169.8h1.1v1.1h-1.1zM157.1 174.5h1.1v1.1h-1.1zM139.9 183.7h1.1v1.1h-1.1zM145.7 173.5h1.1v1.1h-1.1zM157.4 179.2h1.1v1.1h-1.1zM153.8 171.4h1.1v1.1h-1.1zM156.0 169.6h1.1v1.1h-1.1zM149.7 173.7h1.1v1.1h-1.1zM143.9 167.7h1.1v1.1h-1.1zM154.5 176.9h1.1v1.1h-1.1zM143.0 181.8h1.1v1.1h-1.1zM149.1 175.9h1.1v1.1h-1.1zM139.5 171.7h1.1v1.1h-1.1zM144.4 173.8h1.1v1.1h-1.1zM145.7 184.2h1.1v1.1h-1.1zM137.0 172.1h1.1v1.1h-1.1zM136.6 174.0h1.1v1.1h-1.1zM157.0 181.4h1.1v1.1h-1.1zM159.6 172.2h1.1v1.1h-1.1zM138.2 186.5h1.1v1.1h-1.1zM143.5 170.6h1.1v1.1h-1.1zM151.5 167.5h1.1v1.1h-1.1zM137.7 176.0h1.1v1.1h-1.1zM135.7 178.3h1.1v1.1h-1.1zM157.6 179.0h1.1v1.1h-1.1zM141.3 173.8h1.1v1.1h-1.1zM158.9 183.4h1.1v1.1h-1.1zM147.5 184.7h1.1v1.1h-1.1zM149.3 177.2h1.1v1.1h-1.1zM148.0 184.2h1.1v1.1h-1.1zM147.2 183.9h1.1v1.1h-1.1zM141.0 170.7h1.1v1.1h-1.1zM150.3 169.9h1.1v1.1h-1.1zM145.4 169.8h1.1v1.1h-1.1zM156.1 168.8h1.1v1.1h-1.1zM141.5 183.3h1.1v1.1h-1.1zM139.0 175.0h1.1v1.1h-1.1zM156.4 170.0h1.1v1.1h-1.1zM147.9 178.5h1.1v1.1h-1.1zM140.0 173.2h1.1v1.1h-1.1zM154.2 168.0h1.1v1.1h-1.1zM141.5 175.7h1.1v1.1h-1.1zM152.7 184.3h1.1v1.1h-1.1zM151.1 181.8h1.1v1.1h-1.1zM141.6 187.7h1.1v1.1h-1.1zM150.7 177.0h1.1v1.1h-1.1zM146.7 187.2h1.1v1.1h-1.1zM134.8 175.0h1.1v1.1h-1.1zM159.4 177.3h1.1v1.1h-1.1zM140.8 182.7h1.1v1.1h-1.1zM144.0 176.6h1.1v1.1h-1.1zM156.9 170.5h1.1v1.1h-1.1zM151.9 181.9h1.1v1.1h-1.1zM138.4 186.2h1.1v1.1h-1.1zM150.7 174.5h1.1v1.1h-1.1zM134.6 175.7h1.1v1.1h-1.1z" fill="#000" fill-opacity="0.7"/>
<rect x="98.00" y="140.80" width="114.30" height="73.00" fill="none" stroke="#333" stroke-width="1.0"/>
<line x1="97.9" y1="140.8" x2="97.9" y2="214.3" stroke="#111" stroke-width="1.4"/>
<path d="M95.5 213.80h2.5M96.6 208.31h1.4M96.6 205.09h1.4M96.6 202.81h1.4M96.6 201.04h1.4M96.6 199.60h1.4M96.6 198.38h1.4M96.6 197.32h1.4M96.6 196.39h1.4M95.5 195.55h2.5M96.6 190.06h1.4M96.6 186.84h1.4M96.6 184.56h1.4M96.6 182.79h1.4M96.6 181.35h1.4M96.6 180.13h1.4M96.6 179.07h1.4M96.6 178.14h1.4M95.5 177.30h2.5M96.6 171.81h1.4M96.6 168.59h1.4M96.6 166.31h1.4M96.6 164.54h1.4M96.6 163.10h1.4M96.6 161.88h1.4M96.6 160.82h1.4M96.6 159.89h1.4M95.5 159.05h2.5M96.6 153.56h1.4M96.6 150.34h1.4M96.6 148.06h1.4M96.6 146.29h1.4M96.6 144.85h1.4M96.6 143.63h1.4M96.6 142.57h1.4M96.6 141.64h1.4M98.00 213.8v2.5M106.54 213.8v1.4M111.54 213.8v1.4M115.08 213.8v1.4M117.83 213.8v1.4M120.08 213.8v1.4M121.98 213.8v1.4M123.63 213.8v1.4M125.08 213.8v1.4M126.38 213.8v2.5M134.92 213.8v1.4M139.91 213.8v1.4M143.46 213.8v1.4M146.21 213.8v1.4M148.46 213.8v1.4M150.35 213.8v1.4M152.00 213.8v1.4M153.45 213.8v1.4M154.75 213.8v2.5M163.29 213.8v1.4M168.29 213.8v1.4M171.83 213.8v1.4M174.58 213.8v1.4M176.83 213.8v1.4M178.73 213.8v1.4M180.38 213.8v1.4M181.83 213.8v1.4M183.12 213.8v2.5M191.67 213.8v1.4M196.66 213.8v1.4M200.21 213.8v1.4M202.96 213.8v1.4M205.21 213.8v1.4M207.10 213.8v1.4M208.75 213.8v1.4M210.20 213.8v1.4" stroke="#333" stroke-width="0.7" fill="none"/>
<rect x="98.75" y="167.50" width="18.75" height="31.80" fill="none" stroke="#111" stroke-width="1.0"/>
<rect x="134.25" y="167.50" width="24.50" height="31.80" fill="none" stroke="#111" stroke-width="1.0"/>
<rect x="158.75" y="167.50" width="24.50" height="31.80" fill="none" stroke="#111" stroke-width="1.0"/>
<text x="99.8" y="165.2" font-size="7.2" font-weight="bold" textLength="18.7" lengthAdjust="spacingAndGlyphs" >GFP<tspan font-size="4.90" dy="-2.45">-</tspan></text>
<text x="134.4" y="165.2" font-size="7.2" font-weight="bold" textLength="26.5" lengthAdjust="spacingAndGlyphs" >GFP<tspan font-size="4.90" dy="-2.16">low</tspan></text>
<text x="162.6" y="165.2" font-size="7.2" font-weight="bold" textLength="19.9" lengthAdjust="spacingAndGlyphs" >GFP<tspan font-size="4.90" dy="-2.16">hi</tspan></text>
<text x="112.3" y="157.2" font-size="8.8" font-weight="normal" textLength="29.8" lengthAdjust="spacingAndGlyphs" style="stroke-width:0.5px">CD4<tspan font-size="5.98" dy="-2.64">low</tspan></text>
<ellipse cx="107.5" cy="192.6" rx="8.2" ry="5.6" fill="none" stroke="#111" stroke-width="1.4"/>
<ellipse cx="146.4" cy="192.4" rx="11.2" ry="6.2" fill="none" stroke="#111" stroke-width="1.4"/>
<path d="M123.6 163.4 L110.6 190.3 M123.6 163.4 L144.7 188.8" fill="none" stroke="#000" stroke-width="1.5"/>
<path d="M109.6 183.6 L110.6 190.3 L115.9 187.9 M144.2 182.1 L144.7 188.8 L138.5 187.4" fill="none" stroke="#000" stroke-width="1.5" stroke-linejoin="miter"/>
<line x1="89.6" y1="56" x2="89.6" y2="186" stroke="#000" stroke-width="1.5"/>
<path d="M86.6 58 L89.6 51.5 L92.6 58 Z" fill="#000"/>
<text x="94.6" y="208.2" font-size="11.6" font-weight="bold" textLength="20.5" lengthAdjust="spacingAndGlyphs" transform="rotate(-90 94.6 208.2)" >CD4</text>
<text x="100.6" y="228.5" font-size="11.6" font-weight="bold" textLength="21.1" lengthAdjust="spacingAndGlyphs" >GFP</text>
<line x1="143" y1="223" x2="202" y2="223" stroke="#000" stroke-width="2"/>
<path d="M201 220 L207.5 223 L201 226 Z" fill="#000"/>
<text x="367.7" y="33.8" font-size="10.6" font-weight="bold" textLength="63.3" lengthAdjust="spacingAndGlyphs" >CD4<tspan font-size="7.21" dy="-3.60">+</tspan><tspan dy="3.60"> T cells</tspan></text>
<text x="252.4" y="191.6" font-size="13.0" font-weight="bold" textLength="139.8" lengthAdjust="spacingAndGlyphs" transform="rotate(-90 252.4 191.6)" >CD4 MFI Relative to Non-</text>
<text x="267.6" y="168.4" font-size="12.4" font-weight="bold" textLength="94.5" lengthAdjust="spacingAndGlyphs" transform="rotate(-90 267.6 168.4)" >Tg SdAb19<tspan font-size="8.43" dy="-4.22">+</tspan><tspan dy="4.22"> GFP</tspan><tspan font-size="8.43" dy="-3.72">hi</tspan></text>
<text x="290" y="197.7" font-size="9.0" font-weight="bold" text-anchor="end" textLength="4.6" lengthAdjust="spacingAndGlyphs" >0</text>
<text x="290" y="179.79375" font-size="9.0" font-weight="bold" text-anchor="end" textLength="9.2" lengthAdjust="spacingAndGlyphs" >20</text>
<text x="290" y="161.8875" font-size="9.0" font-weight="bold" text-anchor="end" textLength="9.2" lengthAdjust="spacingAndGlyphs" >40</text>
<text x="290" y="143.98125" font-size="9.0" font-weight="bold" text-anchor="end" textLength="9.2" lengthAdjust="spacingAndGlyphs" >60</text>
<text x="290" y="126.075" font-size="9.0" font-weight="bold" text-anchor="end" textLength="9.2" lengthAdjust="spacingAndGlyphs" >80</text>
<text x="290" y="108.16875" font-size="9.0" font-weight="bold" text-anchor="end" textLength="13.799999999999999" lengthAdjust="spacingAndGlyphs" >100</text>
<text x="290" y="90.2625" font-size="9.0" font-weight="bold" text-anchor="end" textLength="13.799999999999999" lengthAdjust="spacingAndGlyphs" >120</text>
<text x="290" y="72.35625" font-size="9.0" font-weight="bold" text-anchor="end" textLength="13.799999999999999" lengthAdjust="spacingAndGlyphs" >140</text>
<text x="290" y="54.45" font-size="9.0" font-weight="bold" text-anchor="end" textLength="13.799999999999999" lengthAdjust="spacingAndGlyphs" >160</text>
<line x1="293.75" y1="50" x2="293.75" y2="195.5" stroke="#000" stroke-width="2"/>
<line x1="292.75" y1="194.5" x2="504.3" y2="194.5" stroke="#000" stroke-width="2"/>
<rect x="306.25" y="103.25" width="17.00" height="91.25" fill="#000"/>
<line x1="356.625" y1="183.25" x2="356.625" y2="186.5" stroke="#444" stroke-width="1.2"/>
<line x1="353.625" y1="183.25" x2="359.625" y2="183.25" stroke="#444" stroke-width="1.4"/>
<rect x="348.25" y="185.50" width="16.75" height="9.00" fill="#000"/>
<line x1="399.0" y1="101.25" x2="399.0" y2="129.75" stroke="#444" stroke-width="1.2"/>
<line x1="396.0" y1="101.25" x2="402.0" y2="101.25" stroke="#444" stroke-width="1.4"/>
<rect x="390.00" y="128.75" width="18.00" height="65.75" fill="#000"/>
<line x1="441.25" y1="106.25" x2="441.25" y2="114" stroke="#444" stroke-width="1.2"/>
<line x1="438.25" y1="106.25" x2="444.25" y2="106.25" stroke="#444" stroke-width="1.4"/>
<rect x="433.00" y="113.00" width="16.50" height="81.50" fill="#000"/>
<line x1="483.25" y1="183.5" x2="483.25" y2="187.2" stroke="#444" stroke-width="1.2"/>
<line x1="480.25" y1="183.5" x2="486.25" y2="183.5" stroke="#444" stroke-width="1.4"/>
<rect x="474.50" y="186.20" width="17.50" height="8.30" fill="#000"/>
<path d="M311.75 60.8 L311.75 57 L440 57 L440 60.8" fill="none" stroke="#000" stroke-width="1.3"/>
<text x="367.5" y="54.3" font-size="9.0" font-weight="bold" textLength="9.5" lengthAdjust="spacingAndGlyphs" >ns</text>
<path d="M349.25 70.2 L349.25 66.2 L442.5 66.2 L442.5 70.2" fill="none" stroke="#000" stroke-width="1.3"/>
<path d="M386.50 59.20L386.50 65.20M383.90 60.70L389.10 63.70M389.10 60.70L383.90 63.70M394.62 59.20L394.62 65.20M392.03 60.70L397.22 63.70M397.22 60.70L392.03 63.70M402.75 59.20L402.75 65.20M400.15 60.70L405.35 63.70M405.35 60.70L400.15 63.70" stroke="#1a1a1a" stroke-width="1.35" fill="none"/>
<path d="M313.25 100.2 L313.25 96.25 L357.5 96.25 L357.5 100.2" fill="none" stroke="#000" stroke-width="1.3"/>
<path d="M327.00 88.50L327.00 94.50M324.40 90.00L329.60 93.00M329.60 90.00L324.40 93.00M334.88 88.50L334.88 94.50M332.28 90.00L337.47 93.00M337.47 90.00L332.28 93.00M342.75 88.50L342.75 94.50M340.15 90.00L345.35 93.00M345.35 90.00L340.15 93.00" stroke="#1a1a1a" stroke-width="1.35" fill="none"/>
<text x="303" y="205.2" font-size="8.5" font-weight="bold" textLength="23.2" lengthAdjust="spacingAndGlyphs" >GFP<tspan font-size="5.78" dy="-2.55">hi</tspan></text>
<text x="348.6" y="205.2" font-size="8.5" font-weight="bold" textLength="16.5" lengthAdjust="spacingAndGlyphs" >GFP<tspan font-size="5.78" dy="-2.89">-</tspan></text>
<text x="386.25" y="205.2" font-size="8.5" font-weight="bold" textLength="29.2" lengthAdjust="spacingAndGlyphs" >GFP<tspan font-size="5.78" dy="-2.55">low</tspan></text>
<text x="431.25" y="205.2" font-size="8.5" font-weight="bold" textLength="19.5" lengthAdjust="spacingAndGlyphs" >GFP<tspan font-size="5.78" dy="-2.55">hi</tspan></text>
<text x="298.75" y="215.3" font-size="9.2" font-weight="bold" text-anchor="end" textLength="36" lengthAdjust="spacingAndGlyphs" >sdAb19:</text>
<text x="313.25" y="216.5" font-size="9.0" font-weight="bold" text-anchor="middle" >+</text>
<text x="352" y="216.5" font-size="9.0" font-weight="bold" text-anchor="middle" >+</text>
<text x="396.25" y="216.5" font-size="9.0" font-weight="bold" text-anchor="middle" >+</text>
<text x="439.5" y="216.5" font-size="9.0" font-weight="bold" text-anchor="middle" >+</text>
<line x1="480.2" y1="213" x2="487" y2="213" stroke="#000" stroke-width="1.6"/>
<line x1="297.5" y1="217.6" x2="332.5" y2="217.6" stroke="#000" stroke-width="1.8"/>
<line x1="345" y1="217.6" x2="498.3" y2="217.6" stroke="#000" stroke-width="1.8"/>
<text x="298.75" y="228.8" font-size="9.5" font-weight="bold" textLength="32.3" lengthAdjust="spacingAndGlyphs" >Non-Tg</text>
<text x="408.75" y="228.8" font-size="9.5" font-weight="bold" textLength="11.3" lengthAdjust="spacingAndGlyphs" >Tg</text>
<text x="2.0" y="263.9" font-size="16.8" font-weight="bold" textLength="11" lengthAdjust="spacingAndGlyphs" >B</text>
<text x="67.5" y="270.6" font-size="12.2" font-weight="bold" textLength="127.1" lengthAdjust="spacingAndGlyphs" >Level on LN CD4<tspan font-size="8.30" dy="-4.15">+</tspan><tspan dy="4.15"> T cells</tspan></text>
<text x="41.0" y="447.45" font-size="9.0" font-weight="bold" text-anchor="end" textLength="4.4" lengthAdjust="spacingAndGlyphs" >0</text>
<text x="41.0" y="418.45" font-size="9.0" font-weight="bold" text-anchor="end" textLength="8.8" lengthAdjust="spacingAndGlyphs" >10</text>
<text x="41.0" y="389.45" font-size="9.0" font-weight="bold" text-anchor="end" textLength="8.8" lengthAdjust="spacingAndGlyphs" >20</text>
<text x="41.0" y="360.45" font-size="9.0" font-weight="bold" text-anchor="end" textLength="8.8" lengthAdjust="spacingAndGlyphs" >30</text>
<text x="41.0" y="331.45" font-size="9.0" font-weight="bold" text-anchor="end" textLength="8.8" lengthAdjust="spacingAndGlyphs" >40</text>
<text x="41.0" y="302.45" font-size="9.0" font-weight="bold" text-anchor="end" textLength="8.8" lengthAdjust="spacingAndGlyphs" >50</text>
<line x1="44.8" y1="298.75" x2="44.8" y2="445" stroke="#000" stroke-width="1.6"/>
<line x1="44" y1="444.25" x2="255" y2="444.25" stroke="#000" stroke-width="1.8"/>
<line x1="151.25" y1="444.25" x2="151.25" y2="447" stroke="#888" stroke-width="0.8"/>
<text x="29.7" y="391.9" font-size="11.8" font-weight="bold" textLength="41.9" lengthAdjust="spacingAndGlyphs" transform="rotate(-90 29.7 391.9)" >Percent</text>
<line x1="69.0" y1="376.25" x2="69.0" y2="393" stroke="#444" stroke-width="1.2"/>
<line x1="66.25" y1="376.25" x2="71.75" y2="376.25" stroke="#444" stroke-width="1.4"/>
<rect x="59.25" y="392.00" width="19.50" height="52.25" fill="#000"/>
<line x1="88.0" y1="350.5" x2="88.0" y2="358.5" stroke="#444" stroke-width="1.2"/>
<line x1="85.25" y1="350.5" x2="90.75" y2="350.5" stroke="#444" stroke-width="1.4"/>
<rect x="79.85" y="358.10" width="16.30" height="86.15" fill="url(#dotg)" stroke="#222" stroke-width="1.2"/>
<line x1="107.5" y1="313" x2="107.5" y2="351.75" stroke="#444" stroke-width="1.2"/>
<line x1="104.75" y1="313" x2="110.25" y2="313" stroke="#444" stroke-width="1.4"/>
<rect x="98.20" y="351.45" width="18.60" height="92.80" fill="url(#hatch)" stroke="#000" stroke-width="1.4"/>
<line x1="126.875" y1="386.75" x2="126.875" y2="405.5" stroke="#444" stroke-width="1.2"/>
<line x1="124.125" y1="386.75" x2="129.625" y2="386.75" stroke="#444" stroke-width="1.4"/>
<rect x="118.00" y="405.00" width="17.75" height="39.25" fill="#fff" stroke="#000" stroke-width="1"/>
<line x1="174.375" y1="422" x2="174.375" y2="425.25" stroke="#444" stroke-width="1.2"/>
<line x1="171.625" y1="422" x2="177.125" y2="422" stroke="#444" stroke-width="1.4"/>
<rect x="165.00" y="424.25" width="18.75" height="20.00" fill="#000"/>
<line x1="194.125" y1="360" x2="194.125" y2="364" stroke="#444" stroke-width="1.2"/>
<line x1="191.375" y1="360" x2="196.875" y2="360" stroke="#444" stroke-width="1.4"/>
<rect x="185.10" y="363.60" width="18.05" height="80.65" fill="url(#dotg)" stroke="#222" stroke-width="1.2"/>
<line x1="213.625" y1="367.5" x2="213.625" y2="386.75" stroke="#444" stroke-width="1.2"/>
<line x1="210.875" y1="367.5" x2="216.375" y2="367.5" stroke="#444" stroke-width="1.4"/>
<rect x="204.95" y="386.45" width="17.35" height="57.80" fill="url(#hatch)" stroke="#000" stroke-width="1.4"/>
<line x1="232.375" y1="427.5" x2="232.375" y2="434.25" stroke="#444" stroke-width="1.2"/>
<line x1="229.625" y1="427.5" x2="235.125" y2="427.5" stroke="#444" stroke-width="1.4"/>
<rect x="223.50" y="433.75" width="17.75" height="10.50" fill="#fff" stroke="#000" stroke-width="1"/>
<path d="M67.5 291.3 L67.5 287.5 L128 287.5 L128 291.3" fill="none" stroke="#000" stroke-width="1.3"/>
<text x="95" y="284.5" font-size="9.0" font-weight="bold" textLength="11.2" lengthAdjust="spacingAndGlyphs" >ns</text>
<path d="M88 298.5 L88 295.75 L107.5 295.75 L107.5 298.5" fill="none" stroke="#000" stroke-width="1.3"/>
<text x="93.75" y="293.7" font-size="9.0" font-weight="bold" textLength="10.7" lengthAdjust="spacingAndGlyphs" >ns</text>
<path d="M88 312.5 L88 308.75 L128 308.75 L128 312.5" fill="none" stroke="#000" stroke-width="1.3"/>
<path d="M99.00 301.00L99.00 307.00M96.40 302.50L101.60 305.50M101.60 302.50L96.40 305.50M107.50 301.00L107.50 307.00M104.90 302.50L110.10 305.50M110.10 302.50L104.90 305.50M116.00 301.00L116.00 307.00M113.40 302.50L118.60 305.50M118.60 302.50L113.40 305.50" stroke="#1a1a1a" stroke-width="1.35" fill="none"/>
<path d="M67 327.5 L67 323.75 L107.5 323.75" fill="none" stroke="#000" stroke-width="1.3"/>
<path d="M86.50 316.00L86.50 322.00M83.90 317.50L89.10 320.50M89.10 317.50L83.90 320.50" stroke="#1a1a1a" stroke-width="1.35" fill="none"/>
<path d="M88 335.5 L88 332 L128 332 L128 335.5" fill="none" stroke="#000" stroke-width="1.3"/>
<path d="M111.50 324.30L111.50 330.30M108.90 325.80L114.10 328.80M114.10 325.80L108.90 328.80M119.75 324.30L119.75 330.30M117.15 325.80L122.35 328.80M122.35 325.80L117.15 328.80" stroke="#1a1a1a" stroke-width="1.35" fill="none"/>
<path d="M70 346.3 L70 343 L88.75 343 L88.75 346.3" fill="none" stroke="#000" stroke-width="1.3"/>
<path d="M79.50 335.30L79.50 341.30M76.90 336.80L82.10 339.80M82.10 336.80L76.90 339.80" stroke="#1a1a1a" stroke-width="1.35" fill="none"/>
<path d="M171.25 292 L171.25 288 L230.5 288 L230.5 292" fill="none" stroke="#000" stroke-width="1.3"/>
<text x="197.5" y="286.3" font-size="9.0" font-weight="bold" textLength="9.5" lengthAdjust="spacingAndGlyphs" >ns</text>
<path d="M175 305 L175 301.25 L213.75 301.25 L213.75 305" fill="none" stroke="#000" stroke-width="1.3"/>
<path d="M186.50 293.00L186.50 299.00M183.90 294.50L189.10 297.50M189.10 294.50L183.90 297.50M194.38 293.00L194.38 299.00M191.78 294.50L196.97 297.50M196.97 294.50L191.78 297.50M202.25 293.00L202.25 299.00M199.65 294.50L204.85 297.50M204.85 294.50L199.65 297.50" stroke="#1a1a1a" stroke-width="1.35" fill="none"/>
<path d="M193.75 323 L193.75 319.25 L232.5 319.25 L232.5 323" fill="none" stroke="#000" stroke-width="1.3"/>
<path d="M205.75 311.50L205.75 317.50M203.15 313.00L208.35 316.00M208.35 313.00L203.15 316.00M213.75 311.50L213.75 317.50M211.15 313.00L216.35 316.00M216.35 313.00L211.15 316.00M221.75 311.50L221.75 317.50M219.15 313.00L224.35 316.00M224.35 313.00L219.15 316.00" stroke="#1a1a1a" stroke-width="1.35" fill="none"/>
<path d="M173.75 340.5 L173.75 337.5 L193.75 337.5 L193.75 340.5" fill="none" stroke="#000" stroke-width="1.3"/>
<path d="M176.50 329.80L176.50 335.80M173.90 331.30L179.10 334.30M179.10 331.30L173.90 334.30M184.62 329.80L184.62 335.80M182.03 331.30L187.22 334.30M187.22 331.30L182.03 334.30M192.75 329.80L192.75 335.80M190.15 331.30L195.35 334.30M195.35 331.30L190.15 334.30" stroke="#1a1a1a" stroke-width="1.35" fill="none"/>
<path d="M194.5 352.5 L194.5 349.5 L213.25 349.5 L213.25 352.5" fill="none" stroke="#000" stroke-width="1.3"/>
<path d="M204.50 342.30L204.50 348.30M201.90 343.80L207.10 346.80M207.10 343.80L201.90 346.80" stroke="#1a1a1a" stroke-width="1.35" fill="none"/>
<path d="M214.5 362 L214.5 358.75 L233.25 358.75 L233.25 362" fill="none" stroke="#000" stroke-width="1.3"/>
<path d="M218.25 350.50L218.25 356.50M215.65 352.00L220.85 355.00M220.85 352.00L215.65 355.00M226.25 350.50L226.25 356.50M223.65 352.00L228.85 355.00M228.85 352.00L223.65 355.00M234.25 350.50L234.25 356.50M231.65 352.00L236.85 355.00M236.85 352.00L231.65 355.00" stroke="#1a1a1a" stroke-width="1.35" fill="none"/>
<text x="82" y="461.3" font-size="10.2" font-weight="bold" textLength="34.2" lengthAdjust="spacingAndGlyphs" >CD44<tspan font-size="6.94" dy="-3.06">hi</tspan></text>
<text x="190" y="461.3" font-size="10.2" font-weight="bold" textLength="25" lengthAdjust="spacingAndGlyphs" >CD25</text>
<rect x="98.80" y="474.60" width="11.00" height="9.60" fill="#000"/>
<rect x="99.30" y="489.50" width="10.00" height="9.20" fill="url(#dotg)" stroke="#444" stroke-width="1.1"/>
<rect x="164.7" y="474.5" width="10.5" height="9.699999999999989" fill="#fff"/>
<path d="M164.7 474.5 h4.2 L164.7 478.7 Z M175.2 484.2 h-3.4 L175.2 480.8 Z" fill="#000"/>
<line x1="165.2" y1="483.7" x2="174.7" y2="475.0" stroke="#000" stroke-width="2.6"/>
<rect x="164.7" y="474.5" width="10.5" height="9.699999999999989" fill="none" stroke="#000" stroke-width="1.5"/>
<rect x="164.70" y="489.50" width="10.20" height="9.20" fill="#fff" stroke="#222" stroke-width="1"/>
<text x="115.8" y="482.3" font-size="9.0" font-weight="bold" textLength="31.5" lengthAdjust="spacingAndGlyphs" >Tg GFP<tspan font-size="6.12" dy="-2.70">hi</tspan></text>
<text x="115.8" y="496.7" font-size="9.0" font-weight="bold" textLength="10.5" lengthAdjust="spacingAndGlyphs" >Tg</text>
<text x="178.7" y="481.9" font-size="9.0" font-weight="bold" textLength="38.4" lengthAdjust="spacingAndGlyphs" >Tg GFP<tspan font-size="6.12" dy="-2.70">low</tspan></text>
<text x="177.9" y="497.3" font-size="9.0" font-weight="bold" textLength="54.2" lengthAdjust="spacingAndGlyphs" >Non-Tg GFP<tspan font-size="6.12" dy="-2.70">hi</tspan></text>
<text x="271.9" y="264.6" font-size="16.8" font-weight="bold" textLength="11" lengthAdjust="spacingAndGlyphs" >C</text>
<text x="350.8" y="269.8" font-size="11.4" font-weight="bold" textLength="131.1" lengthAdjust="spacingAndGlyphs" >Frequency of GFP<tspan font-size="7.75" dy="-3.88">+</tspan><tspan dy="3.88"> in LN</tspan></text>
<text x="372.8" y="284.0" font-size="11.4" font-weight="bold" textLength="87" lengthAdjust="spacingAndGlyphs" >cell populations</text>
<text x="297.5" y="447.2" font-size="9.0" font-weight="bold" text-anchor="end" textLength="4.5" lengthAdjust="spacingAndGlyphs" >0</text>
<text x="297.5" y="425.48571428571427" font-size="9.0" font-weight="bold" text-anchor="end" textLength="9.0" lengthAdjust="spacingAndGlyphs" >10</text>
<text x="297.5" y="403.77142857142854" font-size="9.0" font-weight="bold" text-anchor="end" textLength="9.0" lengthAdjust="spacingAndGlyphs" >20</text>
<text x="297.5" y="382.0571428571429" font-size="9.0" font-weight="bold" text-anchor="end" textLength="9.0" lengthAdjust="spacingAndGlyphs" >30</text>
<text x="297.5" y="360.3428571428571" font-size="9.0" font-weight="bold" text-anchor="end" textLength="9.0" lengthAdjust="spacingAndGlyphs" >40</text>
<text x="297.5" y="338.62857142857143" font-size="9.0" font-weight="bold" text-anchor="end" textLength="9.0" lengthAdjust="spacingAndGlyphs" >50</text>
<text x="297.5" y="316.9142857142857" font-size="9.0" font-weight="bold" text-anchor="end" textLength="9.0" lengthAdjust="spacingAndGlyphs" >60</text>
<text x="297.5" y="295.2" font-size="9.0" font-weight="bold" text-anchor="end" textLength="9.0" lengthAdjust="spacingAndGlyphs" >70</text>
<line x1="303.9" y1="292" x2="303.9" y2="445" stroke="#000" stroke-width="1.6"/>
<line x1="303" y1="444" x2="515" y2="444" stroke="#000" stroke-width="1.8"/>
<line x1="303.9" y1="444" x2="303.9" y2="447.5" stroke="#777" stroke-width="0.8"/>
<line x1="375" y1="444" x2="375" y2="447.5" stroke="#777" stroke-width="0.8"/>
<line x1="444.5" y1="444" x2="444.5" y2="447.5" stroke="#777" stroke-width="0.8"/>
<text x="282.8" y="386.6" font-size="11.6" font-weight="bold" textLength="40.7" lengthAdjust="spacingAndGlyphs" transform="rotate(-90 282.8 386.6)" >Percent</text>
<line x1="319.29999999999995" y1="387.3" x2="319.29999999999995" y2="405.7" stroke="#444" stroke-width="1.2"/>
<line x1="316.54999999999995" y1="387.3" x2="322.04999999999995" y2="387.3" stroke="#444" stroke-width="1.4"/>
<rect x="313.20" y="405.20" width="12.20" height="38.80" fill="#fff" stroke="#000" stroke-width="1"/>
<line x1="332.4" y1="371.6" x2="332.4" y2="390.5" stroke="#444" stroke-width="1.2"/>
<line x1="329.65" y1="371.6" x2="335.15" y2="371.6" stroke="#444" stroke-width="1.4"/>
<rect x="325.90" y="389.50" width="13.00" height="54.50" fill="#000"/>
<line x1="345.35" y1="324" x2="345.35" y2="343.7" stroke="#444" stroke-width="1.2"/>
<line x1="342.6" y1="324" x2="348.1" y2="324" stroke="#444" stroke-width="1.4"/>
<rect x="339.40" y="343.20" width="11.90" height="100.80" fill="#c0c0c0" stroke="#000" stroke-width="1"/>
<line x1="358.15" y1="325.6" x2="358.15" y2="347.8" stroke="#444" stroke-width="1.2"/>
<line x1="355.4" y1="325.6" x2="360.9" y2="325.6" stroke="#444" stroke-width="1.4"/>
<rect x="352.50" y="347.50" width="11.30" height="96.50" fill="url(#hatch)" stroke="#000" stroke-width="1.4"/>
<line x1="390.6" y1="388.5" x2="390.6" y2="399.3" stroke="#444" stroke-width="1.2"/>
<line x1="387.85" y1="388.5" x2="393.35" y2="388.5" stroke="#444" stroke-width="1.4"/>
<rect x="384.30" y="398.80" width="12.60" height="45.20" fill="#fff" stroke="#000" stroke-width="1"/>
<line x1="403.45" y1="308.8" x2="403.45" y2="349.4" stroke="#444" stroke-width="1.2"/>
<line x1="400.7" y1="308.8" x2="406.2" y2="308.8" stroke="#444" stroke-width="1.4"/>
<rect x="397.40" y="348.40" width="12.10" height="95.60" fill="#000"/>
<line x1="416.0" y1="341.1" x2="416.0" y2="366.1" stroke="#444" stroke-width="1.2"/>
<line x1="413.25" y1="341.1" x2="418.75" y2="341.1" stroke="#444" stroke-width="1.4"/>
<rect x="410.00" y="365.60" width="12.00" height="78.40" fill="#c0c0c0" stroke="#000" stroke-width="1"/>
<line x1="428.5" y1="358.7" x2="428.5" y2="376.8" stroke="#444" stroke-width="1.2"/>
<line x1="425.75" y1="358.7" x2="431.25" y2="358.7" stroke="#444" stroke-width="1.4"/>
<rect x="423.20" y="376.50" width="10.60" height="67.50" fill="url(#hatch)" stroke="#000" stroke-width="1.4"/>
<line x1="460.85" y1="371.7" x2="460.85" y2="383.4" stroke="#444" stroke-width="1.2"/>
<line x1="458.1" y1="371.7" x2="463.6" y2="371.7" stroke="#444" stroke-width="1.4"/>
<rect x="454.70" y="382.90" width="12.30" height="61.10" fill="#fff" stroke="#000" stroke-width="1"/>
<line x1="473.85" y1="325.6" x2="473.85" y2="361.8" stroke="#444" stroke-width="1.2"/>
<line x1="471.1" y1="325.6" x2="476.6" y2="325.6" stroke="#444" stroke-width="1.4"/>
<rect x="467.50" y="360.80" width="12.70" height="83.20" fill="#000"/>
<line x1="486.79999999999995" y1="342" x2="486.79999999999995" y2="366.7" stroke="#444" stroke-width="1.2"/>
<line x1="484.04999999999995" y1="342" x2="489.54999999999995" y2="342" stroke="#444" stroke-width="1.4"/>
<rect x="480.70" y="366.20" width="12.20" height="77.80" fill="#c0c0c0" stroke="#000" stroke-width="1"/>
<line x1="499.5" y1="355.9" x2="499.5" y2="369" stroke="#444" stroke-width="1.2"/>
<line x1="496.75" y1="355.9" x2="502.25" y2="355.9" stroke="#444" stroke-width="1.4"/>
<rect x="494.10" y="368.70" width="10.80" height="75.30" fill="url(#hatch)" stroke="#000" stroke-width="1.4"/>
<path d="M319.6 362 L319.6 359.2 L333.9 359.2 L333.9 362" fill="none" stroke="#000" stroke-width="1.3"/>
<text x="322.9" y="353.2" font-size="8.6" font-weight="bold" textLength="9.1" lengthAdjust="spacingAndGlyphs" >ns</text>
<path d="M345 310.6 L345 308 L358.25 308 L358.25 310.6" fill="none" stroke="#000" stroke-width="1.3"/>
<text x="349.5" y="303" font-size="8.6" font-weight="bold" textLength="8.5" lengthAdjust="spacingAndGlyphs" >ns</text>
<path d="M390.8 305.4 L390.8 302.5 L403.7 302.5 L403.7 305.4" fill="none" stroke="#000" stroke-width="1.3"/>
<path d="M396.50 293.20L396.50 299.20M393.90 294.70L399.10 297.70M399.10 294.70L393.90 297.70" stroke="#1a1a1a" stroke-width="1.35" fill="none"/>
<path d="M413.8 337.1 L413.8 334.2 L427.7 334.2 L427.7 337.1" fill="none" stroke="#000" stroke-width="1.3"/>
<text x="416.7" y="329" font-size="8.6" font-weight="bold" textLength="9.5" lengthAdjust="spacingAndGlyphs" >ns</text>
<path d="M460.9 320.4 L460.9 317.5 L473.8 317.5 L473.8 320.4" fill="none" stroke="#000" stroke-width="1.3"/>
<text x="463.7" y="311.7" font-size="8.6" font-weight="bold" textLength="9.3" lengthAdjust="spacingAndGlyphs" >ns</text>
<path d="M488.8 333.4 L488.8 330.5 L502.7 330.5 L502.7 333.4" fill="none" stroke="#000" stroke-width="1.3"/>
<text x="492" y="324.7" font-size="8.6" font-weight="bold" textLength="9.2" lengthAdjust="spacingAndGlyphs" >ns</text>
<text x="403.75" y="457" font-size="10.0" font-weight="bold" textLength="20" lengthAdjust="spacingAndGlyphs" >CD4<tspan font-size="6.80" dy="-3.40">+</tspan></text>
<text x="471.25" y="457" font-size="10.0" font-weight="bold" textLength="22.5" lengthAdjust="spacingAndGlyphs" >CD8<tspan font-size="6.80" dy="-3.40">+</tspan></text>
<line x1="313.75" y1="461.3" x2="366.75" y2="461.3" stroke="#000" stroke-width="1.8"/>
<line x1="383.75" y1="461.3" x2="507" y2="461.3" stroke="#000" stroke-width="1.8"/>
<text x="329.25" y="474.5" font-size="10.0" font-weight="bold" textLength="20.3" lengthAdjust="spacingAndGlyphs" >TcR<tspan font-size="6.80" dy="-3.40">-</tspan></text>
<text x="437.5" y="474.5" font-size="10.0" font-weight="bold" textLength="20.5" lengthAdjust="spacingAndGlyphs" >TcR<tspan font-size="6.80" dy="-3.40">+</tspan></text>
<rect x="329.75" y="480.00" width="10.25" height="9.00" fill="#fff" stroke="#000" stroke-width="1"/>
<rect x="329.25" y="493.75" width="11.25" height="10.00" fill="#000"/>
<rect x="414.25" y="480.00" width="9.75" height="9.00" fill="#c0c0c0" stroke="#000" stroke-width="1.2"/>
<rect x="413.8" y="494.8" width="10.399999999999977" height="9.199999999999989" fill="#fff"/>
<path d="M413.8 494.8 h4.2 L413.8 499.0 Z M424.2 504.0 h-3.4 L424.2 500.6 Z" fill="#000"/>
<line x1="414.3" y1="503.5" x2="423.7" y2="495.3" stroke="#000" stroke-width="2.6"/>
<rect x="413.8" y="494.8" width="10.399999999999977" height="9.199999999999989" fill="none" stroke="#000" stroke-width="1.5"/>
<text x="348.5" y="488.8" font-size="9.0" font-weight="bold" textLength="55.3" lengthAdjust="spacingAndGlyphs" >Non-Tg GFP<tspan font-size="6.12" dy="-2.70">hi</tspan></text>
<text x="348.5" y="502.5" font-size="9.0" font-weight="bold" textLength="35.2" lengthAdjust="spacingAndGlyphs" >Tg GFP<tspan font-size="6.12" dy="-2.70">hi</tspan></text>
<text x="433" y="488.8" font-size="9.0" font-weight="bold" textLength="58.3" lengthAdjust="spacingAndGlyphs" >Non-Tg GFP<tspan font-size="6.12" dy="-2.70">low</tspan></text>
<text x="431.25" y="502.5" font-size="9.0" font-weight="bold" textLength="40" lengthAdjust="spacingAndGlyphs" >Tg GFP<tspan font-size="6.12" dy="-2.70">low</tspan></text>
</g></svg>
</body></html>
